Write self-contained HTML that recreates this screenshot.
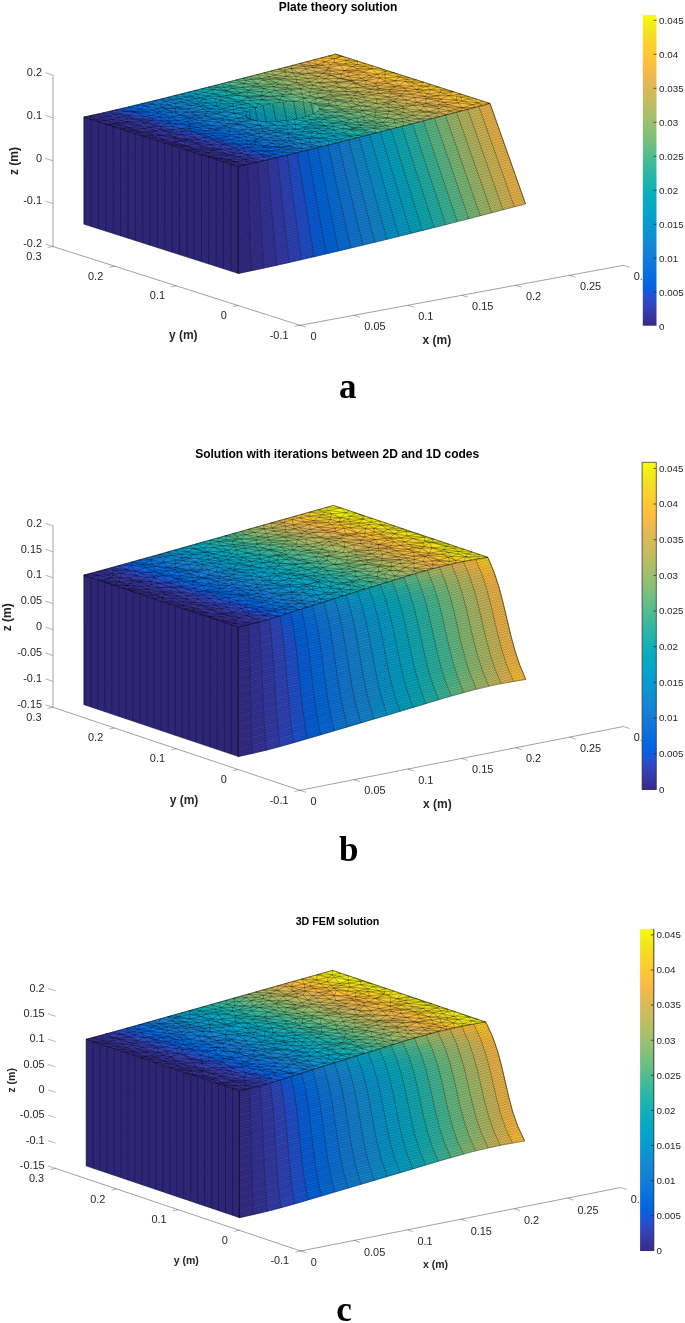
<!DOCTYPE html>
<html><head><meta charset="utf-8"><title>Plate solutions</title>
<style>html,body{margin:0;padding:0;background:#fff}svg{display:block}text{font-family:"Liberation Sans",Arial,Helvetica,sans-serif}</style>
</head><body>
<svg width="685" height="1323" viewBox="0 0 685 1323">
<defs><linearGradient id="parula" x1="0" y1="0" x2="0" y2="1"><stop offset="0.0000" stop-color="#f9fb0e"/><stop offset="0.0159" stop-color="#f6f313"/><stop offset="0.0317" stop-color="#f5eb18"/><stop offset="0.0476" stop-color="#f5e41d"/><stop offset="0.0635" stop-color="#f5de21"/><stop offset="0.0794" stop-color="#f7d826"/><stop offset="0.0952" stop-color="#fad32a"/><stop offset="0.1111" stop-color="#fcce2e"/><stop offset="0.1270" stop-color="#fec832"/><stop offset="0.1429" stop-color="#ffc337"/><stop offset="0.1587" stop-color="#fdbe3d"/><stop offset="0.1746" stop-color="#f8bb44"/><stop offset="0.1905" stop-color="#f1b94a"/><stop offset="0.2063" stop-color="#e9b94e"/><stop offset="0.2222" stop-color="#e1b952"/><stop offset="0.2381" stop-color="#d9ba56"/><stop offset="0.2540" stop-color="#d1bb59"/><stop offset="0.2698" stop-color="#c8bc5d"/><stop offset="0.2857" stop-color="#c0bc60"/><stop offset="0.3016" stop-color="#b7bd64"/><stop offset="0.3175" stop-color="#aebe67"/><stop offset="0.3333" stop-color="#a5be6b"/><stop offset="0.3492" stop-color="#9cbf6f"/><stop offset="0.3651" stop-color="#92bf73"/><stop offset="0.3810" stop-color="#87bf77"/><stop offset="0.3968" stop-color="#7cbf7b"/><stop offset="0.4127" stop-color="#71bf80"/><stop offset="0.4286" stop-color="#65be86"/><stop offset="0.4444" stop-color="#59bd8c"/><stop offset="0.4603" stop-color="#4dbc92"/><stop offset="0.4762" stop-color="#42bb98"/><stop offset="0.4921" stop-color="#38b99e"/><stop offset="0.5079" stop-color="#2eb7a4"/><stop offset="0.5238" stop-color="#25b5a9"/><stop offset="0.5397" stop-color="#1db3af"/><stop offset="0.5556" stop-color="#15b1b4"/><stop offset="0.5714" stop-color="#0faeb9"/><stop offset="0.5873" stop-color="#0aacbe"/><stop offset="0.6032" stop-color="#07a9c2"/><stop offset="0.6190" stop-color="#06a7c6"/><stop offset="0.6349" stop-color="#06a4ca"/><stop offset="0.6508" stop-color="#06a0cd"/><stop offset="0.6667" stop-color="#079ccf"/><stop offset="0.6825" stop-color="#0998d1"/><stop offset="0.6984" stop-color="#0c93d2"/><stop offset="0.7143" stop-color="#108ed2"/><stop offset="0.7302" stop-color="#1389d3"/><stop offset="0.7460" stop-color="#1485d4"/><stop offset="0.7619" stop-color="#1481d6"/><stop offset="0.7778" stop-color="#127dd8"/><stop offset="0.7937" stop-color="#1079da"/><stop offset="0.8095" stop-color="#0d75dc"/><stop offset="0.8254" stop-color="#0871de"/><stop offset="0.8413" stop-color="#046de0"/><stop offset="0.8571" stop-color="#0268e1"/><stop offset="0.8730" stop-color="#0363e1"/><stop offset="0.8889" stop-color="#0f5cdd"/><stop offset="0.9048" stop-color="#2053d4"/><stop offset="0.9206" stop-color="#2c4ac7"/><stop offset="0.9365" stop-color="#3243ba"/><stop offset="0.9524" stop-color="#353dad"/><stop offset="0.9683" stop-color="#3637a0"/><stop offset="0.9841" stop-color="#363093"/><stop offset="1.0000" stop-color="#352a87"/></linearGradient></defs>
<rect width="685" height="1323" fill="#fff"/>
<g id="plot-a">
<path d="M623.4,265.3 L300,325.3 L53,246.5" fill="none" stroke="#262626" stroke-width="0.55" stroke-opacity="0.8"/>
<path d="M53,246.5 L53,75.1" fill="none" stroke="#262626" stroke-width="1" stroke-opacity="0.42"/>
<path d="M300,325.3 L306.1,327.2 M353.9,315.3 L360,317.2 M407.8,305.3 L413.9,307.2 M461.7,295.3 L467.8,297.2 M515.6,285.3 L521.7,287.2 M569.5,275.3 L575.6,277.2 M623.4,265.3 L629.5,267.2 M300,325.3 L294.6,326.3 M238.2,305.6 L232.8,306.6 M176.5,285.9 L171.1,286.9 M114.7,266.2 L109.3,267.2 M53,246.5 L47.6,247.5 M53,246.5 L45.4,244.1 M53,203.7 L45.4,201.2 M53,160.8 L45.4,158.4 M53,117.9 L45.4,115.5 M53,75.1 L45.4,72.7" fill="none" stroke="#262626" stroke-width="0.5" stroke-opacity="0.7"/>
<g font-size="10.9" fill="#262626"><text x="310.4" y="339.9">0</text><text x="364.3" y="329.9">0.05</text><text x="418.2" y="319.9">0.1</text><text x="472.1" y="309.9">0.15</text><text x="526" y="299.9">0.2</text><text x="579.9" y="289.9">0.25</text><text x="633.8" y="279.9" clip-path="url(#clipa)">0.3</text></g>
<g font-size="10.9" fill="#262626" text-anchor="end"><text x="288.5" y="338.7">-0.1</text><text x="226.8" y="319">0</text><text x="165" y="299.3">0.1</text><text x="103.2" y="279.6">0.2</text><text x="41.5" y="259.9">0.3</text><text x="42" y="247.2">-0.2</text><text x="42" y="204.3">-0.1</text><text x="42" y="161.5">0</text><text x="42" y="118.6">0.1</text><text x="42" y="75.8">0.2</text></g>
<g font-size="12" font-weight="bold" fill="#262626">
<text x="422.6" y="344">x (m)</text>
<text x="168.9" y="339.3">y (m)</text>
<text transform="translate(17.5,161) rotate(-90)" text-anchor="middle">z (m)</text>
</g>
<text x="338" y="10.7" font-size="12" font-weight="bold" text-anchor="middle" fill="#000">Plate theory solution</text>
<polygon points="83.9,117.1 238.2,166.3 238.2,273.5 83.9,224.2" fill="#352a87"/>
<g stroke-width="0.6" stroke-linejoin="round"><polygon points="238.2,166.3 247.9,164.3 251.1,270.8 238.2,273.5" fill="#352b89" stroke="#352b89"/><polygon points="247.9,164.3 257.6,162.1 263.8,268.1 251.1,270.8" fill="#362f91" stroke="#362f91"/><polygon points="257.6,162.1 267.4,159.8 276.5,265.3 263.8,268.1" fill="#36359d" stroke="#36359d"/><polygon points="267.4,159.8 277.3,157.5 289,262.5 276.5,265.3" fill="#353cac" stroke="#353cac"/><polygon points="277.3,157.5 287.2,155.1 301.5,259.6 289,262.5" fill="#3045bd" stroke="#3045bd"/><polygon points="287.2,155.1 297.3,152.7 314,256.7 301.5,259.6" fill="#2350d0" stroke="#2350d0"/><polygon points="297.3,152.7 307.4,150.2 326.3,253.8 314,256.7" fill="#0b5edf" stroke="#0b5edf"/><polygon points="307.4,150.2 317.6,147.7 338.6,250.9 326.3,253.8" fill="#0269e1" stroke="#0269e1"/><polygon points="317.6,147.7 327.9,145.2 350.8,248 338.6,250.9" fill="#0871de" stroke="#0871de"/><polygon points="327.9,145.2 338.2,142.6 362.9,245.1 350.8,248" fill="#1079da" stroke="#1079da"/><polygon points="338.2,142.6 348.6,140 374.9,242.2 362.9,245.1" fill="#1481d6" stroke="#1481d6"/><polygon points="348.6,140 359.1,137.3 386.9,239.3 374.9,242.2" fill="#128bd3" stroke="#128bd3"/><polygon points="359.1,137.3 369.6,134.6 398.8,236.3 386.9,239.3" fill="#0a96d1" stroke="#0a96d1"/><polygon points="369.6,134.6 380.3,131.9 410.7,233.4 398.8,236.3" fill="#06a0cd" stroke="#06a0cd"/><polygon points="380.3,131.9 391,129.2 422.4,230.5 410.7,233.4" fill="#06a8c4" stroke="#06a8c4"/><polygon points="391,129.2 401.7,126.4 434.1,227.5 422.4,230.5" fill="#10afb8" stroke="#10afb8"/><polygon points="401.7,126.4 412.5,123.6 445.8,224.6 434.1,227.5" fill="#23b5ab" stroke="#23b5ab"/><polygon points="412.5,123.6 423.4,120.8 457.3,221.6 445.8,224.6" fill="#3dba9b" stroke="#3dba9b"/><polygon points="423.4,120.8 434.4,117.9 468.8,218.7 457.3,221.6" fill="#5dbe89" stroke="#5dbe89"/><polygon points="434.4,117.9 445.4,115.1 480.3,215.7 468.8,218.7" fill="#7fbf7a" stroke="#7fbf7a"/><polygon points="445.4,115.1 456.5,112.2 491.7,212.8 480.3,215.7" fill="#9ebe6e" stroke="#9ebe6e"/><polygon points="456.5,112.2 467.6,109.2 503,209.8 491.7,212.8" fill="#babd62" stroke="#babd62"/><polygon points="467.6,109.2 478.8,106.3 514.3,206.8 503,209.8" fill="#d4bb58" stroke="#d4bb58"/><polygon points="478.8,106.3 490,103.4 525.5,203.9 514.3,206.8" fill="#eeb94b" stroke="#eeb94b"/><polygon points="238.2,166.3 247.9,164.3 93.5,115 83.9,117.1" fill="#352c8b" stroke="#352c8b"/><polygon points="247.9,164.3 257.6,162.1 103.2,112.9 93.5,115" fill="#363399" stroke="#363399"/><polygon points="257.6,162.1 267.4,159.8 113,110.6 103.2,112.9" fill="#353cac" stroke="#353cac"/><polygon points="267.4,159.8 277.3,157.5 122.9,108.3 113,110.6" fill="#284dca" stroke="#284dca"/><polygon points="277.3,157.5 287.2,155.1 132.9,105.9 122.9,108.3" fill="#0364e1" stroke="#0364e1"/><polygon points="287.2,155.1 297.3,152.7 142.9,103.4 132.9,105.9" fill="#0770df" stroke="#0770df"/><polygon points="297.3,152.7 307.4,150.2 153,101 142.9,103.4" fill="#117ad9" stroke="#117ad9"/><polygon points="307.4,150.2 317.6,147.7 163.2,98.5 153,101" fill="#1484d4" stroke="#1484d4"/><polygon points="317.6,147.7 327.9,145.2 173.5,95.9 163.2,98.5" fill="#0e91d2" stroke="#0e91d2"/><polygon points="327.9,145.2 338.2,142.6 183.8,93.3 173.5,95.9" fill="#079ecf" stroke="#079ecf"/><polygon points="338.2,142.6 348.6,140 194.2,90.7 183.8,93.3" fill="#06a7c6" stroke="#06a7c6"/><polygon points="348.6,140 359.1,137.3 204.7,88.1 194.2,90.7" fill="#0daebb" stroke="#0daebb"/><polygon points="359.1,137.3 369.6,134.6 215.3,85.4 204.7,88.1" fill="#20b4ad" stroke="#20b4ad"/><polygon points="369.6,134.6 380.3,131.9 225.9,82.7 215.3,85.4" fill="#38b99d" stroke="#38b99d"/><polygon points="380.3,131.9 391,129.2 236.6,79.9 225.9,82.7" fill="#55bd8e" stroke="#55bd8e"/><polygon points="391,129.2 401.7,126.4 247.3,77.1 236.6,79.9" fill="#71bf80" stroke="#71bf80"/><polygon points="401.7,126.4 412.5,123.6 258.2,74.4 247.3,77.1" fill="#8abf76" stroke="#8abf76"/><polygon points="412.5,123.6 423.4,120.8 269.1,71.5 258.2,74.4" fill="#a0be6d" stroke="#a0be6d"/><polygon points="423.4,120.8 434.4,117.9 280,68.7 269.1,71.5" fill="#b5bd64" stroke="#b5bd64"/><polygon points="434.4,117.9 445.4,115.1 291,65.8 280,68.7" fill="#c9bc5c" stroke="#c9bc5c"/><polygon points="445.4,115.1 456.5,112.2 302.1,62.9 291,65.8" fill="#dcba54" stroke="#dcba54"/><polygon points="456.5,112.2 467.6,109.2 313.2,60 302.1,62.9" fill="#eeb94b" stroke="#eeb94b"/><polygon points="467.6,109.2 478.8,106.3 324.4,57.1 313.2,60" fill="#fdbe3e" stroke="#fdbe3e"/><polygon points="478.8,106.3 490,103.4 335.6,54.1 324.4,57.1" fill="#fdca31" stroke="#fdca31"/></g>
<pattern id="pra" width="2.4" height="2.6" patternUnits="userSpaceOnUse" patternTransform="skewY(-14)"><g fill="#000" fill-opacity="0.48"><rect x="0" y="0" width="1.25" height="0.6"/><rect x="1.2" y="1.3" width="1.2" height="0.6"/><rect x="0" y="1.3" width="0.1" height="0.6"/></g></pattern>
<pattern id="pla" width="2.4" height="2.6" patternUnits="userSpaceOnUse" patternTransform="skewY(17.7)"><g fill="#000" fill-opacity="0.48"><rect x="0" y="0" width="1.25" height="0.6"/><rect x="1.2" y="1.3" width="1.2" height="0.6"/><rect x="0" y="1.3" width="0.1" height="0.6"/></g></pattern>
<pattern id="pta" width="2.4" height="2.6" patternUnits="userSpaceOnUse" patternTransform="skewY(-14)"><g fill="#000" fill-opacity="0.1"><rect x="0" y="0" width="1.25" height="0.6"/><rect x="1.2" y="1.3" width="1.2" height="0.6"/><rect x="0" y="1.3" width="0.1" height="0.6"/></g></pattern>
<polygon points="238.2,166.3 261.5,161.2 285.2,155.6 309.4,149.7 334,143.6 359.1,137.3 384.5,130.8 410.4,124.2 436.6,117.4 463.1,110.4 490,103.4 335.6,54.1 308.8,61.2 282.2,68.1 256,74.9 230.2,81.6 204.7,88.1 179.7,94.4 155.1,100.5 130.9,106.4 107.1,112 83.9,117.1" fill="url(#pta)"/>
<polygon points="238.2,166.3 261.5,161.2 285.2,155.6 309.4,149.7 334,143.6 359.1,137.3 384.5,130.8 410.4,124.2 436.6,117.4 463.1,110.4 490,103.4 490,103.4 525.5,203.9 525.5,203.9 498.5,211 471.1,218.1 443.4,225.2 415.4,232.2 386.9,239.3 358.1,246.3 328.8,253.3 299.1,260.2 268.9,267 238.2,273.5" fill="url(#pra)"/>
<polygon points="83.9,117.1 238.2,166.3 238.2,273.5 83.9,224.2" fill="url(#pla)"/>
<path d="M238.2,166.3 L238.2,273.5 M230.9,164 L230.9,271.1 M223.5,161.6 L223.5,268.8 M216.2,159.3 L216.2,266.4 M208.8,157 L208.8,264.1 M201.5,154.6 L201.5,261.7 M194.1,152.3 L194.1,259.4 M186.8,149.9 L186.8,257 M179.4,147.6 L179.4,254.7 M172.1,145.2 L172.1,252.4 M164.7,142.9 L164.7,250 M157.4,140.5 L157.4,247.7 M150,138.2 L150,245.3 M142.7,135.8 L142.7,243 M135.3,133.5 L135.3,240.6 M128,131.2 L128,238.3 M120.6,128.8 L120.6,235.9 M113.3,126.5 L113.3,233.6 M105.9,124.1 L105.9,231.2 M98.6,121.8 L98.6,228.9 M91.2,119.4 L91.2,226.6 M83.9,117.1 L83.9,224.2 M238.2,166.3 238.2,273.5 M247.9,164.3 251.1,270.8 M257.6,162.1 263.8,268.1 M267.4,159.8 276.5,265.3 M277.3,157.5 289,262.5 M287.2,155.1 301.5,259.6 M297.3,152.7 314,256.7 M307.4,150.2 326.3,253.8 M317.6,147.7 338.6,250.9 M327.9,145.2 350.8,248 M338.2,142.6 362.9,245.1 M348.6,140 374.9,242.2 M359.1,137.3 386.9,239.3 M369.6,134.6 398.8,236.3 M380.3,131.9 410.7,233.4 M391,129.2 422.4,230.5 M401.7,126.4 434.1,227.5 M412.5,123.6 445.8,224.6 M423.4,120.8 457.3,221.6 M434.4,117.9 468.8,218.7 M445.4,115.1 480.3,215.7 M456.5,112.2 491.7,212.8 M467.6,109.2 503,209.8 M478.8,106.3 514.3,206.8 M490,103.4 525.5,203.9" fill="none" stroke="#000" stroke-width="0.42" stroke-opacity="0.75"/>
<path d="M286.3,91.8 291.1,94.2 304.6,98.1 281.8,96.3 280,99.8 261.9,99.7 257.7,103.9 247.9,103.7 241.4,104.4 241,107.9 233.3,109.5 226.1,111 220,112.3 218.4,114 204.8,115.9 196.4,115.3 191.8,117.3 179.9,115 196.4,115.3 206.7,113.3 204.8,115.9 213.9,119.1 202.5,121 200.2,123.2 189.2,123.8 190.3,126.4 189,128.5 187.7,130 181.6,131.6 169.1,132.5 169.8,134.7 158.5,135.1 162.2,139.6 157.4,140.5 164.7,142.9 168.9,142.7 162.2,139.6 174.8,138.2 158.5,135.1 174.6,136.8 169.8,134.7 181.2,134.5 169.1,132.5 162.8,131 158.5,135.1 155.7,130.7 144.2,128.5 133.9,130 128,131.2 135.3,133.5 142.7,135.8 150,138.2 157.4,140.5 155.3,137.4 158.5,135.1 153.1,135.3 142.7,135.8 137.7,132.3 135.3,133.5 M338.6,78.6 352,81 353.5,83.3 344.3,87.7 339.3,87.3 329.9,90.5 322.3,90.3 316.7,93.2 310,96 304.6,98.1 301.4,94 310,96 309.3,91.9 316.7,93.2 319.7,97.7 310,96 316.9,98.4 304.6,98.1 309.2,102.4 317.8,105.1 319.5,107 319.3,109.2 327.2,112.4 321,114.5 318.4,117.9 310.4,119.6 305.8,121.1 294.2,119.5 286.1,120.7 277.9,121.4 274.8,125 265.6,127.9 271.6,130.5 274.8,132.4 275.9,136 283.5,140.3 286.3,142.4 290.3,146 279.4,147.5 278.8,149.8 263,147.2 279.4,147.5 277.9,146.4 290.3,146 294.8,144.1 302.1,143.7 312,144.9 318.6,141.8 328.7,140.7 336.3,139.7 342.1,141.6 348.9,139.9 340.7,138.8 342.1,141.6 335.4,143.3 328.7,140.7 319,138.5 318.6,141.8 310.3,142.5 312,144.9 322,146.6 318.6,141.8 309.3,138.4 310.3,142.5 302.1,143.7 289.4,140.6 294.8,144.1 286.3,142.4 280.8,144.4 290.3,146 292.5,148 279.4,147.5 264.1,145.9 263,147.2 261.8,150.5 253.9,151.1 245.5,151.1 241,153.1 233.9,152.8 224.1,153.2 222.1,155.1 208.4,156.2 208.4,152.7 222.1,155.1 220.6,158.6 208.4,156.2 208.8,157 216.2,159.3 220.6,158.6 223.5,161.6 230.9,164 238.2,166.3 244.5,165 250.8,163.6 246.6,161.5 244.5,165 230.9,164 235.3,161.8 244.5,165 M160.6,126.3 155.9,125.3 149.2,127.2 144.2,128.5 146.9,132 155.7,130.7 160.3,129 149.2,127.2 155.7,130.7 151,132.6 158.5,135.1 M229.1,134.6 226.4,136.4 224.5,133.5 215,132.8 205.5,130.9 189,128.5 197.8,127.4 190.3,126.4 175.1,123.9 177.5,120.5 170,117.7 172.8,116.8 179.9,115 187,112.1 196.4,115.3 191.4,112 206.7,113.3 218.4,114 207.6,111.4 206.7,113.3 M229.8,131 214.5,130.2 205.5,130.9 197.8,127.4 189.2,123.8 204,126 200.2,123.2 211.4,125.5 202.5,121 218.3,122.1 213.9,119.1 222.9,118.4 204.8,115.9 200.5,117.8 191.8,117.3 190.9,118.3 172.8,116.8 162.8,114.6 170,117.7 159.2,116.9 161.9,120.8 151.8,120.5 141.7,120.8 126.9,122 121.9,123.7 120,125 109.2,124.8 113.3,126.5 120,125 118.1,123 121.9,123.7 128.2,127.6 120,125 122.4,128.2 128,131.2 120.6,128.8 122.4,128.2 113.3,126.5 120.6,128.8 M260.7,96.6 261.9,99.7 251,100.6 257.7,103.9 270.6,103.9 263.1,105.5 256.5,107.5 241,107.9 233,106.4 233.3,109.5 222.8,108.5 226.1,111 219.7,109.2 220,112.3 207.6,111.4 191.4,112 187,112.1 175.5,112.1 179.9,115 171.1,112.1 172.8,116.8 177.5,120.5 167.4,120.6 161.9,120.8 153.5,118.7 151.8,120.5 140.5,119.1 141.7,120.8 133.5,118.9 126.9,122 118.1,123 109.2,124.8 105.9,124.1 118.1,123 120.2,120.3 126.9,122 128,118.9 120.2,120.3 112.5,119.7 118.1,123 104.5,120.2 112.5,119.7 118.8,117.5 120.2,120.3 M406.1,90.8 389.5,91.7 377.4,89.9 379.5,88.5 396.1,86.7 398.8,85.7 405.1,81.4 411.1,81.9 414.1,83.5 405.1,81.4 412,86.1 398.8,85.7 405.1,88.2 396.1,86.7 389.1,89.7 377.4,89.9 378.3,93.4 372.6,94.8 363.3,97.2 356.5,98.6 350.1,101.1 345.8,102.3 336.8,105.8 342,109.1 340.4,110 335.1,112.1 339.4,115.9 349.8,113.8 359.5,112.1 361.8,110.6 375.7,110.1 373.5,108.8 367.4,106.4 361.8,110.6 373.5,108.8 380.4,107.5 375.7,110.1 389.5,111.2 388.2,107.2 394.7,107.3 403.4,106.1 407,103.7 416.7,102.4 422.6,104.4 425.2,103.2 438.6,100.9 440.8,99.1 448.7,95.7 456.6,96.2 461,97.1 467.9,96.3 460.6,94 461,97.1 461.6,100.9 472.7,104.7 475.4,107.2 482.7,105.3 490,103.4 482.6,101 477.6,103 482.7,105.3 472.7,104.7 462.7,107.7 461,111 453.8,112.9 449.6,110.9 461,111 468.2,109.1 462.7,107.7 475.4,107.2 468.2,109.1 M301.8,84.5 304,86.5 311.5,88.9 309.3,91.9 301.4,94 291.1,94.2 281.8,96.3 273,96.3 280,99.8 267.5,96.6 261.9,99.7 248,97.7 251,100.6 247.9,103.7 237.8,101.8 241.4,104.4 233,106.4 222.8,108.5 219.7,109.2 211.7,108.7 220,112.3 224.6,116.3 218.4,114 222.9,118.4 224.6,116.3 233.7,113.2 220,112.3 M296.7,82.7 298.6,84.8 300.8,88.9 301.4,94 291.6,89.9 291.1,94.2 283.5,94.4 281.8,96.3 295.2,101.5 280,99.8 287.1,101.8 278.8,102.6 270.6,103.9 261.9,99.7 278.8,102.6 280,99.8 M245.6,136.7 246.9,140.8 247.4,144.3 247.7,147.4 253.9,151.1 243.5,148.1 245.5,151.1 237.3,150.2 241,153.1 239.1,156.9 246.4,159.4 257.1,162.2 250.8,163.6 M149.2,127.2 160.6,126.3 160.3,129 162.8,131 169.8,134.7 M155.9,125.3 157.2,123.3 151.8,120.5 146.2,122.2 141.7,120.8 143.7,123.2 126.9,122 141.1,125.6 121.9,123.7 M393.2,101.5 403.4,106.1 387.8,103.7 388.2,107.2 380.4,107.5 383.3,104.7 388.2,107.2 397.3,109.8 394.7,107.3 387.8,103.7 383.3,104.7 376.1,103.3 380.4,107.5 367.4,106.4 357.6,105 345.8,102.3 351.6,107.1 336.8,105.8 329.2,103.8 317.8,105.1 314.3,103.5 316.9,98.4 319.7,97.7 330.6,94.6 316.7,93.2 331,92 322.3,90.3 309.3,91.9 300.8,88.9 311.5,88.9 322.3,90.3 319.3,88.2 312.6,85 311.5,88.9 319.3,88.2 323.9,87 322.3,90.3 M391.3,100 393.2,101.5 407,103.7 406.4,100 416.7,102.4 425.2,103.2 426.5,98.7 438.6,100.9 439.1,104.6 425.2,103.2 436.6,106.2 422.6,104.4 423.5,106.3 428.8,111.7 434.4,113.3 427.6,115.9 419,118.9 408.9,120.7 402.3,121.7 394.5,122.7 387.1,125.8 382.1,126.4 373.7,128.1 365.2,130.2 366,132.5 357.5,135.3 355.7,138.2 348.9,139.9 351.3,136.1 340.7,138.8 336.3,139.7 323.5,137.8 328.7,140.7 328.7,145 318.6,141.8 M240.1,134.2 237.7,131.4 229,127.6 225.5,125.9 211.4,125.5 204,126 197.8,127.4 211.1,128.8 204,126 M237.7,131.4 229.8,131 223.4,128.3 219.3,127.9 211.4,125.5 218.3,122.1 222.9,120.1 213.9,119.1 200.5,117.8 196.4,115.3 M223.5,161.6 216.2,159.3 M232.7,103.6 233,106.4 216,105.9 219.7,109.2 M220.2,100.2 221.6,103.8 233,106.4 M174.6,136.8 174.8,138.2 175.7,142 162.2,139.6 164.7,142.9 172.1,145.2 168.9,142.7 175.7,142 180.3,140.3 174.8,138.2 187.7,139.3 174.6,136.8 181.2,134.5 181.6,131.6 190.8,134.3 181.2,134.5 187.7,139.3 180.3,140.3 183.8,141.1 175.7,142 173.8,143.8 168.9,142.7 M222.9,120.1 222.9,118.4 230.6,120.2 224.6,116.3 237.1,118.3 251.1,119.6 256.2,120.7 262.5,121.5 274.8,125 269.9,121.7 262.5,121.5 259.6,125.4 265.6,127.9 279.8,128.3 274.8,125 284.1,125.8 277.9,121.4 269.9,121.7 M309.9,81.9 312.6,85 323.9,87 329.9,90.5 331,92 330.6,94.6 332.2,96 319.7,97.7 327.9,100 316.9,98.4 309.2,102.4 314.3,103.5 327.9,100 331.6,97.9 338.4,99.9 345.8,102.3 334.6,101.3 336.8,105.8 329,105.7 340.4,110 345.1,111.5 349.8,113.8 335.1,112.1 327.2,112.4 331.8,115.5 339.4,115.9 350.5,119.4 346.2,122.8 361.2,125 373.7,128.1 376.2,132.9 366,132.5 369.4,134.7 362.5,136.4 355.7,138.2 351.3,136.1 357.5,135.3 362.5,136.4 M338.4,99.9 350.1,101.1 357.6,105 351.6,107.1 361.8,110.6 351.3,109.4 359.5,112.1 345.1,111.5 335.1,112.1 331.8,115.5 321,114.5 326.3,117.3 318.4,117.9 308.2,115.9 313.5,113.7 321,114.5 317.3,111.4 313.5,113.7 318.4,117.9 323.4,119.4 310.4,119.6 301.7,117.8 308.2,115.9 310.4,119.6 311.3,122.6 305.8,121.1 301.7,117.8 294.2,119.5 295.5,124.4 305.8,121.1 310,124.2 313.6,126.1 325.5,125.9 329,128.3 334.1,129.9 337,133.8 351.3,136.1 333.9,135.8 336.3,139.7 335.4,143.3 328.7,145 322,146.6 315.4,148.3 308.8,149.9 302.2,151.5 295.7,153.1 289.1,154.7 281.5,152.2 278.8,149.8 289.2,149.5 279.4,147.5 M327.9,100 329.2,103.8 314.3,103.5 M273.5,86.6 274.4,90.4 283.5,94.4 273,96.3 267.5,96.6 260.7,96.6 248,97.7 241.2,100.5 247.9,103.7 256.5,107.5 257.7,103.9 263.1,105.5 M279.1,84.7 287.7,88.1 291.6,89.9 286.3,91.8 283.5,94.4 270.5,92.2 273,96.3 261.1,95.3 267.5,96.6 M241.1,92.7 237.1,95.1 241.2,100.5 251,100.6 M226.7,90.5 216.9,87.4 224.1,87.3 231,86 244.8,83.5 257.7,83.8 262.6,80 268.8,79.1 275.8,78 286.4,76.3 295.6,76.3 302.1,74.4 308.4,73.3 316.4,72 328,70 331.2,70.9 344.3,70.7 352.2,66.5 357.3,64.7 344.7,64 352.2,66.5 340.3,65.1 344.3,70.7 327.8,67.9 331.2,70.9 341.2,74.1 344.3,70.7 348.9,72 347.7,76.4 353,80.3 355.4,83.1 353.5,83.3 336,82.8 339.3,87.3 323.9,87 334,85.8 336,82.8 344.3,87.7 347.2,89.2 339.3,87.3 334,85.8 318.8,82.6 323.9,87 M224.5,133.5 214.5,130.2 211.1,128.8 211.4,125.5 M248.3,90.3 247.8,92.3 261.1,95.3 260.7,96.6 246.1,96.2 248,97.7 237.1,95.1 227.1,97.8 237.8,101.8 232.7,103.6 241.4,104.4 256.5,107.5 251.3,109.6 247.7,111.8 233.3,109.5 233.7,113.2 226.1,111 M253.9,151.1 247.6,154.9 241,153.1 231.8,154.9 224.1,153.2 208.4,152.7 212.1,150.7 224.1,153.2 220.5,149.3 233.9,152.8 237.3,150.2 243.5,148.1 247.7,147.4 261.8,150.5 265.9,151.5 253.9,151.1 260.6,154.4 264.2,156.6 263.4,160.8 269.8,159.3 269.2,156.1 276.2,157.8 274.3,154.3 282.7,156.2 289.1,154.7 M208.3,96 204.1,99.1 206.8,102.8 216,105.9 222.8,108.5 M350.2,129.7 357.5,135.3 369.4,134.7 376.2,132.9 365.2,130.2 350.2,129.7 366,132.5 M334.6,101.3 327.9,100 338.4,99.9 332.2,96 331.6,97.9 319.7,97.7 M240.5,121.7 251.1,119.6 247.6,118 256.2,120.7 240.5,121.7 230.6,120.2 222.9,120.1 226.7,123.8 218.3,122.1 225.5,125.9 219.3,127.9 211.1,128.8 205.5,130.9 191.6,131.2 181.6,131.6 173.4,129.9 169.1,132.5 166.8,131.1 160.3,129 173.4,129.9 160.6,126.3 173,126.5 175.1,123.9 182.1,123.7 190.3,126.4 180.4,128.6 181.6,131.6 M382.2,122.5 387.1,125.8 390.1,129.4 373.7,128.1 383.1,131.2 376.2,132.9 M426.3,86.5 416.4,89.5 405.1,88.2 389.1,89.7 379.5,88.5 371.2,89.2 377.4,89.9 368.5,92.3 372.6,94.8 377,99.1 363.3,97.2 367.3,100.9 356.5,98.6 359.7,102.3 350.1,101.1 352.3,98 356.5,98.6 354.1,95.4 363.3,97.2 363.2,94.7 372.6,94.8 388.2,97.1 378.3,93.4 389.5,91.7 389.1,89.7 406.1,90.8 405.1,88.2 412,86.1 414.1,83.5 420.6,86 412,86.1 416.4,89.5 406.1,90.8 402.3,93.8 389.5,91.7 391.5,93.6 378.3,93.4 368.5,92.3 357.2,91.8 346,91.5 329.9,90.5 M224.1,153.2 226,155.7 222.1,155.1 M377.1,85.7 379.5,88.5 374.7,86.2 364,86.9 353.5,83.3 357,87.5 344.3,87.7 M353.4,128.8 365.2,130.2 360.6,127.6 373.7,128.1 376,125.8 382.1,126.4 390.1,129.4 383.1,131.2 M354.4,127.5 353.4,128.8 350.2,129.7 343.4,132.8 351.3,136.1 M394.9,80.7 398.8,85.7 386.7,83.2 396.1,86.7 377.1,85.7 375.6,83.2 365.8,80.6 355.4,83.1 352,81 336,82.8 318.8,82.6 312.6,85 304,86.5 300.8,88.9 291.6,89.9 285.1,89.4 286.3,91.8 274.4,90.4 270.5,92.2 261.1,95.3 246.1,96.2 237.1,95.1 227.1,95.5 227.1,97.8 241.2,100.5 237.8,101.8 220.2,100.2 232.7,103.6 221.6,103.8 216,105.9 211.7,108.7 207.6,111.4 204,109.3 191.4,112 188,108.9 187,112.1 180.7,109.1 175.5,112.1 171.1,112.1 162.8,114.6 159.2,116.9 153.5,118.7 140.5,119.1 133.5,118.9 128,118.9 118.8,117.5 125.9,116.2 128,118.9 M154.4,100.6 147.8,102.3 141.3,103.8 134.8,105.4 140.3,109.1 128.3,107 134.8,105.4 145.1,106 152.4,110.2 158,113.3 159.2,116.9 150.1,115.6 153.5,118.7 145.2,116.5 140.5,119.1 127.7,115.2 133.5,118.9 125.9,116.2 127.7,115.2 145.2,116.5 150.1,115.6 158,113.3 162.8,114.6 159.3,111.7 171.1,112.1 165.1,108.9 175.5,112.1 175.4,108.5 180.7,109.1 188,108.9 204,109.3 211.7,108.7 200,106.4 204,109.3 M334.1,129.9 343.4,132.8 357.5,135.3 M173.4,129.9 173,126.5 169.4,123.2 161.9,120.8 157.2,123.3 160.6,126.3 169.4,123.2 175.1,123.9 167.4,120.6 170,117.7 M301.9,148.6 290.3,146 M274.3,154.3 269.2,156.1 264.2,156.6 269.8,159.3 276.2,157.8 282.7,156.2 281.5,152.2 295.7,153.1 289.2,149.5 302.2,151.5 292.5,148 289.2,149.5 281.5,152.2 274.3,154.3 260.6,154.4 269.2,156.1 M352.5,127.9 350.2,129.7 342.5,128.8 343.4,132.8 337,133.8 333.9,135.8 340.7,138.8 M299.6,134.9 309.3,138.4 319,138.5 323.5,137.8 333.9,135.8 319.6,133.6 323.5,137.8 311.4,137 319,138.5 M312,132.8 311.4,137 309.3,138.4 299,139.4 302.1,143.7 301.9,148.6 294.8,144.1 M226.4,136.4 215,132.8 204.2,133.7 191.6,131.2 187.7,130 180.4,128.6 189,128.5 191.6,131.2 190.8,134.3 194.7,137.2 181.2,134.5 M426.5,98.7 440.8,99.1 428.5,97.5 437.1,95.8 440.8,99.1 443,102.4 438.6,100.9 M367.3,100.9 359.7,102.3 357.6,105 359.9,106.1 367.4,106.4 359.7,102.3 376.1,103.3 367.3,100.9 377,99.1 376.1,103.3 384.6,102.6 383.3,104.7 M298.6,84.8 304,86.5 M394.7,107.3 402.6,108.3 403.4,106.1 413.3,105.2 422.6,104.4 M90.1,115.8 83.9,117.1 91.2,119.4 98.6,121.8 104.5,120.2 96.7,119.9 90.1,115.8 96.4,114.4 110.1,116.2 102.7,113 113,114.1 109.1,111.5 121.3,113.8 115.4,110 123.9,111.3 121.8,108.5 115.4,110 109.1,111.5 102.7,113 96.4,114.4 102,117.3 90.1,115.8 91.2,119.4 96.7,119.9 102,117.3 104.5,120.2 105.9,124.1 113.3,126.5 M191.8,117.3 195.3,119.6 200.2,123.2 186.6,121.6 189.2,123.8 182.1,123.7 186.6,121.6 195.3,119.6 202.5,121 200.5,117.8 195.3,119.6 190.9,118.3 179.9,115 M441.1,90.1 440.4,92.4 437.1,95.8 448.7,95.7 444.5,93.9 437.1,95.8 424.4,96.4 426.5,98.7 416.7,102.4 414.4,97.5 426.5,98.7 428.5,97.5 424.4,96.4 414.4,97.5 406.4,100 393.2,101.5 387.8,103.7 384.6,102.6 393.2,101.5 397,98.9 406.4,100 399.8,95.9 414.4,97.5 411.7,94.1 424.4,96.4 427.7,93.9 437.1,95.8 M430.5,89.7 427.7,93.9 440.4,92.4 444.5,93.9 453.2,91.6 448.7,95.7 460.6,94 456.6,96.2 456.3,100 461,97.1 468.5,98.9 475.3,98.7 467.9,96.3 468.5,98.9 477.6,103 490,103.4 M287.7,85.1 300.8,88.9 287.7,88.1 285.1,89.4 274.4,90.4 263.7,88.4 270.5,92.2 262.4,91.8 261.1,95.3 M361.8,110.6 359.9,106.1 351.6,107.1 342,109.1 345.1,111.5 351.3,109.4 342,109.1 329,105.7 319.3,109.2 340.4,110 M377,99.1 384.6,102.6 391.3,100 377,99.1 388.2,97.1 391.5,93.6 402.3,93.8 399.8,95.9 388.2,97.1 391.3,100 397,98.9 388.2,97.1 M246.9,140.8 252.2,143.3 256.1,144.8 263,147.2 247.7,147.4 256.1,144.8 264.1,145.9 277.9,146.4 280.8,144.4 272.1,143.3 277.9,146.4 M225.5,125.9 226.7,123.8 230.6,120.2 237.1,118.3 233.7,113.2 247.7,111.8 241,107.9 251.3,109.6 M414.1,83.5 423.8,82.2 411.1,81.9 407,79.4 409.1,77.6 399.5,76.9 401.7,75.2 394.4,72.9 387,70.5 379.7,68.2 371.7,68.7 372.3,65.8 379.7,68.2 385.7,71.6 394.4,72.9 384.5,74.3 379.7,78 365.8,80.6 372.6,77 361.4,78.4 365.8,80.6 353,80.3 352,81 334.8,81.7 336,82.8 M411.1,81.9 416.5,79.9 409.1,77.6 401.7,75.2 M128,131.2 137.7,132.3 146.9,132 133.9,130 137.7,132.3 153.1,135.3 146.9,132 151,132.6 153.1,135.3 155.3,137.4 150,138.2 M439,112 434.4,113.3 423.4,112 427.6,115.9 413.1,115.5 419,118.9 406,117.3 408.9,120.7 402.9,118.6 402.3,121.7 394.5,119.7 394.5,122.7 382.2,122.5 376.4,123.3 382.1,126.4 M449.6,110.9 439,112 428.8,111.7 423.4,112 413.1,115.5 406,117.3 402.9,118.6 394.5,119.7 382.2,122.5 371.7,121.1 376.4,123.3 387.1,125.8 397.1,127.6 404.1,125.8 394.5,122.7 397.1,127.6 390.1,129.4 M214.9,98.5 216.6,102.9 216,105.9 202,105.3 211.7,108.7 M216.9,87.4 208.1,87.2 215,85.4 216.9,87.4 213,89.5 201.3,88.9 194.5,90.6 187.7,92.3 191.9,96.1 195.1,98.7 199.3,101.9 206.8,102.8 202,105.3 200,106.4 188,108.9 176.1,107 180.7,109.1 M387,70.5 385.7,71.6 384.5,74.3 377.5,74.1 372.6,77 379.7,78 377.5,74.1 369.9,75.3 372.6,77 M406,117.3 398.4,114.4 402.9,118.6 387.4,118 382.2,122.5 378.9,118.9 375,117.2 371.7,121.1 365.8,122.7 376,125.8 376.4,123.3 365.8,122.7 361.2,125 360.6,127.6 353.4,128.8 352.5,127.9 342.5,128.8 334.1,129.9 330.5,133.3 333.9,135.8 M413.1,115.5 398.4,114.4 387.4,118 394.5,119.7 M302.1,143.7 311.5,146.7 312,144.9 M257.7,83.8 245.8,80.5 244.8,83.5 228.8,81.9 231,86 221.9,83.7 215,85.4 224.1,87.3 221.9,83.7 228.8,81.9 235.7,80.1 242.7,78.3 249.7,76.5 251.7,79.2 257.7,83.8 259.6,86.3 263.7,88.4 262.4,91.8 247.8,92.3 246.1,96.2 241.1,92.7 247.8,92.3 M244.8,83.5 235.7,80.1 245.8,80.5 251.7,79.2 262.6,80 261.1,78.4 268.8,79.1 269.5,76.8 275.8,78 274.7,75 286.4,76.3 293,72.9 295.6,76.3 296.5,79.7 286.4,76.3 285.7,72.1 293,72.9 302.1,74.4 298.8,73 308.4,73.3 305.8,68.7 316.4,72 312.5,67.4 328,70 327.8,67.9 340.3,65.1 344.7,64 350.5,62.5 357.3,64.7 365,63.5 372.3,65.8 365.3,66.4 352.2,66.5 357.1,68.7 344.3,70.7 358.3,70.3 363.3,72.1 369.9,75.3 361.4,78.4 353,80.3 340.9,78.4 352,81 M328,70 322.1,73.3 331.2,70.9 329,73.6 330.9,75.3 338.6,78.6 334.8,81.7 318.8,82.6 309.9,81.9 301.8,84.5 312.6,85 M327.8,67.9 312.5,67.4 305.8,68.7 298.8,73 293,72.9 284.5,70.2 285.7,72.1 274.7,75 269.5,76.8 261.1,78.4 251.7,79.2 242.7,78.3 245.8,80.5 M293,72.9 290.9,68.4 298.8,73 M247.7,147.4 239.3,145.2 243.5,148.1 235.8,148 237.3,150.2 228.8,148.9 233.9,152.8 231.8,154.9 239.1,156.9 228.9,159.4 235.3,161.8 223.5,161.6 227.6,160.3 228.9,159.4 246.4,159.4 235.3,161.8 246.6,161.5 257.1,162.2 263.4,160.8 251.5,158.4 257.1,162.2 M201.5,147.7 212.1,150.7 220.5,149.3 228.8,148.9 235.8,148 239.3,145.2 247.4,144.3 256.1,144.8 254.2,141.3 264.1,145.9 272.1,143.3 273.7,140.4 280.8,144.4 M288.3,133.2 299.6,134.9 311.4,137 319.6,133.6 330.5,133.3 337,133.8 M274.8,132.4 288.3,134.5 288.1,137.8 289.4,140.6 286.3,142.4 273.7,140.4 283.5,140.3 289.4,140.6 299,139.4 310.3,142.5 M351.3,109.4 351.6,107.1 M220.5,149.3 213.8,149.1 212.1,150.7 201.2,149.8 208.4,152.7 197.7,151.4 201.2,149.8 195.9,149.4 197.7,151.4 201.5,154.6 208.4,156.2 M155.7,130.7 162.8,131 166.8,131.1 173.4,129.9 180.4,128.6 173,126.5 M341.2,74.1 340.9,78.4 338.6,78.6 325,78.6 318.8,82.6 316,79 309.9,81.9 296.7,82.7 301.8,84.5 298.6,84.8 287.7,85.1 287.7,88.1 273.5,86.6 285.1,89.4 M287.5,129.3 288.3,133.2 288.3,134.5 294.4,137.2 299,139.4 288.1,137.8 283.5,140.3 270.9,137.7 273.7,140.4 266.4,139.9 272.1,143.3 254.2,141.3 252.2,143.3 247.4,144.3 233.7,143.3 239.3,145.2 224.5,143.9 235.8,148 222.4,144.5 220.5,149.3 216.6,148.6 210.6,144.8 213.8,149.1 216.6,148.6 222.4,144.5 228.8,148.9 M191.6,131.2 198.2,133.9 190.8,134.3 M356.8,74.7 361.4,78.4 347.7,76.4 340.9,78.4 330.9,75.3 325,78.6 334.8,81.7 M316,79 325,78.6 318.5,76.5 302.1,74.4 307.6,78.5 295.6,76.3 M205.5,130.9 204.2,133.7 198.2,133.9 194.7,137.2 187.7,139.3 183.8,141.1 185,145.6 175.7,142 M237.1,118.3 240.5,121.7 236.6,123.1 230.6,120.2 M318.5,76.5 308.4,73.3 322.1,73.3 316.4,72 M254.1,86.9 263.7,88.4 273.5,86.6 279.1,84.7 287.7,85.1 296.7,82.7 296.5,79.7 309.9,81.9 307.6,78.5 316,79 318.5,76.5 330.9,75.3 341.2,74.1 347.7,76.4 356.8,74.7 369.9,75.3 M252.7,85.6 257.7,83.8 271.5,84.2 262.6,80 275.9,82.7 268.8,79.1 280.3,79.7 275.8,78 284.3,78.7 286.4,76.3 M360.6,127.6 354.4,127.5 352.5,127.9 345.1,124.7 342.5,128.8 332.5,126.3 334.1,129.9 322.8,130.6 319.6,133.6 312,132.8 299.6,134.9 294.4,137.2 309.3,138.4 M357.6,61.1 357.3,64.7 365.3,66.4 365,63.5 357.6,61.1 350.5,62.5 346.8,60.4 344.7,64 334.2,62.6 340.3,65.1 331.1,64.8 327.8,67.9 322.7,65.2 312.5,67.4 304.4,66.1 299.4,63.6 306.6,61.7 313.8,59.8 324.4,61.7 321,57.9 334.4,58.6 328.3,56 340.9,56.2 334.4,58.6 334.2,62.6 331.1,64.8 322.7,65.2 311.8,65.7 299.4,63.6 292.2,65.5 290.9,68.4 305.8,68.7 304.4,66.1 290.9,68.4 284.5,70.2 277.9,69.2 285.7,72.1 270.8,71.1 274.7,75 263.8,72.9 270.8,71.1 277.9,69.2 285.1,67.4 290.9,68.4 M461,111 454.9,109.2 445.5,106.4 449.6,110.9 454.9,109.2 462.7,107.7 445.5,106.4 438.5,108.5 439,112 446.6,114.7 453.8,112.9 M105.9,124.1 98.6,121.8 96.7,119.9 M376,125.8 361.2,125 354.4,127.5 345.1,124.7 361.2,125 357.3,122.2 365.8,122.7 364.6,120.5 371.7,121.1 378.9,118.9 387.4,118 375,117.2 375,115.1 387.4,118 387.8,114.1 398.4,114.4 404,112.5 413.1,115.5 412.8,111.9 423.4,112 420.7,110.4 428.8,111.7 438.5,108.5 449.6,110.9 446.6,114.7 434.4,113.3 439.4,116.6 427.6,115.9 432.3,118.5 425.2,120.3 418.1,122.2 411.1,124 404.1,125.8 402.3,121.7 411.1,124 408.9,120.7 418.1,122.2 419,118.9 425.2,120.3 M322.1,73.3 330.9,75.3 M274.8,125 259.6,125.4 256.2,120.7 M277.9,121.4 289,124.8 286.1,120.7 295.5,124.4 295.6,129.3 288.3,133.2 303.6,131.6 299.6,134.9 288.3,134.5 275.9,136 288.1,137.8 294.4,137.2 M319.6,133.6 315.1,131.5 312,132.8 303.6,131.6 315.1,131.5 322.8,130.6 330.5,133.3 M245.5,151.1 247.6,154.9 251.5,158.4 246.4,159.4 246.6,161.5 M142.7,135.8 155.3,137.4 162.2,139.6 M317.6,64.5 306.6,61.7 311.8,65.7 312.5,67.4 M180.4,128.6 175.1,123.9 M254.2,141.3 266.4,139.9 270.9,137.7 275.9,136 268.5,134 270.9,137.7 260.1,137.1 266.4,139.9 258,139 254.2,141.3 246.9,140.8 239.2,140.6 247.4,144.3 M448.7,95.7 456.3,100 440.8,99.1 M326.3,117.3 331.8,115.5 334.1,117.3 339.4,115.9 357.6,118.1 349.8,113.8 363,116.8 359.5,112.1 367.4,114.7 361.8,110.6 375.9,112 375.7,110.1 M185,145.6 195.9,149.4 201.5,147.7 201.2,149.8 M391.5,93.6 399.8,95.9 397,98.9 M201.7,145.4 213.8,149.1 201.5,147.7 201.7,145.4 210.6,144.8 222.4,144.5 224.5,143.9 233.7,143.3 239.2,140.6 230.3,139.6 233.7,143.3 223.2,140.7 224.5,143.9 218.4,142.1 222.4,144.5 M242.3,124.6 236.6,123.1 226.7,123.8 238.3,124.4 225.5,125.9 223.4,128.3 214.5,130.2 219.3,127.9 M236.6,123.1 238.3,124.4 229,127.6 223.4,128.3 M263.7,88.4 248.3,90.3 262.4,91.8 M235.3,161.8 227.6,160.3 220.6,158.6 208.8,157 201.5,154.6 208.4,152.7 M446.6,114.7 439.4,116.6 432.3,118.5 419,118.9 M330.6,94.6 347.8,94.9 331,92 346,91.5 339.3,87.3 M226,91.6 227.1,95.5 221.4,96.6 220.2,100.2 216.6,102.9 221.6,103.8 M234.9,93.8 237.1,95.1 M199.7,97.7 204.1,99.1 216.6,102.9 206.8,102.8 196.6,103.8 200,106.4 192,105.5 188,108.9 M345.1,124.7 332.5,126.3 329,128.3 322.8,130.6 316.8,128.3 315.1,131.5 304.6,128.9 303.6,131.6 295.6,129.3 304.6,128.9 316.8,128.3 329,128.3 M316.8,128.3 313.6,126.1 304.9,127 304.6,128.9 M398.4,114.4 389.5,111.2 380.4,107.5 M302.2,151.5 301.9,148.6 308.8,149.9 311.5,146.7 315.4,148.3 M333.4,123 332.5,126.3 325.5,125.9 316.8,128.3 304.9,127 295.6,129.3 287.5,129.3 280.2,130.7 288.3,133.2 274.8,132.4 268.5,134 260.1,137.1 258,139 246.9,140.8 238.3,137.5 239.2,140.6 M342.8,121.5 346.2,122.8 345.1,124.7 333.4,123 346.2,122.8 357.3,122.2 364.6,120.5 357.6,118.1 357.3,122.2 350.5,119.4 342.8,121.5 333.4,123 325.5,125.9 310,124.2 304.9,127 295.5,124.4 310,124.2 311.3,122.6 325.5,125.9 319.7,122 310.4,119.6 M424.4,96.4 418.6,92.3 427.7,93.9 422.9,90.9 418.6,92.3 406.1,90.8 411.7,94.1 402.3,93.8 M376.1,103.3 367.4,106.4 M173.8,143.8 182,146.2 195.9,149.4 186.8,149.9 197.7,151.4 194.1,152.3 186.8,149.9 182,146.2 185,145.6 201.5,147.7 197.1,143.9 201.7,145.4 198,142.9 210.6,144.8 218.4,142.1 223.2,140.7 230.3,139.6 238.3,137.5 245.6,136.7 258,139 251.7,135.2 260.1,137.1 259.4,133.4 268.5,134 262.2,131.4 274.8,132.4 280.2,130.7 271.6,130.5 262.2,131.4 259.4,133.4 251.7,135.2 245.6,136.7 240.1,134.2 238.3,137.5 226.4,136.4 230.3,139.6 219.5,138.6 212.5,135.3 204.2,133.7 209.1,136.8 212.5,135.3 215,132.8 214.5,130.2 M357.2,91.8 347.2,89.2 346,91.5 347.8,94.9 332.2,96 352.3,98 347.8,94.9 356.3,92.8 346,91.5 M399.8,95.9 411.7,94.1 418.6,92.3 416.4,89.5 420.6,86 426.3,86.5 430.5,89.7 440.4,92.4 453.2,91.6 441.1,90.1 430.5,89.7 416.4,89.5 422.9,90.9 430.5,89.7 438.5,86.9 441.1,90.1 445.9,89.3 438.5,86.9 426.3,86.5 431.2,84.6 420.6,86 423.8,82.2 431.2,84.6 438.5,86.9 M350.3,58.8 342.9,56.4 335.6,54.1 328.3,56 321,57.9 313.8,59.8 317.6,64.5 322.7,65.2 324.4,61.7 331.1,64.8 M284.3,78.7 296.7,82.7 280.3,79.7 287.7,85.1 275.9,82.7 279.1,84.7 271.5,84.2 273.5,86.6 259.6,86.3 254.1,86.9 248.3,90.3 241.1,92.7 234.9,93.8 227.1,95.5 212.6,93.9 221.4,96.6 227.1,97.8 220.2,100.2 214.9,98.5 204.1,99.1 199.3,101.9 196.6,103.8 202,105.3 M213,89.5 208.1,87.2 201.3,88.9 205,92.5 194.5,90.6 196.6,94.3 187.7,92.3 181,94 185.9,96.9 187.5,100.4 196.6,103.8 192,105.5 176.1,107 175.4,108.5 165.1,108.9 159.3,111.7 158,113.3 147.8,112 150.1,115.6 134.6,112.2 145.2,116.5 M161.2,104.2 161.6,107.2 165.1,108.9 157.8,108.5 159.3,111.7 152.4,110.2 147.8,112 134.6,112.2 127.7,115.2 121.3,113.8 125.9,116.2 113,114.1 118.8,117.5 110.1,116.2 112.5,119.7 102,117.3 110.1,116.2 113,114.1 121.3,113.8 123.9,111.3 127.7,115.2 M347.2,89.2 357,87.5 364,86.9 355.4,83.1 366,84.4 365.8,80.6 M324.4,61.7 334.2,62.6 346.8,60.4 357.6,61.1 350.3,58.8 346.8,60.4 334.4,58.6 324.4,61.7 317.6,64.5 311.8,65.7 304.4,66.1 292.2,65.5 285.1,67.4 284.5,70.2 M334.4,58.6 342.9,56.4 346.8,60.4 M413.3,105.2 407,103.7 M238.3,137.5 229.1,134.6 224.5,133.5 229.8,131 229,127.6 242.5,129.9 238.3,124.4 242.3,124.6 240.5,121.7 259.6,125.4 242.3,124.6 248.4,127.5 251.2,129.9 259.4,133.4 248,133.1 251.2,129.9 262.2,131.4 262.9,129 265.6,127.9 M210.6,144.8 205.6,141.3 218.4,142.1 212.7,139.6 223.2,140.7 219.5,138.6 209.1,136.8 198.2,133.9 205.4,137.4 209.1,136.8 212.7,139.6 205.4,137.4 194.7,137.2 197.8,139.3 187.7,139.3 190.5,140.7 183.8,141.1 197.1,143.9 185,145.6 173.8,143.8 172.1,145.2 182,146.2 179.4,147.6 186.8,149.9 M335.1,112.1 319.3,109.2 317.3,111.4 327.2,112.4 M238.3,124.4 248.4,127.5 242.5,129.9 237.7,131.4 248,133.1 251.7,135.2 240.1,134.2 229.8,131 229.1,134.6 240.1,134.2 248,133.1 242.5,129.9 251.2,129.9 262.9,129 259.6,125.4 248.4,127.5 262.9,129 271.6,130.5 279.8,128.3 280.2,130.7 M482.6,101 475.3,98.7 477.6,103 472.7,104.7 458.1,102.9 462.7,107.7 447.5,104.5 445.5,106.4 436.6,106.2 438.5,108.5 423.5,106.3 420.7,110.4 412.8,111.9 404,112.5 389.5,111.2 387.8,114.1 375,115.1 367.4,114.7 375,117.2 363,116.8 371.7,121.1 M246.4,159.4 248.1,157.4 239.1,156.9 247.6,154.9 264.2,156.6 251.5,158.4 248.1,157.4 247.6,154.9 260.6,154.4 265.9,151.5 274.3,154.3 272.3,150.9 278.8,149.8 M371.2,89.2 357,87.5 357.2,91.8 356.3,92.8 354.1,95.4 347.8,94.9 M460.6,94 453.2,91.6 445.9,89.3 M146.2,122.2 155.9,125.3 143.7,123.2 149.2,127.2 141.1,125.6 144.2,128.5 128.2,127.6 133.9,130 122.4,128.2 128.2,127.6 141.1,125.6 143.7,123.2 146.2,122.2 157.2,123.3 169.4,123.2 167.4,120.6 159.2,116.9 M201.5,154.6 194.1,152.3 M423.8,82.2 416.5,79.9 407,79.4 405.1,81.4 394.9,80.7 385.2,81.1 379.7,78 375.6,83.2 366,84.4 364,86.9 371.2,89.2 357.2,91.8 363.2,94.7 356.3,92.8 M190.5,140.7 197.1,143.9 198,142.9 190.5,140.7 197.8,139.3 205.4,137.4 205.6,141.3 197.8,139.3 198,142.9 205.6,141.3 212.7,139.6 219.5,138.6 226.4,136.4 212.5,135.3 M357.1,68.7 371.7,68.7 377.5,74.1 385.7,71.6 371.7,68.7 363.3,72.1 377.5,74.1 M385.3,78 379.7,78 M309.2,102.4 302.7,101.7 304.6,98.1 295.2,101.5 302.7,101.7 M231.8,154.9 226,155.7 228.9,159.4 220.6,158.6 226,155.7 239.1,156.9 M182.1,123.7 177.5,120.5 186.6,121.6 190.9,118.3 177.5,120.5 M147.8,102.3 152.2,104.1 157.8,108.5 152.4,110.2 140.3,109.1 147.8,112 133.3,111.3 121.8,108.5 128.3,107 133.3,111.3 134.6,112.2 123.9,111.3 133.3,111.3 140.3,109.1 145.1,106 157.8,108.5 161.6,107.2 175.4,108.5 168.1,104.9 176.1,107 175.4,103.2 192,105.5 180.6,101.9 196.6,103.8 M335.6,54.1 340.9,56.2 342.9,56.4 M387.8,114.1 375.9,112 375,115.1 M364.6,120.5 363,116.8 357.6,118.1 350.5,119.4 334.1,117.3 326.3,117.3 323.4,119.4 333.4,123 319.7,122 311.3,122.6 M319.7,122 323.4,119.4 342.8,121.5 334.1,117.3 323.4,119.4 M329,105.7 319.5,107 M199.3,101.9 187.5,100.4 180.6,101.9 175.4,103.2 168.1,104.9 161.6,107.2 152.2,104.1 141.3,103.8 145.1,106 152.2,104.1 154.4,100.6 161.2,104.2 168.1,104.9 165.4,101.3 175.4,103.2 171.8,99.8 180.6,101.9 181.4,98.8 187.5,100.4 195.1,98.7 204.1,99.1 M477.6,103 461.6,100.9 458.1,102.9 447.5,104.5 439.1,104.6 445.5,106.4 M447.5,104.5 443,102.4 458.1,102.9 456.3,100 461.6,100.9 468.5,98.9 M412.8,111.9 402.6,108.3 404,112.5 397.3,109.8 389.5,111.2 375.9,112 367.4,114.7 363,116.8 M402.6,108.3 420.7,110.4 413.3,105.2 416.7,102.4 M317.8,105.1 329,105.7 329.2,103.8 334.6,101.3 338.4,99.9 352.3,98 354.1,95.4 363.2,94.7 368.5,92.3 371.2,89.2 374.7,86.2 366,84.4 M358.3,70.3 371.7,68.7 365.3,66.4 357.1,68.7 358.3,70.3 348.9,72 356.8,74.7 363.3,72.1 348.9,72 341.2,74.1 329,73.6 322.1,73.3 318.5,76.5 307.6,78.5 296.5,79.7 284.3,78.7 280.3,79.7 275.9,82.7 271.5,84.2 259.6,86.3 252.7,85.6 244.8,83.5 242.1,87.4 231,86 232,88.2 224.1,87.3 226.7,90.5 234.9,93.8 226,91.6 212.6,93.9 208.3,96 214.9,98.5 221.4,96.6 208.3,96 199.7,97.7 195.1,98.7 185.9,96.9 181.4,98.8 171.8,99.8 165.4,101.3 154.4,100.6 161,99 165.4,101.3 161.2,104.2 152.2,104.1 M289,124.8 295.6,129.3 284.1,125.8 287.5,129.3 279.8,128.3 284.1,125.8 289,124.8 295.5,124.4 M397.3,109.8 402.6,108.3 413.3,105.2 423.5,106.3 436.6,106.2 439.1,104.6 443,102.4 456.3,100 M295.2,101.5 287.1,101.8 M281.5,152.2 272.3,150.9 261.8,150.5 M375.6,83.2 385.2,81.1 385.3,78 384.5,74.3 399.5,76.9 394.4,72.9 M172.1,145.2 179.4,147.6 M385.2,81.1 386.7,83.2 375.6,83.2 374.7,86.2 377.1,85.7 386.7,83.2 394.9,80.7 385.3,78 399.5,76.9 394.9,80.7 407,79.4 399.5,76.9 M292.5,148 301.9,148.6 311.5,146.7 322,146.6 M265.9,151.5 272.3,150.9 263,147.2 M247.7,111.8 245.8,114 245.8,116.1 237.1,118.3 247.6,118 245.8,116.1 233.7,113.2 245.8,114 M256.7,74.7 249.7,76.5 261.1,78.4 256.7,74.7 263.8,72.9 269.5,76.8 256.7,74.7 M241.1,92.7 226.7,90.5 226,91.6 213,89.5 212.6,93.9 205,92.5 208.3,96 196.6,94.3 199.7,97.7 191.9,96.1 185.9,96.9 174.3,95.7 167.6,97.4 171.8,99.8 161,99 167.6,97.4 181.4,98.8 174.3,95.7 181,94 191.9,96.1 196.6,94.3 205,92.5 213,89.5 226.7,90.5 232,88.2 241.1,92.7 M248.3,90.3 232,88.2 242.1,87.4 248.3,90.3 M254.1,86.9 242.1,87.4 252.7,85.6 254.1,86.9" fill="none" stroke="#000" stroke-width="0.38" stroke-opacity="0.8" stroke-linejoin="round"/>
<clipPath id="holea"><polygon points="314.3,103.5 310.8,102.6 306.5,102 301.6,101.6 296.2,101.5 290.5,101.6 284.5,102 278.5,102.7 272.7,103.5 267,104.6 261.8,105.8 257.2,107.2 253.2,108.7 249.9,110.3 247.6,111.9 246.1,113.5 245.6,115.1 246,116.5 247.4,117.9 249.6,119 252.8,120 256.6,120.8 261.1,121.3 266.2,121.6 271.7,121.7 277.5,121.5 283.4,121 289.3,120.3 295,119.3 300.4,118.2 305.3,116.8 309.7,115.3 313.4,113.8 316.3,112.1 318.3,110.5 319.4,108.9 319.6,107.3 318.7,105.9 317,104.6 314.3,103.5"/></clipPath>
<g clip-path="url(#holea)"><path d="M310.9,102.7 l5,26 M303,101.7 l5,26 M293.5,101.5 l5,26 M283.1,102.1 l5,26 M272.7,103.5 l5,26 M263.1,105.5 l5,26 M255.1,108 l5,26 M249.2,110.7 l5,26 M246.1,113.5 l5,26 M245.8,116.2 l5,26 M248.5,118.5 l5,26" fill="none" stroke="#000" stroke-width="0.45" stroke-opacity="0.8"/><path d="M314.3,106.1 300.3,104.1 281.5,104.9 263.1,108.1 249.9,112.9 245.6,118 251.1,122.2 M314.3,108.7 300.3,106.7 281.5,107.5 263.1,110.7 249.9,115.5 245.6,120.6 251.1,124.8 M314.3,111.3 300.3,109.3 281.5,110.1 263.1,113.3 249.9,118.1 245.6,123.2 251.1,127.4 M314.3,113.9 300.3,111.9 281.5,112.7 263.1,115.9 249.9,120.7 245.6,125.8 251.1,130 M314.3,116.5 300.3,114.5 281.5,115.3 263.1,118.5 249.9,123.3 245.6,128.4 251.1,132.6 M314.3,119.1 300.3,117.1 281.5,117.9 263.1,121.1 249.9,125.9 245.6,131 251.1,135.2 M314.3,121.7 300.3,119.7 281.5,120.5 263.1,123.7 249.9,128.5 245.6,133.6 251.1,137.8 M314.3,124.3 300.3,122.3 281.5,123.1 263.1,126.3 249.9,131.1 245.6,136.2 251.1,140.4 M314.3,126.9 300.3,124.9 281.5,125.7 263.1,128.9 249.9,133.7 245.6,138.8 251.1,143 M314.3,129.5 300.3,127.5 281.5,128.3 263.1,131.5 249.9,136.3 245.6,141.4 251.1,145.6" fill="none" stroke="#000" stroke-width="0.6" stroke-opacity="0.48" stroke-dasharray="2.2 1" stroke-dashoffset="0.0"/><path d="M314.3,104.8 300.3,102.8 281.5,103.6 263.1,106.8 249.9,111.6 245.6,116.7 251.1,120.9 M314.3,107.4 300.3,105.4 281.5,106.2 263.1,109.4 249.9,114.2 245.6,119.3 251.1,123.5 M314.3,110 300.3,108 281.5,108.8 263.1,112 249.9,116.8 245.6,121.9 251.1,126.1 M314.3,112.6 300.3,110.6 281.5,111.4 263.1,114.6 249.9,119.4 245.6,124.5 251.1,128.7 M314.3,115.2 300.3,113.2 281.5,114 263.1,117.2 249.9,122 245.6,127.1 251.1,131.3 M314.3,117.8 300.3,115.8 281.5,116.6 263.1,119.8 249.9,124.6 245.6,129.7 251.1,133.9 M314.3,120.4 300.3,118.4 281.5,119.2 263.1,122.4 249.9,127.2 245.6,132.3 251.1,136.5 M314.3,123 300.3,121 281.5,121.8 263.1,125 249.9,129.8 245.6,134.9 251.1,139.1 M314.3,125.6 300.3,123.6 281.5,124.4 263.1,127.6 249.9,132.4 245.6,137.5 251.1,141.7 M314.3,128.2 300.3,126.2 281.5,127 263.1,130.2 249.9,135 245.6,140.1 251.1,144.3 M314.3,130.8 300.3,128.8 281.5,129.6 263.1,132.8 249.9,137.6 245.6,142.7 251.1,146.9" fill="none" stroke="#000" stroke-width="0.6" stroke-opacity="0.48" stroke-dasharray="2.2 1" stroke-dashoffset="1.6"/></g>
<path d="M83.9,117.1 238.2,166.3 238.2,273.5 83.9,224.2Z M238.2,166.3 261.5,161.2 285.2,155.6 309.4,149.7 334,143.6 359.1,137.3 384.5,130.8 410.4,124.2 436.6,117.4 463.1,110.4 490,103.4 490,103.4 525.5,203.9 525.5,203.9 498.5,211 471.1,218.1 443.4,225.2 415.4,232.2 386.9,239.3 358.1,246.3 328.8,253.3 299.1,260.2 268.9,267 238.2,273.5 M83.9,117.1 83.9,117.1 107.1,112 130.9,106.4 155.1,100.5 179.7,94.4 204.7,88.1 230.2,81.6 256,74.9 282.2,68.1 308.8,61.2 335.6,54.1 490,103.4" fill="none" stroke="#000" stroke-width="0.5" stroke-opacity="0.7" stroke-linejoin="round"/>
<rect x="642.8" y="14.9" width="13.7" height="310.8" fill="url(#parula)"/>
<path d="M656.5,292.3 h-3 M656.5,258.3 h-3 M656.5,224.3 h-3 M656.5,190.3 h-3 M656.5,156.3 h-3 M656.5,122.3 h-3 M656.5,88.3 h-3 M656.5,54.3 h-3 M656.5,20.3 h-3" stroke="#262626" stroke-width="0.7" fill="none"/>
<g font-size="9.8" fill="#262626"><text x="659.1" y="329.6">0</text><text x="659.1" y="295.6">0.005</text><text x="659.1" y="261.6">0.01</text><text x="659.1" y="227.6">0.015</text><text x="659.1" y="193.6">0.02</text><text x="659.1" y="159.6">0.025</text><text x="659.1" y="125.6">0.03</text><text x="659.1" y="91.6">0.035</text><text x="659.1" y="57.6">0.04</text><text x="659.1" y="23.6">0.045</text></g>
<clipPath id="clipa"><rect x="0" y="-5.1" width="641.8" height="370.8"/></clipPath>
<text x="338.9" y="397.7" style="font-family:'Liberation Serif','Times New Roman',serif" font-weight="bold" font-size="35" fill="#000">a</text>
</g>
<g id="plot-b">
<path d="M623.4,726.5 L300,790.3 L53,707.3" fill="none" stroke="#262626" stroke-width="0.55" stroke-opacity="0.8"/>
<path d="M53,707.3 L53,525.9" fill="none" stroke="#262626" stroke-width="1" stroke-opacity="0.42"/>
<path d="M300,790.3 L306.1,792.3 M353.9,779.7 L360,781.7 M407.8,769 L413.9,771.1 M461.7,758.4 L467.8,760.4 M515.6,747.8 L521.7,749.8 M569.5,737.1 L575.6,739.2 M623.4,726.5 L629.5,728.5 M300,790.3 L294.6,791.4 M238.2,769.5 L232.9,770.6 M176.5,748.8 L171.1,749.9 M114.7,728 L109.4,729.1 M53,707.3 L47.6,708.4 M53,707.3 L45.4,704.8 M53,681.4 L45.4,678.8 M53,655.5 L45.4,652.9 M53,629.6 L45.4,627 M53,603.6 L45.4,601.1 M53,577.7 L45.4,575.2 M53,551.8 L45.4,549.3 M53,525.9 L45.4,523.3" fill="none" stroke="#262626" stroke-width="0.5" stroke-opacity="0.7"/>
<g font-size="10.9" fill="#262626"><text x="310.4" y="804.9">0</text><text x="364.3" y="794.3">0.05</text><text x="418.2" y="783.6">0.1</text><text x="472.1" y="773">0.15</text><text x="526" y="762.4">0.2</text><text x="579.9" y="751.7">0.25</text><text x="633.8" y="741.1" clip-path="url(#clipb)">0.3</text></g>
<g font-size="10.9" fill="#262626" text-anchor="end"><text x="288.5" y="803.7">-0.1</text><text x="226.8" y="782.9">0</text><text x="165" y="762.2">0.1</text><text x="103.2" y="741.4">0.2</text><text x="41.5" y="720.7">0.3</text><text x="42" y="708">-0.15</text><text x="42" y="682.1">-0.1</text><text x="42" y="656.2">-0.05</text><text x="42" y="630.3">0</text><text x="42" y="604.3">0.05</text><text x="42" y="578.4">0.1</text><text x="42" y="552.5">0.15</text><text x="42" y="526.6">0.2</text></g>
<g font-size="12" font-weight="bold" fill="#262626">
<text x="423" y="808">x (m)</text>
<text x="169.7" y="804.3">y (m)</text>
<text transform="translate(11,617.3) rotate(-90)" text-anchor="middle">z (m)</text>
</g>
<text x="337.2" y="458.2" font-size="12" font-weight="bold" text-anchor="middle" fill="#000">Solution with iterations between 2D and 1D codes</text>
<polygon points="83.9,575.1 238.2,627 238.2,756.6 83.9,704.7" fill="#352a87"/>
<g stroke-width="0.6" stroke-linejoin="round"><polygon points="238.2,627 248.6,624.6 248.9,632.7 238.2,635.1" fill="#352d8c" stroke="#352d8c"/><polygon points="238.2,635.1 248.9,632.7 249.2,640.7 238.2,643.2" fill="#352d8d" stroke="#352d8d"/><polygon points="238.2,643.2 249.2,640.7 249.4,648.8 238.2,651.3" fill="#352d8d" stroke="#352d8d"/><polygon points="238.2,651.3 249.4,648.8 249.7,656.8 238.2,659.4" fill="#352d8d" stroke="#352d8d"/><polygon points="238.2,659.4 249.7,656.8 249.9,664.9 238.2,667.5" fill="#352d8d" stroke="#352d8d"/><polygon points="238.2,667.5 249.9,664.9 250.1,672.9 238.2,675.6" fill="#352d8d" stroke="#352d8d"/><polygon points="238.2,675.6 250.1,672.9 250.2,681 238.2,683.7" fill="#352d8d" stroke="#352d8d"/><polygon points="238.2,683.7 250.2,681 250.4,689.1 238.2,691.8" fill="#352d8d" stroke="#352d8d"/><polygon points="238.2,691.8 250.4,689.1 250.6,697.1 238.2,699.9" fill="#352d8d" stroke="#352d8d"/><polygon points="238.2,699.9 250.6,697.1 250.8,705.2 238.2,708" fill="#352d8d" stroke="#352d8d"/><polygon points="238.2,708 250.8,705.2 250.9,713.3 238.2,716.1" fill="#352d8d" stroke="#352d8d"/><polygon points="238.2,716.1 250.9,713.3 251.2,721.3 238.2,724.2" fill="#352d8d" stroke="#352d8d"/><polygon points="238.2,724.2 251.2,721.3 251.4,729.4 238.2,732.3" fill="#352d8d" stroke="#352d8d"/><polygon points="238.2,732.3 251.4,729.4 251.6,737.4 238.2,740.4" fill="#362d8d" stroke="#362d8d"/><polygon points="238.2,740.4 251.6,737.4 251.9,745.5 238.2,748.5" fill="#362d8d" stroke="#362d8d"/><polygon points="238.2,748.5 251.9,745.5 252.3,753.5 238.2,756.6" fill="#362e8e" stroke="#362e8e"/><polygon points="248.6,624.6 259,622 259.6,630 248.9,632.7" fill="#36349b" stroke="#36349b"/><polygon points="248.9,632.7 259.6,630 260.2,638 249.2,640.7" fill="#36349a" stroke="#36349a"/><polygon points="249.2,640.7 260.2,638 260.7,646 249.4,648.8" fill="#36349a" stroke="#36349a"/><polygon points="249.4,648.8 260.7,646 261.1,654 249.7,656.8" fill="#36349a" stroke="#36349a"/><polygon points="249.7,656.8 261.1,654 261.5,662 249.9,664.9" fill="#36349a" stroke="#36349a"/><polygon points="249.9,664.9 261.5,662 261.9,670.1 250.1,672.9" fill="#36349a" stroke="#36349a"/><polygon points="250.1,672.9 261.9,670.1 262.2,678.1 250.2,681" fill="#36349a" stroke="#36349a"/><polygon points="250.2,681 262.2,678.1 262.6,686.1 250.4,689.1" fill="#36349a" stroke="#36349a"/><polygon points="250.4,689.1 262.6,686.1 262.9,694.1 250.6,697.1" fill="#36349a" stroke="#36349a"/><polygon points="250.6,697.1 262.9,694.1 263.3,702.2 250.8,705.2" fill="#36349a" stroke="#36349a"/><polygon points="250.8,705.2 263.3,702.2 263.6,710.2 250.9,713.3" fill="#36349a" stroke="#36349a"/><polygon points="250.9,713.3 263.6,710.2 264,718.2 251.2,721.3" fill="#36349a" stroke="#36349a"/><polygon points="251.2,721.3 264,718.2 264.5,726.2 251.4,729.4" fill="#36349a" stroke="#36349a"/><polygon points="251.4,729.4 264.5,726.2 265,734.2 251.6,737.4" fill="#36349b" stroke="#36349b"/><polygon points="251.6,737.4 265,734.2 265.5,742.2 251.9,745.5" fill="#36349c" stroke="#36349c"/><polygon points="251.9,745.5 265.5,742.2 266.2,750.2 252.3,753.5" fill="#36359d" stroke="#36359d"/><polygon points="259,622 269.5,619.1 270.4,627.1 259.6,630" fill="#353dad" stroke="#353dad"/><polygon points="259.6,630 270.4,627.1 271.2,635 260.2,638" fill="#353cab" stroke="#353cab"/><polygon points="260.2,638 271.2,635 272,642.9 260.7,646" fill="#353cab" stroke="#353cab"/><polygon points="260.7,646 272,642.9 272.6,650.9 261.1,654" fill="#353caa" stroke="#353caa"/><polygon points="261.1,654 272.6,650.9 273.2,658.9 261.5,662" fill="#353baa" stroke="#353baa"/><polygon points="261.5,662 273.2,658.9 273.7,666.9 261.9,670.1" fill="#353baa" stroke="#353baa"/><polygon points="261.9,670.1 273.7,666.9 274.2,674.9 262.2,678.1" fill="#353baa" stroke="#353baa"/><polygon points="262.2,678.1 274.2,674.9 274.7,682.9 262.6,686.1" fill="#353baa" stroke="#353baa"/><polygon points="262.6,686.1 274.7,682.9 275.2,690.9 262.9,694.1" fill="#353baa" stroke="#353baa"/><polygon points="262.9,694.1 275.2,690.9 275.7,698.9 263.3,702.2" fill="#353baa" stroke="#353baa"/><polygon points="263.3,702.2 275.7,698.9 276.3,706.9 263.6,710.2" fill="#353baa" stroke="#353baa"/><polygon points="263.6,710.2 276.3,706.9 276.9,714.9 264,718.2" fill="#353baa" stroke="#353baa"/><polygon points="264,718.2 276.9,714.9 277.5,722.8 264.5,726.2" fill="#353caa" stroke="#353caa"/><polygon points="264.5,726.2 277.5,722.8 278.2,730.8 265,734.2" fill="#353cab" stroke="#353cab"/><polygon points="265,734.2 278.2,730.8 279,738.7 265.5,742.2" fill="#353dac" stroke="#353dac"/><polygon points="265.5,742.2 279,738.7 280,746.6 266.2,750.2" fill="#353eae" stroke="#353eae"/><polygon points="269.5,619.1 280.1,615.8 281.3,623.7 270.4,627.1" fill="#2c4ac6" stroke="#2c4ac6"/><polygon points="270.4,627.1 281.3,623.7 282.4,631.6 271.2,635" fill="#2e47c1" stroke="#2e47c1"/><polygon points="271.2,635 282.4,631.6 283.3,639.5 272,642.9" fill="#3046be" stroke="#3046be"/><polygon points="272,642.9 283.3,639.5 284.2,647.4 272.6,650.9" fill="#3045bd" stroke="#3045bd"/><polygon points="272.6,650.9 284.2,647.4 284.9,655.4 273.2,658.9" fill="#3145bc" stroke="#3145bc"/><polygon points="273.2,658.9 284.9,655.4 285.6,663.3 273.7,666.9" fill="#3144bb" stroke="#3144bb"/><polygon points="273.7,666.9 285.6,663.3 286.3,671.3 274.2,674.9" fill="#3144bb" stroke="#3144bb"/><polygon points="274.2,674.9 286.3,671.3 286.9,679.3 274.7,682.9" fill="#3144bb" stroke="#3144bb"/><polygon points="274.7,682.9 286.9,679.3 287.5,687.3 275.2,690.9" fill="#3144bb" stroke="#3144bb"/><polygon points="275.2,690.9 287.5,687.3 288.2,695.2 275.7,698.9" fill="#3144bb" stroke="#3144bb"/><polygon points="275.7,698.9 288.2,695.2 288.9,703.2 276.3,706.9" fill="#3144bb" stroke="#3144bb"/><polygon points="276.3,706.9 288.9,703.2 289.7,711.1 276.9,714.9" fill="#3145bc" stroke="#3145bc"/><polygon points="276.9,714.9 289.7,711.1 290.5,719.1 277.5,722.8" fill="#3145bc" stroke="#3145bc"/><polygon points="277.5,722.8 290.5,719.1 291.4,727 278.2,730.8" fill="#3045bd" stroke="#3045bd"/><polygon points="278.2,730.8 291.4,727 292.5,734.9 279,738.7" fill="#2f46bf" stroke="#2f46bf"/><polygon points="279,738.7 292.5,734.9 293.7,742.7 280,746.6" fill="#2e48c2" stroke="#2e48c2"/><polygon points="280.1,615.8 290.9,612.4 292.3,620.2 281.3,623.7" fill="#0e5cde" stroke="#0e5cde"/><polygon points="281.3,623.7 292.3,620.2 293.6,628 282.4,631.6" fill="#1857d8" stroke="#1857d8"/><polygon points="282.4,631.6 293.6,628 294.7,635.9 283.3,639.5" fill="#1e54d5" stroke="#1e54d5"/><polygon points="283.3,639.5 294.7,635.9 295.7,643.8 284.2,647.4" fill="#2152d2" stroke="#2152d2"/><polygon points="284.2,647.4 295.7,643.8 296.7,651.7 284.9,655.4" fill="#2251d1" stroke="#2251d1"/><polygon points="284.9,655.4 296.7,651.7 297.5,659.6 285.6,663.3" fill="#2350d0" stroke="#2350d0"/><polygon points="285.6,663.3 297.5,659.6 298.3,667.6 286.3,671.3" fill="#2350d0" stroke="#2350d0"/><polygon points="286.3,671.3 298.3,667.6 299.1,675.5 286.9,679.3" fill="#2350d0" stroke="#2350d0"/><polygon points="286.9,679.3 299.1,675.5 299.9,683.5 287.5,687.3" fill="#2350d0" stroke="#2350d0"/><polygon points="287.5,687.3 299.9,683.5 300.7,691.4 288.2,695.2" fill="#2350d0" stroke="#2350d0"/><polygon points="288.2,695.2 300.7,691.4 301.5,699.4 288.9,703.2" fill="#2350d0" stroke="#2350d0"/><polygon points="288.9,703.2 301.5,699.4 302.4,707.3 289.7,711.1" fill="#2351d0" stroke="#2351d0"/><polygon points="289.7,711.1 302.4,707.3 303.4,715.2 290.5,719.1" fill="#2251d1" stroke="#2251d1"/><polygon points="290.5,719.1 303.4,715.2 304.6,723 291.4,727" fill="#2152d3" stroke="#2152d3"/><polygon points="291.4,727 304.6,723 305.8,730.9 292.5,734.9" fill="#1e53d5" stroke="#1e53d5"/><polygon points="292.5,734.9 305.8,730.9 307.3,738.7 293.7,742.7" fill="#1a56d7" stroke="#1a56d7"/><polygon points="290.9,612.4 301.7,609 303.4,616.7 292.3,620.2" fill="#026ae1" stroke="#026ae1"/><polygon points="292.3,620.2 303.4,616.7 304.9,624.5 293.6,628" fill="#0266e1" stroke="#0266e1"/><polygon points="293.6,628 304.9,624.5 306.2,632.4 294.7,635.9" fill="#0363e1" stroke="#0363e1"/><polygon points="294.7,635.9 306.2,632.4 307.4,640.2 295.7,643.8" fill="#0661e0" stroke="#0661e0"/><polygon points="295.7,643.8 307.4,640.2 308.4,648.1 296.7,651.7" fill="#0760e0" stroke="#0760e0"/><polygon points="296.7,651.7 308.4,648.1 309.4,656 297.5,659.6" fill="#0860df" stroke="#0860df"/><polygon points="297.5,659.6 309.4,656 310.4,663.9 298.3,667.6" fill="#0860df" stroke="#0860df"/><polygon points="298.3,667.6 310.4,663.9 311.3,671.9 299.1,675.5" fill="#0860df" stroke="#0860df"/><polygon points="299.1,675.5 311.3,671.9 312.2,679.8 299.9,683.5" fill="#0860df" stroke="#0860df"/><polygon points="299.9,683.5 312.2,679.8 313.1,687.7 300.7,691.4" fill="#0860df" stroke="#0860df"/><polygon points="300.7,691.4 313.1,687.7 314.1,695.6 301.5,699.4" fill="#0860df" stroke="#0860df"/><polygon points="301.5,699.4 314.1,695.6 315.1,703.5 302.4,707.3" fill="#0860df" stroke="#0860df"/><polygon points="302.4,707.3 315.1,703.5 316.3,711.4 303.4,715.2" fill="#0760e0" stroke="#0760e0"/><polygon points="303.4,715.2 316.3,711.4 317.6,719.2 304.6,723" fill="#0661e0" stroke="#0661e0"/><polygon points="304.6,723 317.6,719.2 319.1,727 305.8,730.9" fill="#0363e1" stroke="#0363e1"/><polygon points="305.8,730.9 319.1,727 320.8,734.8 307.3,738.7" fill="#0265e1" stroke="#0265e1"/><polygon points="301.7,609 312.6,605.5 314.5,613.2 303.4,616.7" fill="#0c74dd" stroke="#0c74dd"/><polygon points="303.4,616.7 314.5,613.2 316.2,621 304.9,624.5" fill="#0870df" stroke="#0870df"/><polygon points="304.9,624.5 316.2,621 317.7,628.8 306.2,632.4" fill="#056ee0" stroke="#056ee0"/><polygon points="306.2,632.4 317.7,628.8 319.1,636.6 307.4,640.2" fill="#046ce0" stroke="#046ce0"/><polygon points="307.4,640.2 319.1,636.6 320.3,644.5 308.4,648.1" fill="#036be0" stroke="#036be0"/><polygon points="308.4,648.1 320.3,644.5 321.4,652.4 309.4,656" fill="#036be1" stroke="#036be1"/><polygon points="309.4,656 321.4,652.4 322.4,660.3 310.4,663.9" fill="#036be1" stroke="#036be1"/><polygon points="310.4,663.9 322.4,660.3 323.4,668.2 311.3,671.9" fill="#036be1" stroke="#036be1"/><polygon points="311.3,671.9 323.4,668.2 324.5,676.1 312.2,679.8" fill="#036be1" stroke="#036be1"/><polygon points="312.2,679.8 324.5,676.1 325.5,683.9 313.1,687.7" fill="#036be1" stroke="#036be1"/><polygon points="313.1,687.7 325.5,683.9 326.6,691.8 314.1,695.6" fill="#036be1" stroke="#036be1"/><polygon points="314.1,695.6 326.6,691.8 327.8,699.7 315.1,703.5" fill="#036be0" stroke="#036be0"/><polygon points="315.1,703.5 327.8,699.7 329.2,707.5 316.3,711.4" fill="#036be0" stroke="#036be0"/><polygon points="316.3,711.4 329.2,707.5 330.7,715.3 317.6,719.2" fill="#046ce0" stroke="#046ce0"/><polygon points="317.6,719.2 330.7,715.3 332.3,723.1 319.1,727" fill="#056de0" stroke="#056de0"/><polygon points="319.1,727 332.3,723.1 334.3,730.8 320.8,734.8" fill="#066fdf" stroke="#066fdf"/><polygon points="312.6,605.5 323.7,602 325.8,609.7 314.5,613.2" fill="#137ed7" stroke="#137ed7"/><polygon points="314.5,613.2 325.8,609.7 327.7,617.4 316.2,621" fill="#1079da" stroke="#1079da"/><polygon points="316.2,621 327.7,617.4 329.3,625.2 317.7,628.8" fill="#0e76dc" stroke="#0e76dc"/><polygon points="317.7,628.8 329.3,625.2 330.8,633 319.1,636.6" fill="#0c75dc" stroke="#0c75dc"/><polygon points="319.1,636.6 330.8,633 332.1,640.8 320.3,644.5" fill="#0b74dd" stroke="#0b74dd"/><polygon points="320.3,644.5 332.1,640.8 333.4,648.7 321.4,652.4" fill="#0b73dd" stroke="#0b73dd"/><polygon points="321.4,652.4 333.4,648.7 334.5,656.5 322.4,660.3" fill="#0b73dd" stroke="#0b73dd"/><polygon points="322.4,660.3 334.5,656.5 335.6,664.4 323.4,668.2" fill="#0b73dd" stroke="#0b73dd"/><polygon points="323.4,668.2 335.6,664.4 336.8,672.3 324.5,676.1" fill="#0b73dd" stroke="#0b73dd"/><polygon points="324.5,676.1 336.8,672.3 337.9,680.2 325.5,683.9" fill="#0b73dd" stroke="#0b73dd"/><polygon points="325.5,683.9 337.9,680.2 339.2,688 326.6,691.8" fill="#0b73dd" stroke="#0b73dd"/><polygon points="326.6,691.8 339.2,688 340.5,695.9 327.8,699.7" fill="#0b74dd" stroke="#0b74dd"/><polygon points="327.8,699.7 340.5,695.9 342,703.7 329.2,707.5" fill="#0c74dd" stroke="#0c74dd"/><polygon points="329.2,707.5 342,703.7 343.6,711.4 330.7,715.3" fill="#0c75dd" stroke="#0c75dd"/><polygon points="330.7,715.3 343.6,711.4 345.5,719.2 332.3,723.1" fill="#0d76dc" stroke="#0d76dc"/><polygon points="332.3,723.1 345.5,719.2 347.6,726.9 334.3,730.8" fill="#0f78db" stroke="#0f78db"/><polygon points="323.7,602 334.8,598.5 337.1,606.1 325.8,609.7" fill="#1388d3" stroke="#1388d3"/><polygon points="325.8,609.7 337.1,606.1 339.1,613.8 327.7,617.4" fill="#1482d5" stroke="#1482d5"/><polygon points="327.7,617.4 339.1,613.8 340.9,621.6 329.3,625.2" fill="#137fd7" stroke="#137fd7"/><polygon points="329.3,625.2 340.9,621.6 342.5,629.4 330.8,633" fill="#127dd8" stroke="#127dd8"/><polygon points="330.8,633 342.5,629.4 344,637.2 332.1,640.8" fill="#127cd8" stroke="#127cd8"/><polygon points="332.1,640.8 344,637.2 345.3,645 333.4,648.7" fill="#127bd9" stroke="#127bd9"/><polygon points="333.4,648.7 345.3,645 346.6,652.9 334.5,656.5" fill="#117bd9" stroke="#117bd9"/><polygon points="334.5,656.5 346.6,652.9 347.8,660.7 335.6,664.4" fill="#117bd9" stroke="#117bd9"/><polygon points="335.6,664.4 347.8,660.7 349.1,668.6 336.8,672.3" fill="#117bd9" stroke="#117bd9"/><polygon points="336.8,672.3 349.1,668.6 350.3,676.4 337.9,680.2" fill="#117bd9" stroke="#117bd9"/><polygon points="337.9,680.2 350.3,676.4 351.7,684.2 339.2,688" fill="#117bd9" stroke="#117bd9"/><polygon points="339.2,688 351.7,684.2 353.1,692.1 340.5,695.9" fill="#127bd9" stroke="#127bd9"/><polygon points="340.5,695.9 353.1,692.1 354.7,699.8 342,703.7" fill="#127cd8" stroke="#127cd8"/><polygon points="342,703.7 354.7,699.8 356.5,707.6 343.6,711.4" fill="#127cd8" stroke="#127cd8"/><polygon points="343.6,711.4 356.5,707.6 358.6,715.3 345.5,719.2" fill="#137ed7" stroke="#137ed7"/><polygon points="345.5,719.2 358.6,715.3 360.8,722.9 347.6,726.9" fill="#1480d6" stroke="#1480d6"/><polygon points="334.8,598.5 346.1,595 348.5,602.6 337.1,606.1" fill="#0c94d2" stroke="#0c94d2"/><polygon points="337.1,606.1 348.5,602.6 350.7,610.3 339.1,613.8" fill="#118cd2" stroke="#118cd2"/><polygon points="339.1,613.8 350.7,610.3 352.6,618 340.9,621.6" fill="#1487d3" stroke="#1487d3"/><polygon points="340.9,621.6 352.6,618 354.4,625.7 342.5,629.4" fill="#1485d4" stroke="#1485d4"/><polygon points="342.5,629.4 354.4,625.7 355.9,633.5 344,637.2" fill="#1483d4" stroke="#1483d4"/><polygon points="344,637.2 355.9,633.5 357.4,641.3 345.3,645" fill="#1483d5" stroke="#1483d5"/><polygon points="345.3,645 357.4,641.3 358.7,649.2 346.6,652.9" fill="#1483d5" stroke="#1483d5"/><polygon points="346.6,652.9 358.7,649.2 360,657 347.8,660.7" fill="#1483d5" stroke="#1483d5"/><polygon points="347.8,660.7 360,657 361.4,664.8 349.1,668.6" fill="#1483d5" stroke="#1483d5"/><polygon points="349.1,668.6 361.4,664.8 362.7,672.7 350.3,676.4" fill="#1483d5" stroke="#1483d5"/><polygon points="350.3,676.4 362.7,672.7 364.1,680.5 351.7,684.2" fill="#1483d5" stroke="#1483d5"/><polygon points="351.7,684.2 364.1,680.5 365.7,688.3 353.1,692.1" fill="#1483d5" stroke="#1483d5"/><polygon points="353.1,692.1 365.7,688.3 367.4,696 354.7,699.8" fill="#1483d4" stroke="#1483d4"/><polygon points="354.7,699.8 367.4,696 369.4,703.8 356.5,707.6" fill="#1484d4" stroke="#1484d4"/><polygon points="356.5,707.6 369.4,703.8 371.5,711.4 358.6,715.3" fill="#1486d4" stroke="#1486d4"/><polygon points="358.6,715.3 371.5,711.4 374,719 360.8,722.9" fill="#1389d3" stroke="#1389d3"/><polygon points="346.1,595 357.4,591.4 360,599 348.5,602.6" fill="#069fce" stroke="#069fce"/><polygon points="348.5,602.6 360,599 362.3,606.7 350.7,610.3" fill="#0997d1" stroke="#0997d1"/><polygon points="350.7,610.3 362.3,606.7 364.4,614.4 352.6,618" fill="#0e92d2" stroke="#0e92d2"/><polygon points="352.6,618 364.4,614.4 366.2,622.1 354.4,625.7" fill="#108ed2" stroke="#108ed2"/><polygon points="354.4,625.7 366.2,622.1 367.9,629.9 355.9,633.5" fill="#118dd2" stroke="#118dd2"/><polygon points="355.9,633.5 367.9,629.9 369.4,637.7 357.4,641.3" fill="#128cd2" stroke="#128cd2"/><polygon points="357.4,641.3 369.4,637.7 370.8,645.5 358.7,649.2" fill="#128cd2" stroke="#128cd2"/><polygon points="358.7,649.2 370.8,645.5 372.2,653.3 360,657" fill="#128cd2" stroke="#128cd2"/><polygon points="360,657 372.2,653.3 373.6,661.1 361.4,664.8" fill="#128cd2" stroke="#128cd2"/><polygon points="361.4,664.8 373.6,661.1 375.1,668.9 362.7,672.7" fill="#128cd2" stroke="#128cd2"/><polygon points="362.7,672.7 375.1,668.9 376.6,676.7 364.1,680.5" fill="#128cd2" stroke="#128cd2"/><polygon points="364.1,680.5 376.6,676.7 378.3,684.5 365.7,688.3" fill="#118cd2" stroke="#118cd2"/><polygon points="365.7,688.3 378.3,684.5 380.1,692.2 367.4,696" fill="#118dd2" stroke="#118dd2"/><polygon points="367.4,696 380.1,692.2 382.2,699.9 369.4,703.8" fill="#108ed2" stroke="#108ed2"/><polygon points="369.4,703.8 382.2,699.9 384.5,707.6 371.5,711.4" fill="#0f90d2" stroke="#0f90d2"/><polygon points="371.5,711.4 384.5,707.6 387.1,715.2 374,719" fill="#0c94d2" stroke="#0c94d2"/><polygon points="357.4,591.4 368.8,587.9 371.6,595.5 360,599" fill="#06a7c6" stroke="#06a7c6"/><polygon points="360,599 371.6,595.5 374,603.1 362.3,606.7" fill="#06a1cc" stroke="#06a1cc"/><polygon points="362.3,606.7 374,603.1 376.2,610.7 364.4,614.4" fill="#079cd0" stroke="#079cd0"/><polygon points="364.4,614.4 376.2,610.7 378.1,618.5 366.2,622.1" fill="#0899d1" stroke="#0899d1"/><polygon points="366.2,622.1 378.1,618.5 379.9,626.2 367.9,629.9" fill="#0997d1" stroke="#0997d1"/><polygon points="367.9,629.9 379.9,626.2 381.5,634 369.4,637.7" fill="#0a97d1" stroke="#0a97d1"/><polygon points="369.4,637.7 381.5,634 383,641.8 370.8,645.5" fill="#0a96d1" stroke="#0a96d1"/><polygon points="370.8,645.5 383,641.8 384.5,649.6 372.2,653.3" fill="#0a96d1" stroke="#0a96d1"/><polygon points="372.2,653.3 384.5,649.6 385.9,657.4 373.6,661.1" fill="#0a96d1" stroke="#0a96d1"/><polygon points="373.6,661.1 385.9,657.4 387.4,665.2 375.1,668.9" fill="#0a96d1" stroke="#0a96d1"/><polygon points="375.1,668.9 387.4,665.2 389.1,673 376.6,676.7" fill="#0a96d1" stroke="#0a96d1"/><polygon points="376.6,676.7 389.1,673 390.8,680.7 378.3,684.5" fill="#0a97d1" stroke="#0a97d1"/><polygon points="378.3,684.5 390.8,680.7 392.7,688.5 380.1,692.2" fill="#0997d1" stroke="#0997d1"/><polygon points="380.1,692.2 392.7,688.5 394.9,696.1 382.2,699.9" fill="#0999d1" stroke="#0999d1"/><polygon points="382.2,699.9 394.9,696.1 397.3,703.7 384.5,707.6" fill="#089bd0" stroke="#089bd0"/><polygon points="384.5,707.6 397.3,703.7 400.1,711.3 387.1,715.2" fill="#079ecf" stroke="#079ecf"/><polygon points="368.8,587.9 380.3,584.3 383.2,591.9 371.6,595.5" fill="#0eaeba" stroke="#0eaeba"/><polygon points="371.6,595.5 383.2,591.9 385.8,599.5 374,603.1" fill="#06a9c3" stroke="#06a9c3"/><polygon points="374,603.1 385.8,599.5 388,607.1 376.2,610.7" fill="#06a5c8" stroke="#06a5c8"/><polygon points="376.2,610.7 388,607.1 390,614.8 378.1,618.5" fill="#06a2cb" stroke="#06a2cb"/><polygon points="378.1,618.5 390,614.8 391.9,622.6 379.9,626.2" fill="#06a1cc" stroke="#06a1cc"/><polygon points="379.9,626.2 391.9,622.6 393.5,630.3 381.5,634" fill="#06a0cd" stroke="#06a0cd"/><polygon points="381.5,634 393.5,630.3 395.1,638.1 383,641.8" fill="#06a0cd" stroke="#06a0cd"/><polygon points="383,641.8 395.1,638.1 396.7,645.9 384.5,649.6" fill="#06a0cd" stroke="#06a0cd"/><polygon points="384.5,649.6 396.7,645.9 398.2,653.7 385.9,657.4" fill="#06a0cd" stroke="#06a0cd"/><polygon points="385.9,657.4 398.2,653.7 399.8,661.5 387.4,665.2" fill="#06a0cd" stroke="#06a0cd"/><polygon points="387.4,665.2 399.8,661.5 401.5,669.3 389.1,673" fill="#06a0cd" stroke="#06a0cd"/><polygon points="389.1,673 401.5,669.3 403.3,677 390.8,680.7" fill="#06a1cd" stroke="#06a1cd"/><polygon points="390.8,680.7 403.3,677 405.3,684.7 392.7,688.5" fill="#06a1cc" stroke="#06a1cc"/><polygon points="392.7,688.5 405.3,684.7 407.6,692.3 394.9,696.1" fill="#06a2cb" stroke="#06a2cb"/><polygon points="394.9,696.1 407.6,692.3 410.1,699.9 397.3,703.7" fill="#06a4ca" stroke="#06a4ca"/><polygon points="397.3,703.7 410.1,699.9 413,707.5 400.1,711.3" fill="#06a6c7" stroke="#06a6c7"/><polygon points="380.3,584.3 392,580.7 394.9,588.2 383.2,591.9" fill="#22b4ab" stroke="#22b4ab"/><polygon points="383.2,591.9 394.9,588.2 397.6,595.8 385.8,599.5" fill="#12afb7" stroke="#12afb7"/><polygon points="385.8,599.5 397.6,595.8 399.9,603.4 388,607.1" fill="#0aacbd" stroke="#0aacbd"/><polygon points="388,607.1 399.9,603.4 402,611.1 390,614.8" fill="#07aac1" stroke="#07aac1"/><polygon points="390,614.8 402,611.1 403.9,618.8 391.9,622.6" fill="#07a9c3" stroke="#07a9c3"/><polygon points="391.9,622.6 403.9,618.8 405.6,626.6 393.5,630.3" fill="#06a8c3" stroke="#06a8c3"/><polygon points="393.5,630.3 405.6,626.6 407.3,634.4 395.1,638.1" fill="#06a8c4" stroke="#06a8c4"/><polygon points="395.1,638.1 407.3,634.4 408.9,642.1 396.7,645.9" fill="#06a8c4" stroke="#06a8c4"/><polygon points="396.7,645.9 408.9,642.1 410.5,649.9 398.2,653.7" fill="#06a8c4" stroke="#06a8c4"/><polygon points="398.2,653.7 410.5,649.9 412.1,657.7 399.8,661.5" fill="#06a8c4" stroke="#06a8c4"/><polygon points="399.8,661.5 412.1,657.7 413.9,665.5 401.5,669.3" fill="#06a8c4" stroke="#06a8c4"/><polygon points="401.5,669.3 413.9,665.5 415.8,673.2 403.3,677" fill="#06a8c3" stroke="#06a8c3"/><polygon points="403.3,677 415.8,673.2 417.9,680.9 405.3,684.7" fill="#07a9c3" stroke="#07a9c3"/><polygon points="405.3,684.7 417.9,680.9 420.2,688.5 407.6,692.3" fill="#07aac1" stroke="#07aac1"/><polygon points="407.6,692.3 420.2,688.5 422.8,696.1 410.1,699.9" fill="#09abbf" stroke="#09abbf"/><polygon points="410.1,699.9 422.8,696.1 425.8,703.6 413,707.5" fill="#0dadbb" stroke="#0dadbb"/><polygon points="392,580.7 403.7,577 406.7,584.5 394.9,588.2" fill="#3fba9a" stroke="#3fba9a"/><polygon points="394.9,588.2 406.7,584.5 409.5,592.1 397.6,595.8" fill="#28b6a7" stroke="#28b6a7"/><polygon points="397.6,595.8 409.5,592.1 411.9,599.7 399.9,603.4" fill="#1cb3af" stroke="#1cb3af"/><polygon points="399.9,603.4 411.9,599.7 414,607.4 402,611.1" fill="#16b1b4" stroke="#16b1b4"/><polygon points="402,611.1 414,607.4 416,615.1 403.9,618.8" fill="#13b0b6" stroke="#13b0b6"/><polygon points="403.9,618.8 416,615.1 417.8,622.8 405.6,626.6" fill="#12afb7" stroke="#12afb7"/><polygon points="405.6,626.6 417.8,622.8 419.5,630.6 407.3,634.4" fill="#11afb7" stroke="#11afb7"/><polygon points="407.3,634.4 419.5,630.6 421.1,638.4 408.9,642.1" fill="#11afb7" stroke="#11afb7"/><polygon points="408.9,642.1 421.1,638.4 422.8,646.2 410.5,649.9" fill="#11afb7" stroke="#11afb7"/><polygon points="410.5,649.9 422.8,646.2 424.4,653.9 412.1,657.7" fill="#11afb7" stroke="#11afb7"/><polygon points="412.1,657.7 424.4,653.9 426.2,661.7 413.9,665.5" fill="#11afb7" stroke="#11afb7"/><polygon points="413.9,665.5 426.2,661.7 428.2,669.4 415.8,673.2" fill="#12afb7" stroke="#12afb7"/><polygon points="415.8,673.2 428.2,669.4 430.4,677.1 417.9,680.9" fill="#13b0b6" stroke="#13b0b6"/><polygon points="417.9,680.9 430.4,677.1 432.8,684.7 420.2,688.5" fill="#15b1b4" stroke="#15b1b4"/><polygon points="420.2,688.5 432.8,684.7 435.5,692.2 422.8,696.1" fill="#1ab2b1" stroke="#1ab2b1"/><polygon points="422.8,696.1 435.5,692.2 438.6,699.7 425.8,703.6" fill="#21b4ac" stroke="#21b4ac"/><polygon points="403.7,577 415.5,573.5 418.6,581 406.7,584.5" fill="#63be87" stroke="#63be87"/><polygon points="406.7,584.5 418.6,581 421.4,588.5 409.5,592.1" fill="#46bb96" stroke="#46bb96"/><polygon points="409.5,592.1 421.4,588.5 423.9,596.2 411.9,599.7" fill="#36b99f" stroke="#36b99f"/><polygon points="411.9,599.7 423.9,596.2 426.1,603.8 414,607.4" fill="#2db7a4" stroke="#2db7a4"/><polygon points="414,607.4 426.1,603.8 428.1,611.5 416,615.1" fill="#29b6a7" stroke="#29b6a7"/><polygon points="416,615.1 428.1,611.5 429.9,619.3 417.8,622.8" fill="#27b6a8" stroke="#27b6a8"/><polygon points="417.8,622.8 429.9,619.3 431.7,627 419.5,630.6" fill="#27b5a8" stroke="#27b5a8"/><polygon points="419.5,630.6 431.7,627 433.3,634.8 421.1,638.4" fill="#27b5a8" stroke="#27b5a8"/><polygon points="421.1,638.4 433.3,634.8 435,642.5 422.8,646.2" fill="#27b5a8" stroke="#27b5a8"/><polygon points="422.8,646.2 435,642.5 436.8,650.3 424.4,653.9" fill="#27b5a8" stroke="#27b5a8"/><polygon points="424.4,653.9 436.8,650.3 438.6,658 426.2,661.7" fill="#27b5a8" stroke="#27b5a8"/><polygon points="426.2,661.7 438.6,658 440.6,665.7 428.2,669.4" fill="#28b6a8" stroke="#28b6a8"/><polygon points="428.2,669.4 440.6,665.7 442.8,673.4 430.4,677.1" fill="#29b6a7" stroke="#29b6a7"/><polygon points="430.4,677.1 442.8,673.4 445.3,681 432.8,684.7" fill="#2db7a5" stroke="#2db7a5"/><polygon points="432.8,684.7 445.3,681 448.1,688.6 435.5,692.2" fill="#33b8a1" stroke="#33b8a1"/><polygon points="435.5,692.2 448.1,688.6 451.2,696 438.6,699.7" fill="#3dba9b" stroke="#3dba9b"/><polygon points="415.5,573.5 427.3,570.2 430.5,577.6 418.6,581" fill="#88bf76" stroke="#88bf76"/><polygon points="418.6,581 430.5,577.6 433.4,585.2 421.4,588.5" fill="#6bbe83" stroke="#6bbe83"/><polygon points="421.4,588.5 433.4,585.2 435.9,592.8 423.9,596.2" fill="#57bd8c" stroke="#57bd8c"/><polygon points="423.9,596.2 435.9,592.8 438.2,600.4 426.1,603.8" fill="#4cbc92" stroke="#4cbc92"/><polygon points="426.1,603.8 438.2,600.4 440.2,608.1 428.1,611.5" fill="#47bb95" stroke="#47bb95"/><polygon points="428.1,611.5 440.2,608.1 442.1,615.9 429.9,619.3" fill="#44bb97" stroke="#44bb97"/><polygon points="429.9,619.3 442.1,615.9 443.8,623.6 431.7,627" fill="#44bb97" stroke="#44bb97"/><polygon points="431.7,627 443.8,623.6 445.6,631.4 433.3,634.8" fill="#44bb97" stroke="#44bb97"/><polygon points="433.3,634.8 445.6,631.4 447.3,639.1 435,642.5" fill="#44bb97" stroke="#44bb97"/><polygon points="435,642.5 447.3,639.1 449.1,646.9 436.8,650.3" fill="#44bb97" stroke="#44bb97"/><polygon points="436.8,650.3 449.1,646.9 450.9,654.6 438.6,658" fill="#44bb97" stroke="#44bb97"/><polygon points="438.6,658 450.9,654.6 453,662.3 440.6,665.7" fill="#45bb96" stroke="#45bb96"/><polygon points="440.6,665.7 453,662.3 455.2,670 442.8,673.4" fill="#47bb95" stroke="#47bb95"/><polygon points="442.8,673.4 455.2,670 457.8,677.6 445.3,681" fill="#4bbc93" stroke="#4bbc93"/><polygon points="445.3,681 457.8,677.6 460.6,685.1 448.1,688.6" fill="#53bd8e" stroke="#53bd8e"/><polygon points="448.1,688.6 460.6,685.1 463.8,692.6 451.2,696" fill="#60be88" stroke="#60be88"/><polygon points="427.3,570.2 439.3,566.9 442.5,574.3 430.5,577.6" fill="#a9be69" stroke="#a9be69"/><polygon points="430.5,577.6 442.5,574.3 445.4,581.8 433.4,585.2" fill="#8fbf74" stroke="#8fbf74"/><polygon points="433.4,585.2 445.4,581.8 448,589.4 435.9,592.8" fill="#7dbf7b" stroke="#7dbf7b"/><polygon points="435.9,592.8 448,589.4 450.3,597.1 438.2,600.4" fill="#71bf80" stroke="#71bf80"/><polygon points="438.2,600.4 450.3,597.1 452.3,604.8 440.2,608.1" fill="#6bbf83" stroke="#6bbf83"/><polygon points="440.2,608.1 452.3,604.8 454.3,612.5 442.1,615.9" fill="#68be84" stroke="#68be84"/><polygon points="442.1,615.9 454.3,612.5 456.1,620.2 443.8,623.6" fill="#68be84" stroke="#68be84"/><polygon points="443.8,623.6 456.1,620.2 457.8,628 445.6,631.4" fill="#68be84" stroke="#68be84"/><polygon points="445.6,631.4 457.8,628 459.5,635.8 447.3,639.1" fill="#68be84" stroke="#68be84"/><polygon points="447.3,639.1 459.5,635.8 461.3,643.5 449.1,646.9" fill="#68be84" stroke="#68be84"/><polygon points="449.1,646.9 461.3,643.5 463.3,651.2 450.9,654.6" fill="#68be84" stroke="#68be84"/><polygon points="450.9,654.6 463.3,651.2 465.3,658.9 453,662.3" fill="#69be84" stroke="#69be84"/><polygon points="453,662.3 465.3,658.9 467.6,666.6 455.2,670" fill="#6cbf83" stroke="#6cbf83"/><polygon points="455.2,670 467.6,666.6 470.2,674.1 457.8,677.6" fill="#71bf80" stroke="#71bf80"/><polygon points="457.8,677.6 470.2,674.1 473.1,681.7 460.6,685.1" fill="#79bf7d" stroke="#79bf7d"/><polygon points="460.6,685.1 473.1,681.7 476.3,689.1 463.8,692.6" fill="#86bf77" stroke="#86bf77"/><polygon points="439.3,566.9 451.3,563.9 454.6,571.4 442.5,574.3" fill="#c6bc5d" stroke="#c6bc5d"/><polygon points="442.5,574.3 454.6,571.4 457.5,578.9 445.4,581.8" fill="#aebe67" stroke="#aebe67"/><polygon points="445.4,581.8 457.5,578.9 460.1,586.5 448,589.4" fill="#9ebe6e" stroke="#9ebe6e"/><polygon points="448,589.4 460.1,586.5 462.4,594.1 450.3,597.1" fill="#94bf72" stroke="#94bf72"/><polygon points="450.3,597.1 462.4,594.1 464.5,601.8 452.3,604.8" fill="#8ebf74" stroke="#8ebf74"/><polygon points="452.3,604.8 464.5,601.8 466.5,609.5 454.3,612.5" fill="#8cbf75" stroke="#8cbf75"/><polygon points="454.3,612.5 466.5,609.5 468.3,617.3 456.1,620.2" fill="#8bbf75" stroke="#8bbf75"/><polygon points="456.1,620.2 468.3,617.3 470,625 457.8,628" fill="#8bbf75" stroke="#8bbf75"/><polygon points="457.8,628 470,625 471.8,632.8 459.5,635.8" fill="#8bbf75" stroke="#8bbf75"/><polygon points="459.5,635.8 471.8,632.8 473.6,640.5 461.3,643.5" fill="#8bbf75" stroke="#8bbf75"/><polygon points="461.3,643.5 473.6,640.5 475.6,648.2 463.3,651.2" fill="#8cbf75" stroke="#8cbf75"/><polygon points="463.3,651.2 475.6,648.2 477.7,655.9 465.3,658.9" fill="#8dbf75" stroke="#8dbf75"/><polygon points="465.3,658.9 477.7,655.9 480,663.5 467.6,666.6" fill="#8fbf74" stroke="#8fbf74"/><polygon points="467.6,666.6 480,663.5 482.6,671.1 470.2,674.1" fill="#94bf72" stroke="#94bf72"/><polygon points="470.2,674.1 482.6,671.1 485.5,678.7 473.1,681.7" fill="#9bbf6f" stroke="#9bbf6f"/><polygon points="473.1,681.7 485.5,678.7 488.8,686.1 476.3,689.1" fill="#a7be6a" stroke="#a7be6a"/><polygon points="451.3,563.9 463.4,561.5 466.7,569 454.6,571.4" fill="#e1b952" stroke="#e1b952"/><polygon points="454.6,571.4 466.7,569 469.7,576.5 457.5,578.9" fill="#cabb5c" stroke="#cabb5c"/><polygon points="457.5,578.9 469.7,576.5 472.3,584.1 460.1,586.5" fill="#bbbd62" stroke="#bbbd62"/><polygon points="460.1,586.5 472.3,584.1 474.6,591.7 462.4,594.1" fill="#b2bd66" stroke="#b2bd66"/><polygon points="462.4,594.1 474.6,591.7 476.7,599.4 464.5,601.8" fill="#adbe68" stroke="#adbe68"/><polygon points="464.5,601.8 476.7,599.4 478.7,607.1 466.5,609.5" fill="#abbe68" stroke="#abbe68"/><polygon points="466.5,609.5 478.7,607.1 480.5,614.8 468.3,617.3" fill="#abbe69" stroke="#abbe69"/><polygon points="468.3,617.3 480.5,614.8 482.3,622.6 470,625" fill="#aabe69" stroke="#aabe69"/><polygon points="470,625 482.3,622.6 484.1,630.3 471.8,632.8" fill="#aabe69" stroke="#aabe69"/><polygon points="471.8,632.8 484.1,630.3 485.9,638.1 473.6,640.5" fill="#aabe69" stroke="#aabe69"/><polygon points="473.6,640.5 485.9,638.1 487.8,645.8 475.6,648.2" fill="#abbe69" stroke="#abbe69"/><polygon points="475.6,648.2 487.8,645.8 490,653.5 477.7,655.9" fill="#acbe68" stroke="#acbe68"/><polygon points="477.7,655.9 490,653.5 492.3,661.1 480,663.5" fill="#aebe67" stroke="#aebe67"/><polygon points="480,663.5 492.3,661.1 494.9,668.7 482.6,671.1" fill="#b2bd66" stroke="#b2bd66"/><polygon points="482.6,671.1 494.9,668.7 497.8,676.2 485.5,678.7" fill="#b9bd63" stroke="#b9bd63"/><polygon points="485.5,678.7 497.8,676.2 501.2,683.6 488.8,686.1" fill="#c4bc5e" stroke="#c4bc5e"/><polygon points="463.4,561.5 475.6,559.3 478.9,566.7 466.7,569" fill="#fbbc40" stroke="#fbbc40"/><polygon points="466.7,569 478.9,566.7 481.9,574.2 469.7,576.5" fill="#e7b94f" stroke="#e7b94f"/><polygon points="469.7,576.5 481.9,574.2 484.5,581.8 472.3,584.1" fill="#d9ba56" stroke="#d9ba56"/><polygon points="472.3,584.1 484.5,581.8 486.8,589.4 474.6,591.7" fill="#d1bb59" stroke="#d1bb59"/><polygon points="474.6,591.7 486.8,589.4 489,597.1 476.7,599.4" fill="#cdbb5b" stroke="#cdbb5b"/><polygon points="476.7,599.4 489,597.1 490.9,604.8 478.7,607.1" fill="#cbbb5c" stroke="#cbbb5c"/><polygon points="478.7,607.1 490.9,604.8 492.7,612.6 480.5,614.8" fill="#cabb5c" stroke="#cabb5c"/><polygon points="480.5,614.8 492.7,612.6 494.5,620.3 482.3,622.6" fill="#cabb5c" stroke="#cabb5c"/><polygon points="482.3,622.6 494.5,620.3 496.3,628.1 484.1,630.3" fill="#cabb5c" stroke="#cabb5c"/><polygon points="484.1,630.3 496.3,628.1 498.2,635.8 485.9,638.1" fill="#cabb5c" stroke="#cabb5c"/><polygon points="485.9,638.1 498.2,635.8 500.1,643.5 487.8,645.8" fill="#cbbb5c" stroke="#cbbb5c"/><polygon points="487.8,645.8 500.1,643.5 502.2,651.2 490,653.5" fill="#cbbb5b" stroke="#cbbb5b"/><polygon points="490,653.5 502.2,651.2 504.6,658.8 492.3,661.1" fill="#cebb5a" stroke="#cebb5a"/><polygon points="492.3,661.1 504.6,658.8 507.2,666.4 494.9,668.7" fill="#d2bb59" stroke="#d2bb59"/><polygon points="494.9,668.7 507.2,666.4 510.1,673.9 497.8,676.2" fill="#d9ba56" stroke="#d9ba56"/><polygon points="497.8,676.2 510.1,673.9 513.5,681.4 501.2,683.6" fill="#e4b951" stroke="#e4b951"/><polygon points="475.6,559.3 487.8,557.3 491.2,564.7 478.9,566.7" fill="#fad12b" stroke="#fad12b"/><polygon points="478.9,566.7 491.2,564.7 494.1,572.3 481.9,574.2" fill="#ffc436" stroke="#ffc436"/><polygon points="481.9,574.2 494.1,572.3 496.7,579.8 484.5,581.8" fill="#fbbc40" stroke="#fbbc40"/><polygon points="484.5,581.8 496.7,579.8 499.1,587.5 486.8,589.4" fill="#f5ba46" stroke="#f5ba46"/><polygon points="486.8,589.4 499.1,587.5 501.2,595.2 489,597.1" fill="#f2b949" stroke="#f2b949"/><polygon points="489,597.1 501.2,595.2 503.1,602.9 490.9,604.8" fill="#f0b94a" stroke="#f0b94a"/><polygon points="490.9,604.8 503.1,602.9 505,610.6 492.7,612.6" fill="#f0b94a" stroke="#f0b94a"/><polygon points="492.7,612.6 505,610.6 506.8,618.3 494.5,620.3" fill="#f0b94a" stroke="#f0b94a"/><polygon points="494.5,620.3 506.8,618.3 508.6,626.1 496.3,628.1" fill="#f0b94a" stroke="#f0b94a"/><polygon points="496.3,628.1 508.6,626.1 510.4,633.8 498.2,635.8" fill="#f0b94a" stroke="#f0b94a"/><polygon points="498.2,635.8 510.4,633.8 512.4,641.5 500.1,643.5" fill="#f0b94a" stroke="#f0b94a"/><polygon points="500.1,643.5 512.4,641.5 514.5,649.2 502.2,651.2" fill="#f1b94a" stroke="#f1b94a"/><polygon points="502.2,651.2 514.5,649.2 516.8,656.9 504.6,658.8" fill="#f3b948" stroke="#f3b948"/><polygon points="504.6,658.8 516.8,656.9 519.5,664.4 507.2,666.4" fill="#f7ba45" stroke="#f7ba45"/><polygon points="507.2,666.4 519.5,664.4 522.4,672 510.1,673.9" fill="#fcbd3f" stroke="#fcbd3f"/><polygon points="510.1,673.9 522.4,672 525.8,679.4 513.5,681.4" fill="#ffc437" stroke="#ffc437"/><polygon points="238.2,627 248.6,624.6 222.8,615.9 212.5,618.4" fill="#352d8c" stroke="#352d8c"/><polygon points="212.5,618.4 222.8,615.9 197.1,607.2 186.8,609.7" fill="#352d8c" stroke="#352d8c"/><polygon points="186.8,609.7 197.1,607.2 171.4,598.5 161.1,601.1" fill="#352d8c" stroke="#352d8c"/><polygon points="161.1,601.1 171.4,598.5 145.6,589.8 135.3,592.4" fill="#352d8c" stroke="#352d8c"/><polygon points="135.3,592.4 145.6,589.8 119.9,581.1 109.6,583.8" fill="#352d8c" stroke="#352d8c"/><polygon points="109.6,583.8 119.9,581.1 94.2,572.4 83.9,575.1" fill="#352d8c" stroke="#352d8c"/><polygon points="248.6,624.6 259,622 233.2,613.3 222.8,615.9" fill="#36349b" stroke="#36349b"/><polygon points="222.8,615.9 233.2,613.3 207.5,604.6 197.1,607.2" fill="#36349b" stroke="#36349b"/><polygon points="197.1,607.2 207.5,604.6 181.8,595.8 171.4,598.5" fill="#36349b" stroke="#36349b"/><polygon points="171.4,598.5 181.8,595.8 156.1,587.1 145.6,589.8" fill="#36349b" stroke="#36349b"/><polygon points="145.6,589.8 156.1,587.1 130.3,578.3 119.9,581.1" fill="#36349b" stroke="#36349b"/><polygon points="119.9,581.1 130.3,578.3 104.6,569.6 94.2,572.4" fill="#36349b" stroke="#36349b"/><polygon points="259,622 269.5,619.1 243.8,610.4 233.2,613.3" fill="#343fb1" stroke="#343fb1"/><polygon points="233.2,613.3 243.8,610.4 218,601.7 207.5,604.6" fill="#343fb1" stroke="#343fb1"/><polygon points="207.5,604.6 218,601.7 192.3,592.9 181.8,595.8" fill="#343fb1" stroke="#343fb1"/><polygon points="181.8,595.8 192.3,592.9 166.6,584.2 156.1,587.1" fill="#343fb1" stroke="#343fb1"/><polygon points="156.1,587.1 166.6,584.2 140.9,575.4 130.3,578.3" fill="#343fb1" stroke="#343fb1"/><polygon points="130.3,578.3 140.9,575.4 115.1,566.7 104.6,569.6" fill="#343fb1" stroke="#343fb1"/><polygon points="269.5,619.1 280.1,615.8 254.4,607.1 243.8,610.4" fill="#2251d1" stroke="#2251d1"/><polygon points="243.8,610.4 254.4,607.1 228.7,598.5 218,601.7" fill="#2251d1" stroke="#2251d1"/><polygon points="218,601.7 228.7,598.5 202.9,589.8 192.3,592.9" fill="#2351d1" stroke="#2351d1"/><polygon points="192.3,592.9 202.9,589.8 177.2,581.1 166.6,584.2" fill="#2351d1" stroke="#2351d1"/><polygon points="166.6,584.2 177.2,581.1 151.5,572.4 140.9,575.4" fill="#2251d1" stroke="#2251d1"/><polygon points="140.9,575.4 151.5,572.4 125.8,563.7 115.1,566.7" fill="#2251d1" stroke="#2251d1"/><polygon points="280.1,615.8 290.9,612.4 265.1,603.8 254.4,607.1" fill="#0266e1" stroke="#0266e1"/><polygon points="254.4,607.1 265.1,603.8 239.4,595.2 228.7,598.5" fill="#0266e1" stroke="#0266e1"/><polygon points="228.7,598.5 239.4,595.2 213.7,586.6 202.9,589.8" fill="#0266e1" stroke="#0266e1"/><polygon points="202.9,589.8 213.7,586.6 187.9,578 177.2,581.1" fill="#0266e1" stroke="#0266e1"/><polygon points="177.2,581.1 187.9,578 162.2,569.4 151.5,572.4" fill="#0266e1" stroke="#0266e1"/><polygon points="151.5,572.4 162.2,569.4 136.5,560.7 125.8,563.7" fill="#0266e1" stroke="#0266e1"/><polygon points="290.9,612.4 301.7,609 276,600.4 265.1,603.8" fill="#0a72de" stroke="#0a72de"/><polygon points="265.1,603.8 276,600.4 250.2,591.9 239.4,595.2" fill="#0a72de" stroke="#0a72de"/><polygon points="239.4,595.2 250.2,591.9 224.5,583.3 213.7,586.6" fill="#0a72de" stroke="#0a72de"/><polygon points="213.7,586.6 224.5,583.3 198.8,574.8 187.9,578" fill="#0a72de" stroke="#0a72de"/><polygon points="187.9,578 198.8,574.8 173.1,566.3 162.2,569.4" fill="#0a72de" stroke="#0a72de"/><polygon points="162.2,569.4 173.1,566.3 147.3,557.7 136.5,560.7" fill="#0a72de" stroke="#0a72de"/><polygon points="301.7,609 312.6,605.5 286.9,597 276,600.4" fill="#137ed7" stroke="#137ed7"/><polygon points="276,600.4 286.9,597 261.2,588.6 250.2,591.9" fill="#137dd8" stroke="#137dd8"/><polygon points="250.2,591.9 261.2,588.6 235.5,580.1 224.5,583.3" fill="#137dd8" stroke="#137dd8"/><polygon points="224.5,583.3 235.5,580.1 209.7,571.6 198.8,574.8" fill="#137dd8" stroke="#137dd8"/><polygon points="198.8,574.8 209.7,571.6 184,563.1 173.1,566.3" fill="#137dd8" stroke="#137dd8"/><polygon points="173.1,566.3 184,563.1 158.3,554.7 147.3,557.7" fill="#137ed7" stroke="#137ed7"/><polygon points="312.6,605.5 323.7,602 298,593.6 286.9,597" fill="#128ad3" stroke="#128ad3"/><polygon points="286.9,597 298,593.6 272.2,585.2 261.2,588.6" fill="#138ad3" stroke="#138ad3"/><polygon points="261.2,588.6 272.2,585.2 246.5,576.8 235.5,580.1" fill="#1389d3" stroke="#1389d3"/><polygon points="235.5,580.1 246.5,576.8 220.8,568.4 209.7,571.6" fill="#1389d3" stroke="#1389d3"/><polygon points="209.7,571.6 220.8,568.4 195,560 184,563.1" fill="#138ad3" stroke="#138ad3"/><polygon points="184,563.1 195,560 169.3,551.6 158.3,554.7" fill="#128ad3" stroke="#128ad3"/><polygon points="323.7,602 334.8,598.5 309.1,590.1 298,593.6" fill="#0899d1" stroke="#0899d1"/><polygon points="298,593.6 309.1,590.1 283.4,581.8 272.2,585.2" fill="#0999d1" stroke="#0999d1"/><polygon points="272.2,585.2 283.4,581.8 257.6,573.5 246.5,576.8" fill="#0998d1" stroke="#0998d1"/><polygon points="246.5,576.8 257.6,573.5 231.9,565.1 220.8,568.4" fill="#0998d1" stroke="#0998d1"/><polygon points="220.8,568.4 231.9,565.1 206.2,556.8 195,560" fill="#0999d1" stroke="#0999d1"/><polygon points="195,560 206.2,556.8 180.5,548.4 169.3,551.6" fill="#0899d1" stroke="#0899d1"/><polygon points="334.8,598.5 346.1,595 320.3,586.7 309.1,590.1" fill="#06a4c9" stroke="#06a4c9"/><polygon points="309.1,590.1 320.3,586.7 294.6,578.4 283.4,581.8" fill="#06a4ca" stroke="#06a4ca"/><polygon points="283.4,581.8 294.6,578.4 268.9,570.1 257.6,573.5" fill="#06a3ca" stroke="#06a3ca"/><polygon points="257.6,573.5 268.9,570.1 243.1,561.8 231.9,565.1" fill="#06a3ca" stroke="#06a3ca"/><polygon points="231.9,565.1 243.1,561.8 217.4,553.6 206.2,556.8" fill="#06a4ca" stroke="#06a4ca"/><polygon points="206.2,556.8 217.4,553.6 191.7,545.3 180.5,548.4" fill="#06a4c9" stroke="#06a4c9"/><polygon points="346.1,595 357.4,591.4 331.7,583.2 320.3,586.7" fill="#0bacbd" stroke="#0bacbd"/><polygon points="320.3,586.7 331.7,583.2 305.9,575 294.6,578.4" fill="#0aacbe" stroke="#0aacbe"/><polygon points="294.6,578.4 305.9,575 280.2,566.8 268.9,570.1" fill="#09abbf" stroke="#09abbf"/><polygon points="268.9,570.1 280.2,566.8 254.5,558.5 243.1,561.8" fill="#09abbf" stroke="#09abbf"/><polygon points="243.1,561.8 254.5,558.5 228.8,550.3 217.4,553.6" fill="#0aacbe" stroke="#0aacbe"/><polygon points="217.4,553.6 228.8,550.3 203,542.1 191.7,545.3" fill="#0bacbd" stroke="#0bacbd"/><polygon points="357.4,591.4 368.8,587.9 343.1,579.7 331.7,583.2" fill="#1db3af" stroke="#1db3af"/><polygon points="331.7,583.2 343.1,579.7 317.4,571.6 305.9,575" fill="#1bb2b0" stroke="#1bb2b0"/><polygon points="305.9,575 317.4,571.6 291.6,563.4 280.2,566.8" fill="#1ab2b1" stroke="#1ab2b1"/><polygon points="280.2,566.8 291.6,563.4 265.9,555.2 254.5,558.5" fill="#1ab2b1" stroke="#1ab2b1"/><polygon points="254.5,558.5 265.9,555.2 240.2,547 228.8,550.3" fill="#1bb2b0" stroke="#1bb2b0"/><polygon points="228.8,550.3 240.2,547 214.5,538.9 203,542.1" fill="#1db3af" stroke="#1db3af"/><polygon points="368.8,587.9 380.3,584.3 354.6,576.2 343.1,579.7" fill="#38b99d" stroke="#38b99d"/><polygon points="343.1,579.7 354.6,576.2 328.9,568.1 317.4,571.6" fill="#34b8a0" stroke="#34b8a0"/><polygon points="317.4,571.6 328.9,568.1 303.2,560 291.6,563.4" fill="#33b8a1" stroke="#33b8a1"/><polygon points="291.6,563.4 303.2,560 277.4,551.9 265.9,555.2" fill="#33b8a1" stroke="#33b8a1"/><polygon points="265.9,555.2 277.4,551.9 251.7,543.7 240.2,547" fill="#34b8a0" stroke="#34b8a0"/><polygon points="240.2,547 251.7,543.7 226,535.6 214.5,538.9" fill="#38b99d" stroke="#38b99d"/><polygon points="380.3,584.3 392,580.7 366.2,572.6 354.6,576.2" fill="#5cbe8a" stroke="#5cbe8a"/><polygon points="354.6,576.2 366.2,572.6 340.5,564.6 328.9,568.1" fill="#56bd8d" stroke="#56bd8d"/><polygon points="328.9,568.1 340.5,564.6 314.8,556.5 303.2,560" fill="#53bd8e" stroke="#53bd8e"/><polygon points="303.2,560 314.8,556.5 289,548.5 277.4,551.9" fill="#53bd8e" stroke="#53bd8e"/><polygon points="277.4,551.9 289,548.5 263.3,540.4 251.7,543.7" fill="#56bd8d" stroke="#56bd8d"/><polygon points="251.7,543.7 263.3,540.4 237.6,532.4 226,535.6" fill="#5cbe8a" stroke="#5cbe8a"/><polygon points="392,580.7 403.7,577 377.9,569 366.2,572.6" fill="#82bf79" stroke="#82bf79"/><polygon points="366.2,572.6 377.9,569 352.2,561.1 340.5,564.6" fill="#7cbf7c" stroke="#7cbf7c"/><polygon points="340.5,564.6 352.2,561.1 326.5,553.1 314.8,556.5" fill="#79bf7d" stroke="#79bf7d"/><polygon points="314.8,556.5 326.5,553.1 300.7,545.1 289,548.5" fill="#79bf7d" stroke="#79bf7d"/><polygon points="289,548.5 300.7,545.1 275,537.1 263.3,540.4" fill="#7cbf7c" stroke="#7cbf7c"/><polygon points="263.3,540.4 275,537.1 249.3,529.1 237.6,532.4" fill="#82bf79" stroke="#82bf79"/><polygon points="403.7,577 415.5,573.5 389.7,565.6 377.9,569" fill="#a4be6b" stroke="#a4be6b"/><polygon points="377.9,569 389.7,565.6 364,557.6 352.2,561.1" fill="#9ebe6e" stroke="#9ebe6e"/><polygon points="352.2,561.1 364,557.6 338.3,549.6 326.5,553.1" fill="#9bbf6f" stroke="#9bbf6f"/><polygon points="326.5,553.1 338.3,549.6 312.5,541.7 300.7,545.1" fill="#9bbf6f" stroke="#9bbf6f"/><polygon points="300.7,545.1 312.5,541.7 286.8,533.7 275,537.1" fill="#9ebe6e" stroke="#9ebe6e"/><polygon points="275,537.1 286.8,533.7 261.1,525.8 249.3,529.1" fill="#a4be6b" stroke="#a4be6b"/><polygon points="415.5,573.5 427.3,570.2 401.6,562.2 389.7,565.6" fill="#c4bc5e" stroke="#c4bc5e"/><polygon points="389.7,565.6 401.6,562.2 375.9,554.3 364,557.6" fill="#bebc61" stroke="#bebc61"/><polygon points="364,557.6 375.9,554.3 350.1,546.3 338.3,549.6" fill="#bbbd62" stroke="#bbbd62"/><polygon points="338.3,549.6 350.1,546.3 324.4,538.3 312.5,541.7" fill="#bbbd62" stroke="#bbbd62"/><polygon points="312.5,541.7 324.4,538.3 298.7,530.4 286.8,533.7" fill="#bebc61" stroke="#bebc61"/><polygon points="286.8,533.7 298.7,530.4 272.9,522.4 261.1,525.8" fill="#c4bc5e" stroke="#c4bc5e"/><polygon points="427.3,570.2 439.3,566.9 413.5,558.9 401.6,562.2" fill="#e2b952" stroke="#e2b952"/><polygon points="401.6,562.2 413.5,558.9 387.8,550.9 375.9,554.3" fill="#dbba55" stroke="#dbba55"/><polygon points="375.9,554.3 387.8,550.9 362.1,543 350.1,546.3" fill="#d8ba56" stroke="#d8ba56"/><polygon points="350.1,546.3 362.1,543 336.4,535 324.4,538.3" fill="#d8ba56" stroke="#d8ba56"/><polygon points="324.4,538.3 336.4,535 310.6,527 298.7,530.4" fill="#dbba55" stroke="#dbba55"/><polygon points="298.7,530.4 310.6,527 284.9,519.1 272.9,522.4" fill="#e2b952" stroke="#e2b952"/><polygon points="439.3,566.9 451.3,563.9 425.6,555.9 413.5,558.9" fill="#fbbc41" stroke="#fbbc41"/><polygon points="413.5,558.9 425.6,555.9 399.8,547.8 387.8,550.9" fill="#f5ba47" stroke="#f5ba47"/><polygon points="387.8,550.9 399.8,547.8 374.1,539.8 362.1,543" fill="#f1b949" stroke="#f1b949"/><polygon points="362.1,543 374.1,539.8 348.4,531.8 336.4,535" fill="#f1b949" stroke="#f1b949"/><polygon points="336.4,535 348.4,531.8 322.7,523.7 310.6,527" fill="#f5ba47" stroke="#f5ba47"/><polygon points="310.6,527 322.7,523.7 296.9,515.7 284.9,519.1" fill="#fbbc41" stroke="#fbbc41"/><polygon points="451.3,563.9 463.4,561.5 437.7,553.3 425.6,555.9" fill="#fccc2f" stroke="#fccc2f"/><polygon points="425.6,555.9 437.7,553.3 412,545.1 399.8,547.8" fill="#fec734" stroke="#fec734"/><polygon points="399.8,547.8 412,545.1 386.2,536.9 374.1,539.8" fill="#ffc436" stroke="#ffc436"/><polygon points="374.1,539.8 386.2,536.9 360.5,528.7 348.4,531.8" fill="#ffc436" stroke="#ffc436"/><polygon points="348.4,531.8 360.5,528.7 334.8,520.5 322.7,523.7" fill="#fec734" stroke="#fec734"/><polygon points="322.7,523.7 334.8,520.5 309,512.3 296.9,515.7" fill="#fccc2f" stroke="#fccc2f"/><polygon points="463.4,561.5 475.6,559.3 449.9,550.9 437.7,553.3" fill="#f5de21" stroke="#f5de21"/><polygon points="437.7,553.3 449.9,550.9 424.1,542.5 412,545.1" fill="#f8d726" stroke="#f8d726"/><polygon points="412,545.1 424.1,542.5 398.4,534.1 386.2,536.9" fill="#f9d429" stroke="#f9d429"/><polygon points="386.2,536.9 398.4,534.1 372.7,525.7 360.5,528.7" fill="#f9d429" stroke="#f9d429"/><polygon points="360.5,528.7 372.7,525.7 346.9,517.3 334.8,520.5" fill="#f8d726" stroke="#f8d726"/><polygon points="334.8,520.5 346.9,517.3 321.2,508.9 309,512.3" fill="#f5de21" stroke="#f5de21"/><polygon points="475.6,559.3 487.8,557.3 462.1,548.7 449.9,550.9" fill="#f8f810" stroke="#f8f810"/><polygon points="449.9,550.9 462.1,548.7 436.3,540 424.1,542.5" fill="#f5ed17" stroke="#f5ed17"/><polygon points="424.1,542.5 436.3,540 410.6,531.4 398.4,534.1" fill="#f5e91a" stroke="#f5e91a"/><polygon points="398.4,534.1 410.6,531.4 384.9,522.7 372.7,525.7" fill="#f5e91a" stroke="#f5e91a"/><polygon points="372.7,525.7 384.9,522.7 359.2,514.1 346.9,517.3" fill="#f5ed17" stroke="#f5ed17"/><polygon points="346.9,517.3 359.2,514.1 333.4,505.4 321.2,508.9" fill="#f8f810" stroke="#f8f810"/></g>
<pattern id="prb" width="2.4" height="2.6" patternUnits="userSpaceOnUse" patternTransform="skewY(-14)"><g fill="#000" fill-opacity="0.48"><rect x="0" y="0" width="1.25" height="0.6"/><rect x="1.2" y="1.3" width="1.2" height="0.6"/><rect x="0" y="1.3" width="0.1" height="0.6"/></g></pattern>
<pattern id="plb" width="2.4" height="2.6" patternUnits="userSpaceOnUse" patternTransform="skewY(17.7)"><g fill="#000" fill-opacity="0.48"><rect x="0" y="0" width="1.25" height="0.6"/><rect x="1.2" y="1.3" width="1.2" height="0.6"/><rect x="0" y="1.3" width="0.1" height="0.6"/></g></pattern>
<pattern id="ptb" width="2.4" height="2.6" patternUnits="userSpaceOnUse" patternTransform="skewY(-14)"><g fill="#000" fill-opacity="0.12"><rect x="0" y="0" width="1.25" height="0.6"/><rect x="1.2" y="1.3" width="1.2" height="0.6"/><rect x="0" y="1.3" width="0.1" height="0.6"/></g></pattern>
<polygon points="238.2,627 261.1,621.5 284.4,614.5 308.3,606.9 332.6,599.2 357.4,591.4 382.7,583.6 408.4,575.6 434.5,568.2 461,562 487.8,557.3 333.4,505.4 306.6,513 280.1,520.4 254,527.7 228.3,535 203,542.1 178.2,549.1 153.9,555.9 130,562.5 106.7,569 83.9,575.1" fill="url(#ptb)"/>
<polygon points="238.2,627 261.1,621.5 284.4,614.5 308.3,606.9 332.6,599.2 357.4,591.4 382.7,583.6 408.4,575.6 434.5,568.2 461,562 487.8,557.3 487.8,557.3 494.1,572.3 499.1,587.5 503.1,602.9 506.8,618.3 510.4,633.8 514.5,649.2 519.5,664.4 525.8,679.4 525.8,679.4 498.7,684.1 471.3,690.5 443.6,698.2 415.6,706.7 387.1,715.2 358.2,723.7 328.9,732.4 299.1,741.1 268.9,749.5 238.2,756.6" fill="url(#prb)"/>
<polygon points="83.9,575.1 238.2,627 238.2,756.6 83.9,704.7" fill="url(#plb)"/>
<path d="M238.2,627 L238.2,756.6 M231.2,624.7 L231.2,754.2 M224.2,622.3 L224.2,751.9 M217.2,619.9 L217.2,749.5 M210.2,617.6 L210.2,747.2 M203.2,615.2 L203.2,744.8 M196.1,612.9 L196.1,742.4 M189.1,610.5 L189.1,740.1 M182.1,608.2 L182.1,737.7 M175.1,605.8 L175.1,735.4 M168.1,603.4 L168.1,733 M161.1,601.1 L161.1,730.7 M154,598.7 L154,728.3 M147,596.4 L147,725.9 M140,594 L140,723.6 M133,591.6 L133,721.2 M126,589.3 L126,718.9 M119,586.9 L119,716.5 M111.9,584.6 L111.9,714.1 M104.9,582.2 L104.9,711.8 M97.9,579.9 L97.9,709.4 M90.9,577.5 L90.9,707.1 M83.9,575.1 L83.9,704.7 M238.2,627 238.2,643.2 238.2,659.4 238.2,675.6 238.2,691.8 238.2,708 238.2,724.2 238.2,740.4 238.2,756.6 M248.6,624.6 249.2,640.7 249.7,656.8 250.1,672.9 250.4,689.1 250.8,705.2 251.2,721.3 251.6,737.4 252.3,753.5 M259,622 260.2,638 261.1,654 261.9,670.1 262.6,686.1 263.3,702.2 264,718.2 265,734.2 266.2,750.2 M269.5,619.1 271.2,635 272.6,650.9 273.7,666.9 274.7,682.9 275.7,698.9 276.9,714.9 278.2,730.8 280,746.6 M280.1,615.8 282.4,631.6 284.2,647.4 285.6,663.3 286.9,679.3 288.2,695.2 289.7,711.1 291.4,727 293.7,742.7 M290.9,612.4 293.6,628 295.7,643.8 297.5,659.6 299.1,675.5 300.7,691.4 302.4,707.3 304.6,723 307.3,738.7 M301.7,609 304.9,624.5 307.4,640.2 309.4,656 311.3,671.9 313.1,687.7 315.1,703.5 317.6,719.2 320.8,734.8 M312.6,605.5 316.2,621 319.1,636.6 321.4,652.4 323.4,668.2 325.5,683.9 327.8,699.7 330.7,715.3 334.3,730.8 M323.7,602 327.7,617.4 330.8,633 333.4,648.7 335.6,664.4 337.9,680.2 340.5,695.9 343.6,711.4 347.6,726.9 M334.8,598.5 339.1,613.8 342.5,629.4 345.3,645 347.8,660.7 350.3,676.4 353.1,692.1 356.5,707.6 360.8,722.9 M346.1,595 350.7,610.3 354.4,625.7 357.4,641.3 360,657 362.7,672.7 365.7,688.3 369.4,703.8 374,719 M357.4,591.4 362.3,606.7 366.2,622.1 369.4,637.7 372.2,653.3 375.1,668.9 378.3,684.5 382.2,699.9 387.1,715.2 M368.8,587.9 374,603.1 378.1,618.5 381.5,634 384.5,649.6 387.4,665.2 390.8,680.7 394.9,696.1 400.1,711.3 M380.3,584.3 385.8,599.5 390,614.8 393.5,630.3 396.7,645.9 399.8,661.5 403.3,677 407.6,692.3 413,707.5 M392,580.7 397.6,595.8 402,611.1 405.6,626.6 408.9,642.1 412.1,657.7 415.8,673.2 420.2,688.5 425.8,703.6 M403.7,577 409.5,592.1 414,607.4 417.8,622.8 421.1,638.4 424.4,653.9 428.2,669.4 432.8,684.7 438.6,699.7 M415.5,573.5 421.4,588.5 426.1,603.8 429.9,619.3 433.3,634.8 436.8,650.3 440.6,665.7 445.3,681 451.2,696 M427.3,570.2 433.4,585.2 438.2,600.4 442.1,615.9 445.6,631.4 449.1,646.9 453,662.3 457.8,677.6 463.8,692.6 M439.3,566.9 445.4,581.8 450.3,597.1 454.3,612.5 457.8,628 461.3,643.5 465.3,658.9 470.2,674.1 476.3,689.1 M451.3,563.9 457.5,578.9 462.4,594.1 466.5,609.5 470,625 473.6,640.5 477.7,655.9 482.6,671.1 488.8,686.1 M463.4,561.5 469.7,576.5 474.6,591.7 478.7,607.1 482.3,622.6 485.9,638.1 490,653.5 494.9,668.7 501.2,683.6 M475.6,559.3 481.9,574.2 486.8,589.4 490.9,604.8 494.5,620.3 498.2,635.8 502.2,651.2 507.2,666.4 513.5,681.4 M487.8,557.3 494.1,572.3 499.1,587.5 503.1,602.9 506.8,618.3 510.4,633.8 514.5,649.2 519.5,664.4 525.8,679.4" fill="none" stroke="#000" stroke-width="0.42" stroke-opacity="0.75"/>
<path d="M400.4,545.4 408.1,549.3 413.6,552.2 414,556.2 414.5,559.3 413.7,563.2 414.2,568.1 414,571.1 400.6,571.3 394.8,575.9 386.6,578.9 378.9,579 376.8,576.7 365.7,577.8 360,579.5 351.5,580.7 342.6,583 336.1,578 331.5,581.9 318.4,582.1 306.7,584.6 292.2,581.1 289.9,584.6 306.7,584.6 298.3,587.3 289.9,584.6 273.8,583.6 266.2,585.1 262.9,580.6 258,584.4 246.9,586 232.1,584.3 229.2,585.6 224.2,583.3 232.1,584.3 230.9,579.7 241,581.5 246.9,586 255.8,587.5 266.2,585.1 258,584.4 251.9,579.8 241,581.5 232.1,584.3 237.9,588 246.9,586 252.3,590.3 237.9,588 239.4,590.2 248,593 258.4,593.6 263.3,594.5 273.7,593.3 260.2,590.2 252.3,590.3 258.4,593.6 260,596.7 269.4,598.5 277,602.4 281,606.7 284.8,609.1 285.8,614 292.8,611.8 299.8,609.6 290.7,606.7 284.8,609.1 292.8,611.8 M404.5,541.9 401.1,538 390.4,537.4 385.9,538 370.5,535.1 375.4,539.6 364.6,537.1 350.3,535.7 339.8,538.4 343.9,541.8 344.9,546.8 343.2,552.6 347.2,556.5 346.9,560.1 360.8,560.7 365.7,564.4 364.2,569.1 370.3,571.6 368.2,575.1 365.7,577.8 378.9,579 387.2,582.2 386.6,578.9 376.8,576.7 368.2,575.1 355.9,576.4 360,579.5 370.7,581.8 365.7,577.8 355.9,576.4 351.5,580.7 340.7,575.9 355.9,576.4 349.3,573.8 355.4,571.2 355.9,576.4 M248,593 247.9,595.1 260,596.7 265.7,600.8 263,602.4 247.6,600.6 236.9,600.6 230.1,602.4 229,604.7 241.8,608.6 243.4,612.1 247.7,615.9 254.2,619.3 258.4,622.2 251.6,623.9 244.9,625.5 238.2,627 234.9,623.3 244.9,625.5 245,622.8 251.6,623.9 M239.4,590.2 238.5,594.2 231,594.5 242.8,595.8 250,598.3 260,596.7 263.3,594.5 269.4,598.5 265.7,600.8 270.7,604.6 275.1,609.1 274.8,611.3 278.9,616.2 272,618.4 265.2,620.4 265.4,615.6 272,618.4 M332.2,536.9 339.8,538.4 360.8,540.1 364.6,537.1 370.5,535.1 379.4,534.2 390.4,537.4 391.1,538.7 385.9,538 387.2,540.3 394,542 400.4,545.4 413.4,547.2 421.3,548.3 429.4,553.2 427.4,555.3 439.3,560.1 439.3,561.2 432.9,564.7 427.4,565.3 414.2,568.1 405.4,567.4 400.6,571.3 390.2,570.3 394.8,575.9 384,574.2 386.6,578.9 394.7,579.8 387.2,582.2 379.7,584.5 372.2,586.9 364.8,589.1 357.4,591.4 350.1,593.7 341.9,591.8 335.9,592.4 329,594.4 317.6,595 303.5,592.6 299.6,594.7 292.7,598.1 292.1,600.7 300.1,603.2 290.7,606.7 306.8,607.3 299.8,609.6 284.8,609.1 274.8,611.3 285.8,614 278.9,616.2 265.4,615.6 258.2,619.1 258.4,622.2 265.2,620.4 258.2,619.1 254.2,619.3 245,622.8 258.4,622.2 M190,603.9 193.5,608.1 184.2,608.9 191.9,611.5 205.6,612.7 199.7,614 191.9,611.5 192,610.3 184.2,608.9 176.5,606.3 168.8,603.7 183.3,605.5 184.2,608.9 M266.9,614 278.9,616.2 M409,544.5 413.4,547.2 408.1,549.3 418.7,552.1 420.6,555 425.4,556.5 422.9,561.5 427.4,565.3 413.7,563.2 405.4,567.4 414,571.1 409.9,575.2 394.8,575.9 394.7,579.8 402.3,577.5 409.9,575.2 400.6,571.3 398.1,570.6 390.2,570.3 384,574.2 376.8,576.7 378.2,571.8 384,574.2 M219.7,588.5 211.4,586.2 203.2,585.5 194.6,588.3 180.2,586.8 173.2,587.6 157.8,587.4 148.6,585.8 140,586.6 135.6,585.8 128,585.4 128.9,583.7 135.6,585.8 140.3,581.8 140,586.6 148,589.4 157.8,587.4 151.6,584.5 148.6,585.8 140.3,581.8 128.9,583.7 134,580.6 140.3,581.8 151.2,581.7 151.6,584.5 140.3,581.8 140,580.7 134,580.6 118.9,581.6 128,585.4 114.6,584.6 114.7,585.5 128,585.4 122.5,588.1 130.2,590.7 149.2,592.1 164.2,592 157.8,587.4 157.7,583 170.7,586.5 157.8,587.4 170.3,591.1 173.2,587.6 170.7,586.5 180.2,586.8 171,583.5 170.7,586.5 M211.4,586.2 209.9,583.8 203.2,585.5 193.2,584.7 194.6,588.3 205.5,590.7 203.2,585.5 192.8,581.3 209.9,583.8 219,585.4 211.4,586.2 205.5,590.7 218,591.9 230,591.5 239.4,590.2 252.3,590.3 248,593 238.5,594.2 242.8,595.8 247.9,595.1 238.5,594.2 230,591.5 237.9,588 229.2,585.6 219,585.4 224.2,583.3 230.9,579.7 217.2,581.2 219,585.4 219.7,588.5 229.2,585.6 M348.5,519.1 339.1,521.9 349.4,521.5 363.3,519.1 358.5,523 370.9,522.2 363.3,519.1 348.5,519.1 349.4,521.5 358.5,523 351.2,524.1 349.4,521.5 M330.7,517.1 330.4,519.6 339.1,521.9 327.6,522.4 315,522.8 304.1,522 293.3,524.9 292.2,519.7 304.1,522 300.3,517.8 292.2,519.7 283.5,522.6 279.5,524.5 270.8,523 283.5,522.6 293.3,524.9 310,524.6 315,522.8 313.2,520.8 327.6,522.4 330.4,519.6 313.2,520.8 300.3,517.8 308.6,516.2 313.2,520.8 304.1,522 310,524.6 318.2,527.2 315,522.8 331.4,524.7 327.6,522.4 M256.1,609 258.4,611.7 265.4,615.6 247.7,615.9 238.1,617.7 245,622.8 234.9,623.3 230.5,624.4 238.2,627 M340.5,517.8 339.1,521.9 331.4,524.7 318.2,527.2 310.1,529.4 299.1,527.5 293.3,524.9 294.7,528.8 285.6,532.3 274.1,531 266.4,533.6 258.2,536.8 268.3,537 277.2,534.9 266.4,533.6 268.3,537 266.3,537.8 268.9,540.1 288.3,540.7 272.3,542.2 269.2,544.9 271.3,549.7 282.2,552.9 277.7,555.1 278.8,555.9 286.1,559.3 296,563.9 296.5,564.7 289.3,569.8 291.5,573.2 293.8,575.4 299.1,578.3 306.7,584.6 317.5,581.5 318.4,582.1 319.6,580 331.5,581.9 342.6,583 337.1,584.2 331.5,581.9 323.2,577.8 319.6,580 317.5,581.5 305.6,576.4 319.6,580 313.3,575.9 323.2,577.8 336.1,578 351.5,580.7 351.7,582.1 360,579.5 M357.4,591.4 350.7,589.5 350.1,593.7 342.7,596 329,594.4 320.3,599.1 328.3,600.6 321.1,602.8 320.3,599.1 314.3,601.6 303.7,603.4 306.8,607.3 300.1,603.2 303.7,603.4 313.9,605.1 321.1,602.8 314.3,601.6 313.9,605.1 306.8,607.3 M350.7,589.5 364.8,589.1 354.8,586.3 349.4,585 342.6,583 351.7,582.1 363.3,585.7 364.8,589.1 M193.2,584.7 180.2,586.8 185.7,581.9 193.2,584.7 192.8,581.3 204.3,578.2 209.9,583.8 217.2,581.2 224.2,583.3 M425.4,556.5 431.8,560.9 432.9,564.7 422.9,561.5 413.7,563.2 408.8,561 400.1,563.6 405.4,567.4 398.1,570.6 392,566.3 390.2,570.3 378.2,571.8 370.3,571.6 355.4,571.2 368.2,575.1 378.2,571.8 379,566.6 370.3,571.6 M284.8,609.1 275.1,609.1 269.8,610.8 266.9,614 265.4,615.6 248.3,613.7 247.7,615.9 232.3,612.3 231.2,613.9 238.1,617.7 254.2,619.3 M317.8,542.7 327.6,538.9 312.9,537.6 305.4,539.1 307.8,544.6 313.2,546.8 321.5,549.3 329.8,552.1 327.7,556.1 327.1,560.4 334.3,564.4 342,569.2 343.1,572.3 340.7,575.9 336.1,578 328.4,574.6 323.2,577.8 323.1,574.7 328.4,574.6 340.7,575.9 349.3,573.8 343.1,572.3 328.4,574.6 327.8,570.7 343.1,572.3 355.4,571.2 348.8,568.8 343.1,572.3 M457.9,553.9 465.8,556.7 472,559.9 479.9,558.5 465.8,556.7 455.5,560.3 449.5,561.3 439.3,561.2 431.8,560.9 422.9,561.5 414.5,559.3 408.8,561 400.3,559.7 400.1,563.6 413.7,563.2 M318.4,582.1 320.4,587.6 311.6,589.6 325.7,592.7 335.9,592.4 331.1,588.5 320.4,587.6 325.7,592.7 331.1,588.5 340.3,589 349.4,585 337.1,584.2 340.3,589 335.9,592.4 342.7,596 341.9,591.8 350.7,589.5 354.8,586.3 363.3,585.7 372.2,586.9 370.7,581.8 378.9,579 M379,566.6 364.2,569.1 355.4,571.2 352.8,567.4 348.8,568.8 342,569.2 327.8,570.7 323.1,574.7 313.3,575.9 305.6,576.4 299.1,578.3 292.2,581.1 283.2,580.4 289.9,584.6 290,586.5 282.4,586.2 289.9,584.6 M124.5,564.1 117.6,566 110.8,567.9 112.7,570.2 104,569.8 112.7,573 97.2,571.6 90.5,573.4 83.9,575.1 91.6,577.7 99.3,580.3 103.3,581.1 107,582.9 114.6,584.6 118.9,581.6 128.9,583.7 M131.3,565 134.7,571.2 136.8,576 140,580.7 151.2,581.7 157.7,583 151.6,584.5 M155.8,594.5 149.2,592.1 151.9,595.2 153.3,598.5 161.1,601.1 164.2,601.5 162.3,597.8 164.2,594.4 177.2,596.1 187.4,599 198.4,599.2 203.4,602.8 191.8,602.3 182.8,601.9 172.6,598.2 162.3,597.8 171.6,601.7 164.2,601.5 168.8,603.7 171.6,601.7 183.3,605.5 176.5,606.3 M305.4,539.1 317.8,542.7 313.2,546.8 308.3,550.2 311.5,552.9 316,556.8 317.8,561.5 320.2,563.6 322.3,567.4 327.8,570.7 314.6,572.5 313.3,575.9 301.8,574.6 305.6,576.4 293.8,575.4 289.8,578.6 292.2,581.1 M458.5,551.4 472.4,552.1 464.7,549.5 453.4,548.4 456.9,546.9 447.6,546.3 449.2,544.3 441.5,541.7 433.8,539.1 431.6,542.1 449.2,544.3 456.9,546.9 464.7,549.5 458.5,551.4 457.9,553.9 451,556.6 455.5,560.3 448.4,557.3 449.5,561.3 439.3,560.1 431.8,560.9 M229,604.7 226.8,607.5 232.3,612.3 221.8,613.4 228.8,615.7 236.5,620.2 234.9,623.3 222.8,621.8 215.1,619.2 207.4,616.6 210.3,616.5 215.1,619.2 223.5,620.6 222.8,621.8 230.5,624.4 M245,622.8 236.5,620.2 223.5,620.6 234.9,623.3 M107,582.9 114.7,585.5 122.5,588.1 128.6,589.3 130.2,590.7 137.9,593.3 151.9,595.2 162.3,597.8 161.1,601.1 168.8,603.7 M348.7,563.9 365.7,564.4 352.8,567.4 364.2,569.1 M97.2,571.6 104,569.8 110.8,567.9 127.5,569.5 128.2,570.8 136.8,576 147.7,577.3 151.2,581.7 153.8,577.9 157.7,583 171,583.5 178.6,581.4 180.2,586.8 187.9,589.4 194.6,588.3 197.2,591.7 187.9,589.4 173.2,587.6 181.8,592.5 187.9,589.4 195,593.7 197.2,591.7 202.8,594.7 209.7,592.2 218,591.9 231,594.5 228.7,597.8 236.9,600.6 246.3,604.7 260.7,607.2 269.8,610.8 258.4,611.7 248.3,613.7 243.4,612.1 248.7,611.7 248.3,613.7 M96.6,575.1 83.9,575.1 M441.6,551.1 443,554.4 448.4,557.3 439.3,560.1 425.4,556.5 414.5,559.3 406,558 408.8,561 M128,585.4 128.6,589.3 140,586.6 M453.4,548.4 458.5,551.4 466.9,553.9 480.1,554.7 472.4,552.1 466.9,553.9 465.8,556.7 451,556.6 448.4,557.3 427.4,555.3 425.4,556.5 414,556.2 406,558 400.3,559.7 382.8,560.5 379.7,565.1 392,566.3 385.5,568.5 379,566.6 365.7,564.4 379.7,565.1 367.8,562.7 365.7,564.4 349.1,566.2 348.8,568.8 M214.3,602.9 215.6,605.3 222.2,608.7 221.8,613.4 219.4,614 221.7,616.4 215.1,619.2 M210.6,598.3 218.6,599.1 230.1,602.4 239.7,604.6 241.8,608.6 232.3,612.3 243.4,612.1 M284.2,537.1 268.9,540.1 256.9,544 272.3,542.2 283.2,543.9 288.3,540.7 297.5,539.6 305.4,539.1 300.3,536.8 297.5,539.6 307.8,544.6 297.9,546.5 308.3,550.2 300.8,551.7 311.5,552.9 298.1,554.8 303.7,559.7 309,562.9 299.4,567.3 297.4,571.2 301.8,574.6 293.8,575.4 286.9,574.3 289.8,578.6 283.2,580.4 273.8,583.6 262.9,580.6 251.9,579.8 234.9,578.6 241,581.5 258,584.4 255.8,587.5 260.2,590.2 263.3,594.5 M478.2,556.4 479.9,558.5 487.8,557.3 478.2,556.4 480.1,554.7 487.8,557.3 M90.5,573.4 96.6,575.1 97.2,571.6 107.8,574.8 111.4,577.9 118.9,581.6 120.2,578 134,580.6 128.3,577.6 140,580.7 147.7,577.3 153.8,577.9 168,582.5 171,583.5 M431.8,547.9 429.4,553.2 443,554.4 451,556.6 448.3,552.4 443,554.4 427.4,555.3 420.6,555 414,556.2 403.8,554.8 406,558 397.2,556.9 400.3,559.7 381.6,558.8 366.6,560.1 367.8,562.7 382.8,560.5 381.6,558.8 397.2,556.9 403.8,554.8 387.7,552.5 397.2,556.9 382.9,554.2 381.6,558.8 378.1,557.2 366.6,560.1 360.8,560.7 367.8,562.7 M447.6,546.3 442.9,549.4 448.3,552.4 457.9,553.9 466.9,553.9 478.2,556.4 465.8,556.7 464.1,561.4 472,559.9 M196.7,595.5 198.4,599.2 191.8,602.3 199.8,605.3 210.9,609.5 219.4,614 210.3,616.5 199.7,614 207.4,616.6 M140.5,573.2 147.7,577.3 154,576.2 153.8,577.9 162.6,575.6 168,582.5 178.6,581.4 185.7,581.9 192.8,581.3 176.5,578.7 185.7,581.9 M258.2,536.8 256.1,540 240.5,539 244.1,543 233.6,544.6 218,541.6 210.4,540 203,542.1 195.7,544.1 193.6,548.6 205.4,552.5 208.8,555.5 207.6,559.6 212.1,563.2 217.5,567.1 216.1,572 219.6,576.4 219,578.4 230.9,579.7 234.9,578.6 228.8,576.3 230.9,579.7 M320.3,599.1 310.9,596 317.6,595 320.3,599.1 335.5,598.3 329,594.4 325.7,592.7 317.6,595 311.6,589.6 303.5,592.6 310.9,596 314.3,601.6 301.8,600.6 310.9,596 299.6,594.7 290.8,594.5 292.7,598.1 301.8,600.6 300.1,603.2 288.5,603.9 290.7,606.7 281,606.7 275.1,609.1 260.7,607.2 256.1,609 269.8,610.8 274.8,611.3 266.9,614 258.4,611.7 248.7,611.7 256.1,609 245.7,607.1 248.7,611.7 241.8,608.6 226.8,607.5 222.2,608.7 210.9,609.5 205.6,612.7 210.3,616.5 221.7,616.4 223.5,620.6 M245.9,534.5 232.8,533.7 225.3,535.8 217.8,537.9 218,541.6 221.3,545.8 210.6,543.9 195.7,544.1 203.3,548.2 206.9,551.7 213.8,554 214.4,557.8 221.9,561.2 219.4,564.1 230.5,568.7 235,571 233,574.6 234.9,578.6 251.4,575.9 251.9,579.8 259.9,577.1 262.9,580.6 269.5,580.5 273.8,583.6 282.4,586.2 266.2,585.1 269.7,588.9 255.8,587.5 252.3,590.3 M99.3,580.3 111.4,577.9 103.3,581.1 118.9,581.6 107,582.9 99.3,580.3 96.6,575.1 111.4,577.9 120.2,578 128.3,577.6 136.8,576 140.5,573.2 154,576.2 162.6,575.6 176.5,578.7 193.3,577.5 192.8,581.3 201.2,577.7 204.3,578.2 217.2,581.2 207,577.7 219,578.4 217.2,581.2 M181.8,592.5 177.2,596.1 172.6,598.2 171.6,601.7 182.8,601.9 183.3,605.5 193.5,608.1 192,610.3 205.6,612.7 219.4,614 228.8,615.7 221.7,616.4 236.5,620.2 238.1,617.7 228.8,615.7 231.2,613.9 247.7,615.9 258.2,619.1 M356.6,513.2 362.5,515.8 363.3,519.1 350,516.1 348.5,519.1 340.5,517.8 330.4,519.6 318.7,517.2 313.2,520.8 M348.9,510.6 341.2,508 325.5,507.7 317.6,509.9 309.7,512.1 308.6,516.2 318.7,517.2 330.7,517.1 340.5,517.8 350,516.1 362.5,515.8 364.3,515.8 363.3,519.1 372,518.4 370.9,522.2 379.7,521 372,518.4 364.3,515.8 356.6,513.2 350,516.1 346.1,512.8 340.5,517.8 331.5,513.8 330.7,517.1 322.4,514.8 318.7,517.2 M298.1,554.8 289.6,557.5 299,560.4 296,563.9 309,562.9 320.2,563.6 334.3,564.4 349.1,566.2 352.8,567.4 M172.7,593 181.8,592.5 187.1,595.6 177.2,596.1 172.7,593 164.2,594.4 172.6,598.2 187.4,599 191.8,602.3 190,603.9 199.8,605.3 196.9,608.7 205.6,612.7 M170.3,591.1 164.2,592 164.2,594.4 155.8,594.5 151.9,595.2 145.6,595.9 153.3,598.5 162.3,597.8 155.8,594.5 164.2,592 172.7,593 170.3,591.1 181.8,592.5 195,593.7 187.1,595.6 198.4,599.2 210.6,598.3 196.7,595.5 202.8,594.7 210.6,598.3 203.4,602.8 199.8,605.3 193.5,608.1 196.9,608.7 192,610.3 M203.3,548.2 193.6,548.6 187.8,551.8 193.3,554.3 190.2,558.2 195.2,562.3 197.7,565.5 202.3,569 196.3,571.7 201.2,577.7 207,577.7 204.3,578.2 M210.6,543.9 203,542.1 M286.2,554.7 289.6,557.5 286.1,559.3 279.3,563.3 278.7,565.8 289.3,569.8 280.4,573 276.5,575.8 283.2,580.4 269.5,580.5 276.5,575.8 289.8,578.6 299.1,578.3 317.5,581.5 M285.5,550.5 286.2,554.7 298.1,554.8 316,556.8 322.7,557.7 327.1,560.4 320.2,563.6 316.3,567.3 321.1,568.9 314.6,572.5 323.1,574.7 M260.7,607.2 245.7,607.1 246.3,604.7 239.7,604.6 245.7,607.1 241.8,608.6 M164.2,592 148,589.4 148.6,585.8 M429.4,553.2 420.6,555 413.6,552.2 403.8,554.8 395.9,550.8 387.7,552.5 382.9,554.2 378.1,557.2 364.9,556.2 366.6,560.1 382.8,560.5 390.6,562.3 392,566.3 379,566.6 379.7,565.1 390.6,562.3 400.1,563.6 392,566.3 405.4,567.4 M418.7,552.1 429.4,553.2 441.6,551.1 448.3,552.4 458.5,551.4 442.9,549.4 441.6,551.1 431.8,547.9 442.9,549.4 453.4,548.4 447.6,546.3 431.8,547.9 421.3,548.3 418.7,552.1 413.6,552.2 395.9,550.8 385.5,548.5 387.7,552.5 379.4,550.5 382.9,554.2 371.3,553.8 378.1,557.2 M324.5,512.2 317.6,509.9 328.4,510.4 325.5,507.7 333.4,505.4 341.2,508 346.1,512.8 331.5,513.8 322.4,514.8 308.6,516.2 301.9,514.3 294.1,516.5 286.3,518.7 283.5,522.6 278.6,520.8 270.8,523 263.2,525.2 255.5,527.3 264.3,528.8 274.1,531 277.2,534.9 284.2,537.1 291.6,535 285.6,532.3 302.2,533.4 309.4,533.8 300.3,536.8 312.9,537.6 320,537.1 309.4,533.8 312.9,537.6 317.8,542.7 322.6,544.9 321.5,549.3 319.1,552.1 318.2,553.6 327.7,556.1 338.3,558.4 334.3,564.4 348.7,563.9 349.1,566.2 342,569.2 322.3,567.4 321.1,568.9 327.8,570.7 M148,589.4 130.2,590.7 M408.1,549.3 421.3,548.3 424.5,546.5 431.8,547.9 429.9,542.4 424.5,546.5 413.4,547.2 M135.6,585.8 128.6,589.3 148,589.4 149.2,592.1 137.9,593.3 145.6,595.9 M388.1,546.7 385.5,548.5 379.4,550.5 371.3,553.8 364.9,556.2 357.6,557.3 360.8,560.7 346,563 334.3,564.4 322.3,567.4 316.3,567.3 307.3,569.6 301.8,574.6 314.6,572.5 307.3,569.6 321.1,568.9 M387.2,582.2 370.7,581.8 379.7,584.5 M228.7,597.8 214.2,595.7 218.1,593.9 231,594.5 230,591.5 219.7,588.5 237.9,588 M255.5,527.3 247.9,529.5 254.5,532.4 245.9,534.5 240.3,531.6 232.8,533.7 237.1,536.2 225.3,535.8 226.2,540 217.8,537.9 210.4,540 210.6,543.9 213.6,547.3 222.7,551.6 226,556.1 227.1,559.6 237.8,563.1 249.4,566.3 252,569.7 253.9,573.2 259.9,577.1 269.5,580.5 269.3,576.2 259.9,577.1 251.4,575.9 253.9,573.2 239.5,572.1 251.4,575.9 233,574.6 228.8,576.3 219,578.4 209.4,575 207,577.7 M264.3,528.8 247.9,529.5 240.3,531.6 254.5,532.4 258.2,536.8 266.3,537.8 256.1,540 256.9,544 244.1,543 232.2,541.2 233.6,544.6 235,546.5 236.4,550 237.3,554.6 241.1,557.4 251.9,561.5 251.8,565.5 259.6,567.9 264.2,572.4 259.9,577.1 M370,541.5 372,544.1 378.6,544.6 378.1,548.3 379.4,550.5 367.9,550.4 371.3,553.8 355.3,554.8 357.6,557.3 366.6,560.1 M360.8,540.1 359.9,543.4 369,547.5 367.9,550.4 356.7,551.7 371.3,553.8 M363.3,585.7 370.7,581.8 351.7,582.1 354.8,586.3 M346.1,512.8 356.6,513.2 348.9,510.6 346.1,512.8 328.4,510.4 331.5,513.8 324.5,512.2 322.4,514.8 309.7,512.1 324.5,512.2 328.4,510.4 341.2,508 M400.3,559.7 390.6,562.3 M339.8,538.4 327.6,538.9 329.4,541.6 331.8,545.3 336.2,551.7 327.7,556.1 322.7,557.7 317.8,561.5 327.1,560.4 338.3,558.4 346,563 346.9,560.1 338.3,558.4 347.2,556.5 357.6,557.3 346.9,560.1 M209.4,575 201.2,577.7 193.3,577.5 180.6,575.8 176.5,578.7 171,575.8 180.6,575.8 189.4,573.8 193.3,577.5 M131.4,562.2 131.3,565 146.2,567.7 149.4,572.4 154,576.2 160.1,573.6 162.6,575.6 171,575.8 177.3,571.9 180.6,575.8 M144.1,563.2 152.2,564.3 155,566.3 153.7,571.4 160.1,573.6 171,575.8 166.5,570.7 177.3,571.9 189.4,573.8 201.2,577.7 M196.3,571.7 209.4,575 219.6,576.4 228.8,576.3 222,572.7 233,574.6 239.5,572.1 252,569.7 264.2,572.4 269.3,576.2 276.5,575.8 286.9,574.3 291.5,573.2 301.8,574.6 M247.6,600.6 246.3,604.7 263,602.4 260.7,607.2 270.7,604.6 281,606.7 288.5,603.9 277,602.4 270.7,604.6 263,602.4 250,598.3 247.6,600.6 242.8,595.8 236.9,600.6 239.7,604.6 229,604.7 224.6,603.8 214.3,602.9 218.6,599.1 224.6,603.8 226.8,607.5 215.6,605.3 212.9,607.6 199.8,605.3 215.6,605.3 224.6,603.8 230.1,602.4 228.7,597.8 218.6,599.1 214.2,595.7 210.6,598.3 214.3,602.9 203.4,602.8 215.6,605.3 M242.8,595.8 228.7,597.8 218.1,593.9 209.7,592.2 214.2,595.7 202.8,594.7 195,593.7 196.7,595.5 187.1,595.6 187.4,599 182.8,601.9 190,603.9 183.3,605.5 M365.7,528.4 349.8,527.9 340.8,524.9 339.1,521.9 351.2,524.1 340.8,524.9 335.6,528.1 318.2,527.2 324.3,530.2 313.2,532.6 328.2,532.4 344,535.3 350.3,535.7 360.8,540.1 370,541.5 378.6,544.6 369,547.5 378.1,548.3 385.5,548.5 389.8,547.9 395.9,550.8 408.1,549.3 389.8,547.9 388.1,546.7 378.1,548.3 367.9,550.4 354.8,550.2 356.7,551.7 355.3,554.8 364.9,556.2 M218.1,593.9 218,591.9 219.7,588.5 205.5,590.7 209.7,592.2 197.2,591.7 205.5,590.7 M294.7,528.8 299.1,527.5 304.1,531.2 313.2,532.6 320,537.1 327.6,538.9 335.7,540.5 336.6,543.9 344.9,546.8 348.9,552.2 347.2,556.5 355.3,554.8 348.9,552.2 356.7,551.7 M225.3,535.8 237.2,538.7 226.2,540 232.2,541.2 218,541.6 210.6,543.9 203.3,548.2 213.6,547.3 227.5,550.2 231,553.6 232.7,556.9 241.7,560.2 237.8,563.1 236.5,565.1 234,569.3 239.5,572.1 235,571 225.2,570.3 233,574.6 M343.2,552.6 327.7,556.1 316,556.8 318.2,553.6 329.8,552.1 336.2,551.7 343.2,552.6 348.9,552.2 354.8,550.2 344.9,546.8 336.2,551.7 321.5,549.3 308.3,550.2 319.1,552.1 311.5,552.9 318.2,553.6 M285.3,529.8 294.7,528.8 302.2,533.4 300.3,536.8 284.2,537.1 288.3,540.7 296.3,544.1 297.9,546.5 313.2,546.8 322.6,544.9 331.8,545.3 344.9,546.8 353.6,545 354.8,550.2 369,547.5 353.6,545 359.9,543.4 372,544.1 369,547.5 M329.8,552.1 319.1,552.1 M321.5,549.3 331.8,545.3 336.6,543.9 343.9,541.8 353.6,545 M341.9,591.8 340.3,589 350.7,589.5 349.4,585 351.7,582.1 M392.4,527.9 399.8,530.7 394.3,533.7 406.9,535.9 413.4,538.5 401.1,538 391.1,538.7 394,542 391,545.4 389.8,547.9 400.4,545.4 409,544.5 424.5,546.5 423.1,542.9 409,544.5 404.5,541.9 400.4,545.4 391,545.4 388.1,546.7 378.6,544.6 391,545.4 M218,541.6 226.2,540 M308.3,550.2 293.3,549.9 298.1,554.8 300.8,551.7 293.3,549.9 286.2,554.7 277.7,555.1 259.7,554.8 260,559 262.4,562.6 259.6,567.9 267.5,569 274.8,573.7 276.5,575.8 M402.3,577.5 394.8,575.9 M387.5,523.6 379.7,521 381.1,525 370.9,522.2 369.1,524.4 358.5,523 359.5,526.1 369.1,524.4 381.1,525 373.4,528.3 387.9,529.4 392.4,527.9 402.9,528.8 410.6,531.4 406.5,531.4 394.3,533.7 383.8,531.8 379.4,534.2 385.9,538 375.4,539.6 378.6,544.6 394,542 404.5,541.9 423.1,542.9 429.9,542.4 447.6,546.3 431.6,542.1 441.5,541.7 M256.1,540 244.1,543 243,545.4 233.6,544.6 221.3,545.8 227.5,550.2 236.4,550 247.3,553 241.1,557.4 241.7,560.2 251.9,561.5 262.4,562.6 269,566.8 267.5,569 264.2,572.4 253.9,573.2 M240.5,539 232.2,541.2 237.2,538.7 240.5,539 253.7,538.1 256.1,540 268.9,540.1 272.3,542.2 M439.3,561.2 448.5,564.6 432.9,564.7 432.9,568.6 414.2,568.1 425.2,570.8 417.5,572.9 409.9,575.2 M303.7,603.4 301.8,600.6 292.1,600.7 288.5,603.9 282.2,599.7 269.4,598.5 279.5,595 273.7,593.3 269.4,598.5 M301.8,600.6 299.6,594.7 292.1,592.1 290.8,594.5 279.5,595 282.2,599.7 277,602.4 265.7,600.8 250,598.3 247.9,595.1 258.4,593.6 260.2,590.2 269.7,588.9 273.7,593.3 292.1,592.1 303,589.2 303.5,592.6 292.1,592.1 279.5,595 292.7,598.1 282.2,599.7 292.1,600.7 M272,528.1 279.5,524.5 285.6,526.2 293.3,524.9 M355.2,534.1 364.8,533.3 364.6,537.1 355.2,534.1 350.3,535.7 345.6,534.1 355.2,534.1 356.9,532.8 364.8,533.3 370.5,535.1 374.9,532.1 383.8,531.8 387.9,529.4 394.3,533.7 401.1,538 406.9,535.9 418.3,534 426.1,536.6 433.8,539.1 424.5,541 429.9,542.4 431.6,542.1 424.5,541 423.1,542.9 413.4,538.5 424.5,541 424.7,537.2 406.9,535.9 406.5,531.4 399.8,530.7 402.9,528.8 406.5,531.4 418.3,534 424.7,537.2 433.8,539.1 M273.7,593.3 281.9,588.5 292.1,592.1 290,586.5 281.9,588.5 269.7,588.9 282.4,586.2 281.9,588.5 M299.1,527.5 310,524.6 310.1,529.4 313.2,532.6 309.4,533.8 304.1,531.2 294.7,528.8 285.6,526.2 283.5,522.6 M343.9,541.8 359.9,543.4 370,541.5 375.4,539.6 360.8,540.1 343.9,541.8 335.7,540.5 329.4,541.6 336.6,543.9 M383.8,531.8 373.4,528.3 374.9,532.1 379.4,534.2 394.3,533.7 390.4,537.4 M210.9,609.5 221.8,613.4 231.2,613.9 M292.1,592.1 298.3,587.3 290,586.5 M196.9,608.7 210.9,609.5 212.9,607.6 222.2,608.7 232.3,612.3 M410.6,531.4 418.3,534 M111.4,577.9 113,575 120.2,578 121.5,573.2 128.3,577.6 M399.8,530.7 387.9,529.4 381.1,525 395.2,526.2 402.9,528.8 M337.1,584.2 330.5,586.6 318.4,582.1 314.1,586.3 306.7,584.6 305.7,586.5 314.1,586.3 311.6,589.6 303,589.2 305.7,586.5 311.6,589.6 M359.5,526.1 365.7,528.4 374.9,532.1 364.8,533.3 365.7,528.4 356.9,532.8 345.6,534.1 344,535.3 339.8,538.4 335.7,540.5 M331.5,581.9 330.5,586.6 340.3,589 M165.4,568 166.5,570.7 160.1,573.6 149.4,572.4 140.5,573.2 134.7,571.2 149.4,572.4 153.7,571.4 166.5,570.7 175.7,569.7 177.3,571.9 186.8,570.7 189.4,573.8 196.3,571.7 186.8,570.7 175.7,569.7 165.4,568 153.7,571.4 146.2,567.7 134.7,571.2 128.2,570.8 121.5,573.2 136.8,576 M159.6,554.3 160.3,557.2 163.8,562.5 155,566.3 165.4,568 167.7,567.2 175.7,569.7 174.8,567.4 186.8,570.7 191.5,570 196.3,571.7 208.2,569.8 209.4,575 216.1,572 222,572.7 219.6,576.4 M155,566.3 167.7,567.2 174.8,567.4 191.5,570 202.3,569 208.2,569.8 216.1,572 225.2,570.3 222,572.7 M432.9,568.6 427.4,565.3 M440.7,566.5 448.5,564.6 449.5,561.3 456.3,562.9 455.5,560.3 464.1,561.4 456.3,562.9 448.5,564.6 M157.7,583 168,582.5 176.5,578.7 178.6,581.4 M121.5,573.2 113,575 112.7,573 107.8,574.8 113,575 M128.2,570.8 112.7,570.2 121.5,573.2 112.7,573 112.7,570.2 127.5,569.5 134.7,571.2 M235,571 234,569.3 252,569.7 259.6,567.9 249.4,566.3 234,569.3 230.5,568.7 225.2,570.3 217.5,567.1 208.2,569.8 202.1,564.4 202.3,569 M197.7,565.5 191.5,570 188.6,564.4 197.7,565.5 202.1,564.4 217.5,567.1 230.5,568.7 236.5,565.1 249.4,566.3 251.8,565.5 262.4,562.6 273.6,562.8 278.7,565.8 274.2,568.6 274.8,573.7 269.3,576.2 M296,563.9 279.3,563.3 296.5,564.7 299.4,567.3 307.3,569.6 297.4,571.2 291.5,573.2 280.4,573 286.9,574.3 M151.2,559.9 152.2,564.3 142.6,564.8 146.2,567.7 155,566.3 142.6,564.8 131.3,565 127.5,569.5 117.6,566 131.3,565 124.5,564.1 131.4,562.2 142.6,564.8 144.1,563.2 151.2,559.9 163.8,562.5 175.2,563.7 174.8,567.4 188.6,564.4 195.2,562.3 202.1,564.4 212.1,563.2 219.4,564.1 217.5,567.1 M107.8,574.8 96.6,575.1 91.6,577.7 M264.2,572.4 274.8,573.7 280.4,573 274.2,568.6 267.5,569 M303,589.2 298.3,587.3 305.7,586.5 M219.4,564.1 230.2,563.7 230.5,568.7 M202.3,561.4 202.1,564.4 M152.2,564.3 163.8,562.5 167.7,567.2 175.2,563.7 188.6,564.4 182.7,560.5 195.2,562.3 202.3,561.4 212.1,563.2 221.9,561.2 230.2,563.7 236.5,565.1 M316,556.8 303.7,559.7 317.8,561.5 309,562.9 299,560.4 286.1,559.3 277.5,559.9 273.6,562.8 269,566.8 259.6,567.9 M145.4,558.3 138.4,560.2 151.2,559.9 160.3,557.2 165.8,556.9 163.8,562.5 175.9,560.2 175.2,563.7 182.7,560.5 190.2,558.2 182,557.8 182.7,560.5 175.9,560.2 182,557.8 185.9,557.3 193.3,554.3 199.1,558.7 195.2,562.3 M297.4,571.2 289.3,569.8 274.2,568.6 269,566.8 278.7,565.8 296.5,564.7 309,562.9 316.3,567.3 299.4,567.3 289.3,569.8 M417.5,572.9 414,571.1 425.2,570.8 432.9,568.6 440.7,566.5 432.9,564.7 M426.1,536.6 424.7,537.2 413.4,538.5 404.5,541.9 391.1,538.7 387.2,540.3 378.6,544.6 M270.8,523 272,528.1 285.3,529.8 285.6,526.2 272,528.1 263.2,525.2 264.3,528.8 266.4,533.6 254.5,532.4 264.3,528.8 272,528.1 274.1,531 285.3,529.8 285.6,532.3 277.2,534.9 291.6,535 300.3,536.8 M331.1,588.5 330.5,586.6 320.4,587.6 314.1,586.3 M193.3,554.3 208.8,555.5 214.4,557.8 227.1,559.6 230.2,563.7 237.8,563.1 251.8,565.5 M375.4,539.6 387.2,540.3 M269.2,561.5 273.6,562.8 279.3,563.3 277.5,559.9 269.2,561.5 262.4,562.6 M181.5,554.3 182,557.8 172,555.4 175.9,560.2 165.8,556.9 172,555.4 181.5,554.3 185.9,557.3 190.2,558.2 199.1,558.7 202.3,561.4 207.6,559.6 221.9,561.2 227.1,559.6 241.7,560.2 M260,559 269.2,561.5 268.5,556.8 260,559 251.9,561.5 237.8,563.1 M241.1,557.4 260,559 255,555.5 259.7,554.8 268.5,556.8 277.5,559.9 278.8,555.9 289.6,557.5 303.7,559.7 299,560.4 M195.7,544.1 188.4,546.2 181.1,548.2 173.9,550.3 166.7,552.3 172,555.4 159.6,554.3 165.8,556.9 M193.6,548.6 206.9,551.7 205.4,552.5 213.8,554 226,556.1 232.7,556.9 241.1,557.4 255,555.5 247.3,553 259.7,554.8 259.7,550.6 247.3,553 237.3,554.6 232.7,556.9 227.1,559.6 M390.2,570.3 385.5,568.5 378.2,571.8 M237.1,536.2 240.5,539 245.9,534.5 253.7,538.1 258.2,536.8 245.9,534.5 237.1,536.2 237.2,538.7 M160.3,557.2 152.5,556.3 151.2,559.9 145.4,558.3 152.5,556.3 159.6,554.3 166.7,552.3 181.5,554.3 193.3,554.3 205.4,552.5 187.8,551.8 181.5,554.3 173.9,550.3 187.8,551.8 181.1,548.2 193.6,548.6 188.4,546.2 M342.7,596 335.5,598.3 328.3,600.6 M309.7,512.1 301.9,514.3 300.3,517.8 294.1,516.5 292.2,519.7 286.3,518.7 278.6,520.8 M259.7,554.8 269,550 277.7,555.1 268.5,556.8 278.8,555.9 286.2,554.7 282.2,552.9 285.5,550.5 271.3,549.7 269,550 282.2,552.9 M247.3,553 244.6,548.2 259.7,550.6 269,550 262.9,548 271.3,549.7 280.7,546.9 285.5,550.5 293.3,549.9 280.7,546.9 269.2,544.9 262.9,548 259.7,550.6 254.7,546.9 244.6,548.2 236.4,550 231,553.6 226,556.1 214.4,557.8 207.6,559.6 199.1,558.7 208.8,555.5 213.8,554 222.7,551.6 231,553.6 237.3,554.6 M360.8,560.7 348.7,563.9 346,563 M291.6,535 302.2,533.4 304.1,531.2 310.1,529.4 324.3,530.2 328.2,532.4 332.2,536.9 320,537.1 328.2,532.4 334.3,531.5 345.6,534.1 343.9,528.1 349.8,527.9 356.9,532.8 343.9,528.1 334.3,531.5 344,535.3 332.2,536.9 327.6,538.9 M327.7,556.1 347.2,556.5 M254.7,546.9 262.9,548 256.9,544 269.2,544.9 283.2,543.9 280.7,546.9 291.5,546.1 293.3,549.9 297.9,546.5 291.5,546.1 283.2,543.9 296.3,544.1 307.8,544.6 317.8,542.7 329.4,541.6 322.6,544.9 M291.5,546.1 296.3,544.1 297.5,539.6 284.2,537.1 268.3,537 268.9,540.1 M369.1,524.4 365.7,528.4 373.4,528.3 369.1,524.4 M381.1,525 392.4,527.9 395.2,526.2 387.5,523.6 381.1,525 M131.4,562.2 144.1,563.2 138.4,560.2 131.4,562.2 M243,545.4 244.6,548.2 235,546.5 227.5,550.2 222.7,551.6 206.9,551.7 213.6,547.3 221.3,545.8 235,546.5 243,545.4 254.7,546.9 256.9,544 243,545.4 M343.9,528.1 335.6,528.1 334.3,531.5 324.3,530.2 335.6,528.1 331.4,524.7 340.8,524.9 343.9,528.1 M349.8,527.9 359.5,526.1 351.2,524.1 349.8,527.9" fill="none" stroke="#000" stroke-width="0.38" stroke-opacity="0.8" stroke-linejoin="round"/>
<path d="M83.9,575.1 238.2,627 238.2,756.6 83.9,704.7Z M238.2,627 261.1,621.5 284.4,614.5 308.3,606.9 332.6,599.2 357.4,591.4 382.7,583.6 408.4,575.6 434.5,568.2 461,562 487.8,557.3 487.8,557.3 494.1,572.3 499.1,587.5 503.1,602.9 506.8,618.3 510.4,633.8 514.5,649.2 519.5,664.4 525.8,679.4 525.8,679.4 498.7,684.1 471.3,690.5 443.6,698.2 415.6,706.7 387.1,715.2 358.2,723.7 328.9,732.4 299.1,741.1 268.9,749.5 238.2,756.6 M83.9,575.1 83.9,575.1 106.7,569 130,562.5 153.9,555.9 178.2,549.1 203,542.1 228.3,535 254,527.7 280.1,520.4 306.6,513 333.4,505.4 487.8,557.3" fill="none" stroke="#000" stroke-width="0.5" stroke-opacity="0.7" stroke-linejoin="round"/>
<rect x="642.1" y="462.3" width="14.2" height="327.7" fill="url(#parula)"/>
<path d="M642.1,790 V462.3 H656.3 V790" fill="none" stroke="#262626" stroke-width="0.7"/>
<path d="M656.3,753.7 h-3 M656.3,718.1 h-3 M656.3,682.4 h-3 M656.3,646.7 h-3 M656.3,611 h-3 M656.3,575.4 h-3 M656.3,539.7 h-3 M656.3,504 h-3 M656.3,468.4 h-3" stroke="#262626" stroke-width="0.7" fill="none"/>
<g font-size="9.8" fill="#262626"><text x="658.9" y="792.7">0</text><text x="658.9" y="757">0.005</text><text x="658.9" y="721.4">0.01</text><text x="658.9" y="685.7">0.015</text><text x="658.9" y="650">0.02</text><text x="658.9" y="614.3">0.025</text><text x="658.9" y="578.7">0.03</text><text x="658.9" y="543">0.035</text><text x="658.9" y="507.3">0.04</text><text x="658.9" y="471.7">0.045</text></g>
<clipPath id="clipb"><rect x="0" y="442.3" width="641.3" height="387.7"/></clipPath>
<text x="338.9" y="861.2" style="font-family:'Liberation Serif','Times New Roman',serif" font-weight="bold" font-size="35" fill="#000">b</text>
</g>
<g id="plot-c">
<path d="M620.7,1187.5 L300.7,1251 L55.6,1168.4" fill="none" stroke="#262626" stroke-width="0.55" stroke-opacity="0.8"/>
<path d="M300.7,1251 L306.8,1253 M354,1240.4 L360.1,1242.5 M407.4,1229.8 L413.4,1231.9 M460.7,1219.2 L466.8,1221.3 M514,1208.7 L520.1,1210.7 M567.4,1198.1 L573.4,1200.1 M620.7,1187.5 L626.8,1189.5 M300.7,1251 L295.3,1252.1 M239.4,1230.3 L234,1231.4 M178.1,1209.7 L172.8,1210.8 M116.9,1189 L111.5,1190.1 M55.6,1168.4 L50.2,1169.5 M55.6,1168.4 L48,1165.8 M55.6,1143.1 L48,1140.5 M55.6,1117.7 L48,1115.1 M55.6,1092.4 L48,1089.8 M55.6,1067 L48,1064.4 M55.6,1041.7 L48,1039.1 M55.6,1016.3 L48,1013.7 M55.6,991 L48,988.4" fill="none" stroke="#262626" stroke-width="0.5" stroke-opacity="0.7"/>
<g font-size="10.9" fill="#262626"><text x="310.7" y="1266.4">0</text><text x="364" y="1255.8">0.05</text><text x="417.4" y="1245.2">0.1</text><text x="470.7" y="1234.6">0.15</text><text x="524" y="1224.1">0.2</text><text x="577.4" y="1213.5">0.25</text><text x="630.7" y="1202.9" clip-path="url(#clipc)">0.3</text></g>
<g font-size="10.9" fill="#262626" text-anchor="end"><text x="289.2" y="1264.4">-0.1</text><text x="227.9" y="1243.8">0</text><text x="166.6" y="1223.1">0.1</text><text x="105.4" y="1202.5">0.2</text><text x="44.1" y="1181.8">0.3</text><text x="44.6" y="1169.1">-0.15</text><text x="44.6" y="1143.8">-0.1</text><text x="44.6" y="1118.4">-0.05</text><text x="44.6" y="1093.1">0</text><text x="44.6" y="1067.7">0.05</text><text x="44.6" y="1042.4">0.1</text><text x="44.6" y="1017">0.15</text><text x="44.6" y="991.7">0.2</text></g>
<g font-size="10.5" font-weight="bold" fill="#262626">
<text x="423" y="1268">x (m)</text>
<text x="173.7" y="1264">y (m)</text>
<text transform="translate(14.5,1080.3) rotate(-90)" text-anchor="middle">z (m)</text>
</g>
<text x="337.5" y="925.1" font-size="10.7" font-weight="bold" text-anchor="middle" fill="#000">3D FEM solution</text>
<polygon points="86.2,1039.3 239.4,1090.9 239.4,1217.7 86.2,1166" fill="#352a87"/>
<g stroke-width="0.6" stroke-linejoin="round"><polygon points="239.4,1090.9 249.6,1088.6 249.9,1096.4 239.4,1098.8" fill="#352d8c" stroke="#352d8c"/><polygon points="239.4,1098.8 249.9,1096.4 250.2,1104.3 239.4,1106.8" fill="#352d8d" stroke="#352d8d"/><polygon points="239.4,1106.8 250.2,1104.3 250.5,1112.2 239.4,1114.7" fill="#352d8d" stroke="#352d8d"/><polygon points="239.4,1114.7 250.5,1112.2 250.7,1120 239.4,1122.6" fill="#352d8d" stroke="#352d8d"/><polygon points="239.4,1122.6 250.7,1120 250.9,1127.9 239.4,1130.5" fill="#352d8d" stroke="#352d8d"/><polygon points="239.4,1130.5 250.9,1127.9 251.1,1135.8 239.4,1138.5" fill="#352d8d" stroke="#352d8d"/><polygon points="239.4,1138.5 251.1,1135.8 251.3,1143.7 239.4,1146.4" fill="#352d8d" stroke="#352d8d"/><polygon points="239.4,1146.4 251.3,1143.7 251.5,1151.6 239.4,1154.3" fill="#352d8d" stroke="#352d8d"/><polygon points="239.4,1154.3 251.5,1151.6 251.6,1159.5 239.4,1162.2" fill="#352d8d" stroke="#352d8d"/><polygon points="239.4,1162.2 251.6,1159.5 251.8,1167.4 239.4,1170.1" fill="#352d8d" stroke="#352d8d"/><polygon points="239.4,1170.1 251.8,1167.4 252,1175.2 239.4,1178.1" fill="#352d8d" stroke="#352d8d"/><polygon points="239.4,1178.1 252,1175.2 252.2,1183.1 239.4,1186" fill="#352d8d" stroke="#352d8d"/><polygon points="239.4,1186 252.2,1183.1 252.4,1191 239.4,1193.9" fill="#352d8d" stroke="#352d8d"/><polygon points="239.4,1193.9 252.4,1191 252.7,1198.9 239.4,1201.8" fill="#362d8d" stroke="#362d8d"/><polygon points="239.4,1201.8 252.7,1198.9 253,1206.7 239.4,1209.8" fill="#362d8d" stroke="#362d8d"/><polygon points="239.4,1209.8 253,1206.7 253.4,1214.6 239.4,1217.7" fill="#362e8e" stroke="#362e8e"/><polygon points="249.6,1088.6 259.8,1086 260.5,1093.8 249.9,1096.4" fill="#36349b" stroke="#36349b"/><polygon points="249.9,1096.4 260.5,1093.8 261.1,1101.6 250.2,1104.3" fill="#36349a" stroke="#36349a"/><polygon points="250.2,1104.3 261.1,1101.6 261.6,1109.4 250.5,1112.2" fill="#36349a" stroke="#36349a"/><polygon points="250.5,1112.2 261.6,1109.4 262.1,1117.2 250.7,1120" fill="#36349a" stroke="#36349a"/><polygon points="250.7,1120 262.1,1117.2 262.5,1125.1 250.9,1127.9" fill="#36349a" stroke="#36349a"/><polygon points="250.9,1127.9 262.5,1125.1 262.8,1132.9 251.1,1135.8" fill="#36349a" stroke="#36349a"/><polygon points="251.1,1135.8 262.8,1132.9 263.2,1140.8 251.3,1143.7" fill="#36349a" stroke="#36349a"/><polygon points="251.3,1143.7 263.2,1140.8 263.5,1148.6 251.5,1151.6" fill="#36349a" stroke="#36349a"/><polygon points="251.5,1151.6 263.5,1148.6 263.8,1156.5 251.6,1159.5" fill="#36349a" stroke="#36349a"/><polygon points="251.6,1159.5 263.8,1156.5 264.2,1164.4 251.8,1167.4" fill="#36349a" stroke="#36349a"/><polygon points="251.8,1167.4 264.2,1164.4 264.5,1172.2 252,1175.2" fill="#36349a" stroke="#36349a"/><polygon points="252,1175.2 264.5,1172.2 264.9,1180.1 252.2,1183.1" fill="#36349a" stroke="#36349a"/><polygon points="252.2,1183.1 264.9,1180.1 265.4,1187.9 252.4,1191" fill="#36349a" stroke="#36349a"/><polygon points="252.4,1191 265.4,1187.9 265.9,1195.7 252.7,1198.9" fill="#36349b" stroke="#36349b"/><polygon points="252.7,1198.9 265.9,1195.7 266.5,1203.5 253,1206.7" fill="#36349c" stroke="#36349c"/><polygon points="253,1206.7 266.5,1203.5 267.2,1211.3 253.4,1214.6" fill="#36359d" stroke="#36359d"/><polygon points="259.8,1086 270.2,1083.1 271.2,1090.9 260.5,1093.8" fill="#353dad" stroke="#353dad"/><polygon points="260.5,1093.8 271.2,1090.9 272,1098.6 261.1,1101.6" fill="#353cab" stroke="#353cab"/><polygon points="261.1,1101.6 272,1098.6 272.8,1106.4 261.6,1109.4" fill="#353cab" stroke="#353cab"/><polygon points="261.6,1109.4 272.8,1106.4 273.5,1114.2 262.1,1117.2" fill="#353caa" stroke="#353caa"/><polygon points="262.1,1117.2 273.5,1114.2 274,1122 262.5,1125.1" fill="#353baa" stroke="#353baa"/><polygon points="262.5,1125.1 274,1122 274.6,1129.8 262.8,1132.9" fill="#353baa" stroke="#353baa"/><polygon points="262.8,1132.9 274.6,1129.8 275.1,1137.6 263.2,1140.8" fill="#353baa" stroke="#353baa"/><polygon points="263.2,1140.8 275.1,1137.6 275.5,1145.5 263.5,1148.6" fill="#353baa" stroke="#353baa"/><polygon points="263.5,1148.6 275.5,1145.5 276,1153.3 263.8,1156.5" fill="#353baa" stroke="#353baa"/><polygon points="263.8,1156.5 276,1153.3 276.5,1161.1 264.2,1164.4" fill="#353baa" stroke="#353baa"/><polygon points="264.2,1164.4 276.5,1161.1 277,1168.9 264.5,1172.2" fill="#353baa" stroke="#353baa"/><polygon points="264.5,1172.2 277,1168.9 277.6,1176.7 264.9,1180.1" fill="#353baa" stroke="#353baa"/><polygon points="264.9,1180.1 277.6,1176.7 278.3,1184.5 265.4,1187.9" fill="#353caa" stroke="#353caa"/><polygon points="265.4,1187.9 278.3,1184.5 279,1192.3 265.9,1195.7" fill="#353cab" stroke="#353cab"/><polygon points="265.9,1195.7 279,1192.3 279.9,1200 266.5,1203.5" fill="#353dac" stroke="#353dac"/><polygon points="266.5,1203.5 279.9,1200 280.9,1207.8 267.2,1211.3" fill="#353eae" stroke="#353eae"/><polygon points="270.2,1083.1 280.6,1079.9 281.9,1087.6 271.2,1090.9" fill="#2c4ac6" stroke="#2c4ac6"/><polygon points="271.2,1090.9 281.9,1087.6 283.1,1095.3 272,1098.6" fill="#2e47c1" stroke="#2e47c1"/><polygon points="272,1098.6 283.1,1095.3 284,1103 272.8,1106.4" fill="#3046be" stroke="#3046be"/><polygon points="272.8,1106.4 284,1103 284.9,1110.7 273.5,1114.2" fill="#3045bd" stroke="#3045bd"/><polygon points="273.5,1114.2 284.9,1110.7 285.7,1118.5 274,1122" fill="#3145bc" stroke="#3145bc"/><polygon points="274,1122 285.7,1118.5 286.3,1126.3 274.6,1129.8" fill="#3144bb" stroke="#3144bb"/><polygon points="274.6,1129.8 286.3,1126.3 287,1134.1 275.1,1137.6" fill="#3144bb" stroke="#3144bb"/><polygon points="275.1,1137.6 287,1134.1 287.6,1141.9 275.5,1145.5" fill="#3144bb" stroke="#3144bb"/><polygon points="275.5,1145.5 287.6,1141.9 288.2,1149.7 276,1153.3" fill="#3144bb" stroke="#3144bb"/><polygon points="276,1153.3 288.2,1149.7 288.8,1157.5 276.5,1161.1" fill="#3144bb" stroke="#3144bb"/><polygon points="276.5,1161.1 288.8,1157.5 289.5,1165.3 277,1168.9" fill="#3144bb" stroke="#3144bb"/><polygon points="277,1168.9 289.5,1165.3 290.3,1173 277.6,1176.7" fill="#3145bc" stroke="#3145bc"/><polygon points="277.6,1176.7 290.3,1173 291.1,1180.8 278.3,1184.5" fill="#3145bc" stroke="#3145bc"/><polygon points="278.3,1184.5 291.1,1180.8 292.1,1188.5 279,1192.3" fill="#3045bd" stroke="#3045bd"/><polygon points="279,1192.3 292.1,1188.5 293.2,1196.2 279.9,1200" fill="#2f46bf" stroke="#2f46bf"/><polygon points="279.9,1200 293.2,1196.2 294.5,1203.9 280.9,1207.8" fill="#2e48c2" stroke="#2e48c2"/><polygon points="280.6,1079.9 291.2,1076.5 292.8,1084.1 281.9,1087.6" fill="#0e5cde" stroke="#0e5cde"/><polygon points="281.9,1087.6 292.8,1084.1 294.1,1091.7 283.1,1095.3" fill="#1857d8" stroke="#1857d8"/><polygon points="283.1,1095.3 294.1,1091.7 295.3,1099.4 284,1103" fill="#1e54d5" stroke="#1e54d5"/><polygon points="284,1103 295.3,1099.4 296.4,1107.1 284.9,1110.7" fill="#2152d2" stroke="#2152d2"/><polygon points="284.9,1110.7 296.4,1107.1 297.3,1114.9 285.7,1118.5" fill="#2251d1" stroke="#2251d1"/><polygon points="285.7,1118.5 297.3,1114.9 298.1,1122.6 286.3,1126.3" fill="#2350d0" stroke="#2350d0"/><polygon points="286.3,1126.3 298.1,1122.6 298.9,1130.4 287,1134.1" fill="#2350d0" stroke="#2350d0"/><polygon points="287,1134.1 298.9,1130.4 299.6,1138.2 287.6,1141.9" fill="#2350d0" stroke="#2350d0"/><polygon points="287.6,1141.9 299.6,1138.2 300.4,1145.9 288.2,1149.7" fill="#2350d0" stroke="#2350d0"/><polygon points="288.2,1149.7 300.4,1145.9 301.2,1153.7 288.8,1157.5" fill="#2350d0" stroke="#2350d0"/><polygon points="288.8,1157.5 301.2,1153.7 302,1161.5 289.5,1165.3" fill="#2350d0" stroke="#2350d0"/><polygon points="289.5,1165.3 302,1161.5 302.9,1169.2 290.3,1173" fill="#2351d0" stroke="#2351d0"/><polygon points="290.3,1173 302.9,1169.2 303.9,1176.9 291.1,1180.8" fill="#2251d1" stroke="#2251d1"/><polygon points="291.1,1180.8 303.9,1176.9 305.1,1184.6 292.1,1188.5" fill="#2152d3" stroke="#2152d3"/><polygon points="292.1,1188.5 305.1,1184.6 306.5,1192.3 293.2,1196.2" fill="#1e53d5" stroke="#1e53d5"/><polygon points="293.2,1196.2 306.5,1192.3 308.1,1199.9 294.5,1203.9" fill="#1a56d7" stroke="#1a56d7"/><polygon points="291.2,1076.5 301.9,1073.1 303.7,1080.7 292.8,1084.1" fill="#026ae1" stroke="#026ae1"/><polygon points="292.8,1084.1 303.7,1080.7 305.3,1088.3 294.1,1091.7" fill="#0266e1" stroke="#0266e1"/><polygon points="294.1,1091.7 305.3,1088.3 306.7,1095.9 295.3,1099.4" fill="#0363e1" stroke="#0363e1"/><polygon points="295.3,1099.4 306.7,1095.9 307.9,1103.6 296.4,1107.1" fill="#0661e0" stroke="#0661e0"/><polygon points="296.4,1107.1 307.9,1103.6 309,1111.3 297.3,1114.9" fill="#0760e0" stroke="#0760e0"/><polygon points="297.3,1114.9 309,1111.3 309.9,1119 298.1,1122.6" fill="#0860df" stroke="#0860df"/><polygon points="298.1,1122.6 309.9,1119 310.8,1126.8 298.9,1130.4" fill="#0860df" stroke="#0860df"/><polygon points="298.9,1130.4 310.8,1126.8 311.7,1134.5 299.6,1138.2" fill="#0860df" stroke="#0860df"/><polygon points="299.6,1138.2 311.7,1134.5 312.6,1142.3 300.4,1145.9" fill="#0860df" stroke="#0860df"/><polygon points="300.4,1145.9 312.6,1142.3 313.5,1150 301.2,1153.7" fill="#0860df" stroke="#0860df"/><polygon points="301.2,1153.7 313.5,1150 314.4,1157.8 302,1161.5" fill="#0860df" stroke="#0860df"/><polygon points="302,1161.5 314.4,1157.8 315.5,1165.5 302.9,1169.2" fill="#0860df" stroke="#0860df"/><polygon points="302.9,1169.2 315.5,1165.5 316.7,1173.2 303.9,1176.9" fill="#0760e0" stroke="#0760e0"/><polygon points="303.9,1176.9 316.7,1173.2 318.1,1180.8 305.1,1184.6" fill="#0661e0" stroke="#0661e0"/><polygon points="305.1,1184.6 318.1,1180.8 319.7,1188.4 306.5,1192.3" fill="#0363e1" stroke="#0363e1"/><polygon points="306.5,1192.3 319.7,1188.4 321.5,1196 308.1,1199.9" fill="#0265e1" stroke="#0265e1"/><polygon points="301.9,1073.1 312.7,1069.7 314.7,1077.2 303.7,1080.7" fill="#0c74dd" stroke="#0c74dd"/><polygon points="303.7,1080.7 314.7,1077.2 316.5,1084.8 305.3,1088.3" fill="#0870df" stroke="#0870df"/><polygon points="305.3,1088.3 316.5,1084.8 318.1,1092.4 306.7,1095.9" fill="#056ee0" stroke="#056ee0"/><polygon points="306.7,1095.9 318.1,1092.4 319.5,1100 307.9,1103.6" fill="#046ce0" stroke="#046ce0"/><polygon points="307.9,1103.6 319.5,1100 320.7,1107.7 309,1111.3" fill="#036be0" stroke="#036be0"/><polygon points="309,1111.3 320.7,1107.7 321.8,1115.4 309.9,1119" fill="#036be1" stroke="#036be1"/><polygon points="309.9,1119 321.8,1115.4 322.8,1123.1 310.8,1126.8" fill="#036be1" stroke="#036be1"/><polygon points="310.8,1126.8 322.8,1123.1 323.8,1130.9 311.7,1134.5" fill="#036be1" stroke="#036be1"/><polygon points="311.7,1134.5 323.8,1130.9 324.7,1138.6 312.6,1142.3" fill="#036be1" stroke="#036be1"/><polygon points="312.6,1142.3 324.7,1138.6 325.8,1146.3 313.5,1150" fill="#036be1" stroke="#036be1"/><polygon points="313.5,1150 325.8,1146.3 326.8,1154 314.4,1157.8" fill="#036be1" stroke="#036be1"/><polygon points="314.4,1157.8 326.8,1154 328.1,1161.7 315.5,1165.5" fill="#036be0" stroke="#036be0"/><polygon points="315.5,1165.5 328.1,1161.7 329.4,1169.4 316.7,1173.2" fill="#036be0" stroke="#036be0"/><polygon points="316.7,1173.2 329.4,1169.4 331,1177 318.1,1180.8" fill="#046ce0" stroke="#046ce0"/><polygon points="318.1,1180.8 331,1177 332.8,1184.5 319.7,1188.4" fill="#056de0" stroke="#056de0"/><polygon points="319.7,1188.4 332.8,1184.5 334.8,1192 321.5,1196" fill="#066fdf" stroke="#066fdf"/><polygon points="312.7,1069.7 323.6,1066.2 325.8,1073.7 314.7,1077.2" fill="#137ed7" stroke="#137ed7"/><polygon points="314.7,1077.2 325.8,1073.7 327.8,1081.2 316.5,1084.8" fill="#1079da" stroke="#1079da"/><polygon points="316.5,1084.8 327.8,1081.2 329.6,1088.8 318.1,1092.4" fill="#0e76dc" stroke="#0e76dc"/><polygon points="318.1,1092.4 329.6,1088.8 331.1,1096.4 319.5,1100" fill="#0c75dc" stroke="#0c75dc"/><polygon points="319.5,1100 331.1,1096.4 332.4,1104.1 320.7,1107.7" fill="#0b74dd" stroke="#0b74dd"/><polygon points="320.7,1107.7 332.4,1104.1 333.6,1111.8 321.8,1115.4" fill="#0b73dd" stroke="#0b73dd"/><polygon points="321.8,1115.4 333.6,1111.8 334.7,1119.5 322.8,1123.1" fill="#0b73dd" stroke="#0b73dd"/><polygon points="322.8,1123.1 334.7,1119.5 335.8,1127.2 323.8,1130.9" fill="#0b73dd" stroke="#0b73dd"/><polygon points="323.8,1130.9 335.8,1127.2 336.9,1134.9 324.7,1138.6" fill="#0b73dd" stroke="#0b73dd"/><polygon points="324.7,1138.6 336.9,1134.9 338,1142.6 325.8,1146.3" fill="#0b73dd" stroke="#0b73dd"/><polygon points="325.8,1146.3 338,1142.6 339.2,1150.3 326.8,1154" fill="#0b73dd" stroke="#0b73dd"/><polygon points="326.8,1154 339.2,1150.3 340.6,1157.9 328.1,1161.7" fill="#0b74dd" stroke="#0b74dd"/><polygon points="328.1,1161.7 340.6,1157.9 342.1,1165.5 329.4,1169.4" fill="#0c74dd" stroke="#0c74dd"/><polygon points="329.4,1169.4 342.1,1165.5 343.8,1173.1 331,1177" fill="#0c75dd" stroke="#0c75dd"/><polygon points="331,1177 343.8,1173.1 345.8,1180.7 332.8,1184.5" fill="#0d76dc" stroke="#0d76dc"/><polygon points="332.8,1184.5 345.8,1180.7 348.1,1188.1 334.8,1192" fill="#0f78db" stroke="#0f78db"/><polygon points="323.6,1066.2 334.5,1062.8 337,1070.2 325.8,1073.7" fill="#1388d3" stroke="#1388d3"/><polygon points="325.8,1073.7 337,1070.2 339.2,1077.7 327.8,1081.2" fill="#1482d5" stroke="#1482d5"/><polygon points="327.8,1081.2 339.2,1077.7 341.1,1085.3 329.6,1088.8" fill="#137fd7" stroke="#137fd7"/><polygon points="329.6,1088.8 341.1,1085.3 342.7,1092.8 331.1,1096.4" fill="#127dd8" stroke="#127dd8"/><polygon points="331.1,1096.4 342.7,1092.8 344.2,1100.5 332.4,1104.1" fill="#127cd8" stroke="#127cd8"/><polygon points="332.4,1104.1 344.2,1100.5 345.5,1108.1 333.6,1111.8" fill="#127bd9" stroke="#127bd9"/><polygon points="333.6,1111.8 345.5,1108.1 346.7,1115.8 334.7,1119.5" fill="#117bd9" stroke="#117bd9"/><polygon points="334.7,1119.5 346.7,1115.8 347.9,1123.5 335.8,1127.2" fill="#117bd9" stroke="#117bd9"/><polygon points="335.8,1127.2 347.9,1123.5 349.1,1131.2 336.9,1134.9" fill="#117bd9" stroke="#117bd9"/><polygon points="336.9,1134.9 349.1,1131.2 350.3,1138.9 338,1142.6" fill="#117bd9" stroke="#117bd9"/><polygon points="338,1142.6 350.3,1138.9 351.6,1146.5 339.2,1150.3" fill="#117bd9" stroke="#117bd9"/><polygon points="339.2,1150.3 351.6,1146.5 353.1,1154.2 340.6,1157.9" fill="#127bd9" stroke="#127bd9"/><polygon points="340.6,1157.9 353.1,1154.2 354.7,1161.8 342.1,1165.5" fill="#127cd8" stroke="#127cd8"/><polygon points="342.1,1165.5 354.7,1161.8 356.6,1169.3 343.8,1173.1" fill="#127cd8" stroke="#127cd8"/><polygon points="343.8,1173.1 356.6,1169.3 358.8,1176.8 345.8,1180.7" fill="#137ed7" stroke="#137ed7"/><polygon points="345.8,1180.7 358.8,1176.8 361.2,1184.2 348.1,1188.1" fill="#1480d6" stroke="#1480d6"/><polygon points="334.5,1062.8 345.6,1059.3 348.3,1066.7 337,1070.2" fill="#0c94d2" stroke="#0c94d2"/><polygon points="337,1070.2 348.3,1066.7 350.6,1074.2 339.2,1077.7" fill="#118cd2" stroke="#118cd2"/><polygon points="339.2,1077.7 350.6,1074.2 352.7,1081.7 341.1,1085.3" fill="#1487d3" stroke="#1487d3"/><polygon points="341.1,1085.3 352.7,1081.7 354.4,1089.3 342.7,1092.8" fill="#1485d4" stroke="#1485d4"/><polygon points="342.7,1092.8 354.4,1089.3 356,1096.9 344.2,1100.5" fill="#1483d4" stroke="#1483d4"/><polygon points="344.2,1100.5 356,1096.9 357.4,1104.5 345.5,1108.1" fill="#1483d5" stroke="#1483d5"/><polygon points="345.5,1108.1 357.4,1104.5 358.7,1112.2 346.7,1115.8" fill="#1483d5" stroke="#1483d5"/><polygon points="346.7,1115.8 358.7,1112.2 360,1119.8 347.9,1123.5" fill="#1483d5" stroke="#1483d5"/><polygon points="347.9,1123.5 360,1119.8 361.2,1127.5 349.1,1131.2" fill="#1483d5" stroke="#1483d5"/><polygon points="349.1,1131.2 361.2,1127.5 362.5,1135.2 350.3,1138.9" fill="#1483d5" stroke="#1483d5"/><polygon points="350.3,1138.9 362.5,1135.2 364,1142.8 351.6,1146.5" fill="#1483d5" stroke="#1483d5"/><polygon points="351.6,1146.5 364,1142.8 365.5,1150.4 353.1,1154.2" fill="#1483d5" stroke="#1483d5"/><polygon points="353.1,1154.2 365.5,1150.4 367.3,1158 354.7,1161.8" fill="#1483d4" stroke="#1483d4"/><polygon points="354.7,1161.8 367.3,1158 369.3,1165.5 356.6,1169.3" fill="#1484d4" stroke="#1484d4"/><polygon points="356.6,1169.3 369.3,1165.5 371.6,1173 358.8,1176.8" fill="#1486d4" stroke="#1486d4"/><polygon points="358.8,1176.8 371.6,1173 374.3,1180.4 361.2,1184.2" fill="#1389d3" stroke="#1389d3"/><polygon points="345.6,1059.3 356.8,1055.8 359.7,1063.2 348.3,1066.7" fill="#069fce" stroke="#069fce"/><polygon points="348.3,1066.7 359.7,1063.2 362.1,1070.6 350.6,1074.2" fill="#0997d1" stroke="#0997d1"/><polygon points="350.6,1074.2 362.1,1070.6 364.3,1078.1 352.7,1081.7" fill="#0e92d2" stroke="#0e92d2"/><polygon points="352.7,1081.7 364.3,1078.1 366.2,1085.7 354.4,1089.3" fill="#108ed2" stroke="#108ed2"/><polygon points="354.4,1089.3 366.2,1085.7 367.8,1093.2 356,1096.9" fill="#118dd2" stroke="#118dd2"/><polygon points="356,1096.9 367.8,1093.2 369.3,1100.9 357.4,1104.5" fill="#128cd2" stroke="#128cd2"/><polygon points="357.4,1104.5 369.3,1100.9 370.7,1108.5 358.7,1112.2" fill="#128cd2" stroke="#128cd2"/><polygon points="358.7,1112.2 370.7,1108.5 372.1,1116.2 360,1119.8" fill="#128cd2" stroke="#128cd2"/><polygon points="360,1119.8 372.1,1116.2 373.4,1123.8 361.2,1127.5" fill="#128cd2" stroke="#128cd2"/><polygon points="361.2,1127.5 373.4,1123.8 374.8,1131.5 362.5,1135.2" fill="#128cd2" stroke="#128cd2"/><polygon points="362.5,1135.2 374.8,1131.5 376.3,1139.1 364,1142.8" fill="#128cd2" stroke="#128cd2"/><polygon points="364,1142.8 376.3,1139.1 378,1146.7 365.5,1150.4" fill="#118cd2" stroke="#118cd2"/><polygon points="365.5,1150.4 378,1146.7 379.8,1154.2 367.3,1158" fill="#118dd2" stroke="#118dd2"/><polygon points="367.3,1158 379.8,1154.2 382,1161.7 369.3,1165.5" fill="#108ed2" stroke="#108ed2"/><polygon points="369.3,1165.5 382,1161.7 384.4,1169.2 371.6,1173" fill="#0f90d2" stroke="#0f90d2"/><polygon points="371.6,1173 384.4,1169.2 387.3,1176.5 374.3,1180.4" fill="#0c94d2" stroke="#0c94d2"/><polygon points="356.8,1055.8 368.1,1052.3 371.1,1059.6 359.7,1063.2" fill="#06a7c6" stroke="#06a7c6"/><polygon points="359.7,1063.2 371.1,1059.6 373.7,1067.1 362.1,1070.6" fill="#06a1cc" stroke="#06a1cc"/><polygon points="362.1,1070.6 373.7,1067.1 375.9,1074.5 364.3,1078.1" fill="#079cd0" stroke="#079cd0"/><polygon points="364.3,1078.1 375.9,1074.5 377.9,1082.1 366.2,1085.7" fill="#0899d1" stroke="#0899d1"/><polygon points="366.2,1085.7 377.9,1082.1 379.7,1089.6 367.8,1093.2" fill="#0997d1" stroke="#0997d1"/><polygon points="367.8,1093.2 379.7,1089.6 381.3,1097.2 369.3,1100.9" fill="#0a97d1" stroke="#0a97d1"/><polygon points="369.3,1100.9 381.3,1097.2 382.7,1104.9 370.7,1108.5" fill="#0a96d1" stroke="#0a96d1"/><polygon points="370.7,1108.5 382.7,1104.9 384.1,1112.5 372.1,1116.2" fill="#0a96d1" stroke="#0a96d1"/><polygon points="372.1,1116.2 384.1,1112.5 385.5,1120.2 373.4,1123.8" fill="#0a96d1" stroke="#0a96d1"/><polygon points="373.4,1123.8 385.5,1120.2 387,1127.8 374.8,1131.5" fill="#0a96d1" stroke="#0a96d1"/><polygon points="374.8,1131.5 387,1127.8 388.6,1135.4 376.3,1139.1" fill="#0a96d1" stroke="#0a96d1"/><polygon points="376.3,1139.1 388.6,1135.4 390.3,1143 378,1146.7" fill="#0a97d1" stroke="#0a97d1"/><polygon points="378,1146.7 390.3,1143 392.3,1150.5 379.8,1154.2" fill="#0997d1" stroke="#0997d1"/><polygon points="379.8,1154.2 392.3,1150.5 394.6,1158 382,1161.7" fill="#0999d1" stroke="#0999d1"/><polygon points="382,1161.7 394.6,1158 397.2,1165.4 384.4,1169.2" fill="#089bd0" stroke="#089bd0"/><polygon points="384.4,1169.2 397.2,1165.4 400.2,1172.7 387.3,1176.5" fill="#079ecf" stroke="#079ecf"/><polygon points="368.1,1052.3 379.5,1048.8 382.6,1056.1 371.1,1059.6" fill="#0eaeba" stroke="#0eaeba"/><polygon points="371.1,1059.6 382.6,1056.1 385.3,1063.5 373.7,1067.1" fill="#06a9c3" stroke="#06a9c3"/><polygon points="373.7,1067.1 385.3,1063.5 387.7,1070.9 375.9,1074.5" fill="#06a5c8" stroke="#06a5c8"/><polygon points="375.9,1074.5 387.7,1070.9 389.7,1078.5 377.9,1082.1" fill="#06a2cb" stroke="#06a2cb"/><polygon points="377.9,1082.1 389.7,1078.5 391.6,1086 379.7,1089.6" fill="#06a1cc" stroke="#06a1cc"/><polygon points="379.7,1089.6 391.6,1086 393.2,1093.6 381.3,1097.2" fill="#06a0cd" stroke="#06a0cd"/><polygon points="381.3,1097.2 393.2,1093.6 394.8,1101.2 382.7,1104.9" fill="#06a0cd" stroke="#06a0cd"/><polygon points="382.7,1104.9 394.8,1101.2 396.2,1108.9 384.1,1112.5" fill="#06a0cd" stroke="#06a0cd"/><polygon points="384.1,1112.5 396.2,1108.9 397.7,1116.5 385.5,1120.2" fill="#06a0cd" stroke="#06a0cd"/><polygon points="385.5,1120.2 397.7,1116.5 399.2,1124.1 387,1127.8" fill="#06a0cd" stroke="#06a0cd"/><polygon points="387,1127.8 399.2,1124.1 400.9,1131.7 388.6,1135.4" fill="#06a0cd" stroke="#06a0cd"/><polygon points="388.6,1135.4 400.9,1131.7 402.7,1139.3 390.3,1143" fill="#06a1cd" stroke="#06a1cd"/><polygon points="390.3,1143 402.7,1139.3 404.8,1146.8 392.3,1150.5" fill="#06a1cc" stroke="#06a1cc"/><polygon points="392.3,1150.5 404.8,1146.8 407.1,1154.2 394.6,1158" fill="#06a2cb" stroke="#06a2cb"/><polygon points="394.6,1158 407.1,1154.2 409.8,1161.6 397.2,1165.4" fill="#06a4ca" stroke="#06a4ca"/><polygon points="397.2,1165.4 409.8,1161.6 413,1168.9 400.2,1172.7" fill="#06a6c7" stroke="#06a6c7"/><polygon points="379.5,1048.8 391,1045.2 394.2,1052.5 382.6,1056.1" fill="#22b4ab" stroke="#22b4ab"/><polygon points="382.6,1056.1 394.2,1052.5 397,1059.9 385.3,1063.5" fill="#12afb7" stroke="#12afb7"/><polygon points="385.3,1063.5 397,1059.9 399.4,1067.3 387.7,1070.9" fill="#0aacbd" stroke="#0aacbd"/><polygon points="387.7,1070.9 399.4,1067.3 401.6,1074.8 389.7,1078.5" fill="#07aac1" stroke="#07aac1"/><polygon points="389.7,1078.5 401.6,1074.8 403.5,1082.3 391.6,1086" fill="#07a9c3" stroke="#07a9c3"/><polygon points="391.6,1086 403.5,1082.3 405.2,1089.9 393.2,1093.6" fill="#06a8c3" stroke="#06a8c3"/><polygon points="393.2,1093.6 405.2,1089.9 406.8,1097.5 394.8,1101.2" fill="#06a8c4" stroke="#06a8c4"/><polygon points="394.8,1101.2 406.8,1097.5 408.3,1105.1 396.2,1108.9" fill="#06a8c4" stroke="#06a8c4"/><polygon points="396.2,1108.9 408.3,1105.1 409.8,1112.8 397.7,1116.5" fill="#06a8c4" stroke="#06a8c4"/><polygon points="397.7,1116.5 409.8,1112.8 411.4,1120.4 399.2,1124.1" fill="#06a8c4" stroke="#06a8c4"/><polygon points="399.2,1124.1 411.4,1120.4 413.2,1127.9 400.9,1131.7" fill="#06a8c4" stroke="#06a8c4"/><polygon points="400.9,1131.7 413.2,1127.9 415,1135.5 402.7,1139.3" fill="#06a8c3" stroke="#06a8c3"/><polygon points="402.7,1139.3 415,1135.5 417.2,1143 404.8,1146.8" fill="#07a9c3" stroke="#07a9c3"/><polygon points="404.8,1146.8 417.2,1143 419.6,1150.4 407.1,1154.2" fill="#07aac1" stroke="#07aac1"/><polygon points="407.1,1154.2 419.6,1150.4 422.4,1157.8 409.8,1161.6" fill="#09abbf" stroke="#09abbf"/><polygon points="409.8,1161.6 422.4,1157.8 425.7,1165.1 413,1168.9" fill="#0dadbb" stroke="#0dadbb"/><polygon points="391,1045.2 402.5,1041.6 405.9,1048.9 394.2,1052.5" fill="#3fba9a" stroke="#3fba9a"/><polygon points="394.2,1052.5 405.9,1048.9 408.8,1056.2 397,1059.9" fill="#28b6a7" stroke="#28b6a7"/><polygon points="397,1059.9 408.8,1056.2 411.3,1063.6 399.4,1067.3" fill="#1cb3af" stroke="#1cb3af"/><polygon points="399.4,1067.3 411.3,1063.6 413.5,1071.1 401.6,1074.8" fill="#16b1b4" stroke="#16b1b4"/><polygon points="401.6,1074.8 413.5,1071.1 415.4,1078.6 403.5,1082.3" fill="#13b0b6" stroke="#13b0b6"/><polygon points="403.5,1082.3 415.4,1078.6 417.2,1086.2 405.2,1089.9" fill="#12afb7" stroke="#12afb7"/><polygon points="405.2,1089.9 417.2,1086.2 418.8,1093.8 406.8,1097.5" fill="#11afb7" stroke="#11afb7"/><polygon points="406.8,1097.5 418.8,1093.8 420.4,1101.4 408.3,1105.1" fill="#11afb7" stroke="#11afb7"/><polygon points="408.3,1105.1 420.4,1101.4 422,1109 409.8,1112.8" fill="#11afb7" stroke="#11afb7"/><polygon points="409.8,1112.8 422,1109 423.6,1116.6 411.4,1120.4" fill="#11afb7" stroke="#11afb7"/><polygon points="411.4,1120.4 423.6,1116.6 425.4,1124.2 413.2,1127.9" fill="#11afb7" stroke="#11afb7"/><polygon points="413.2,1127.9 425.4,1124.2 427.4,1131.7 415,1135.5" fill="#12afb7" stroke="#12afb7"/><polygon points="415,1135.5 427.4,1131.7 429.6,1139.2 417.2,1143" fill="#13b0b6" stroke="#13b0b6"/><polygon points="417.2,1143 429.6,1139.2 432.1,1146.6 419.6,1150.4" fill="#15b1b4" stroke="#15b1b4"/><polygon points="419.6,1150.4 432.1,1146.6 435,1154 422.4,1157.8" fill="#1ab2b1" stroke="#1ab2b1"/><polygon points="422.4,1157.8 435,1154 438.3,1161.2 425.7,1165.1" fill="#21b4ac" stroke="#21b4ac"/><polygon points="402.5,1041.6 414.2,1038.1 417.6,1045.4 405.9,1048.9" fill="#63be87" stroke="#63be87"/><polygon points="405.9,1048.9 417.6,1045.4 420.6,1052.7 408.8,1056.2" fill="#46bb96" stroke="#46bb96"/><polygon points="408.8,1056.2 420.6,1052.7 423.1,1060.1 411.3,1063.6" fill="#36b99f" stroke="#36b99f"/><polygon points="411.3,1063.6 423.1,1060.1 425.4,1067.6 413.5,1071.1" fill="#2db7a4" stroke="#2db7a4"/><polygon points="413.5,1071.1 425.4,1067.6 427.4,1075.1 415.4,1078.6" fill="#29b6a7" stroke="#29b6a7"/><polygon points="415.4,1078.6 427.4,1075.1 429.2,1082.7 417.2,1086.2" fill="#27b6a8" stroke="#27b6a8"/><polygon points="417.2,1086.2 429.2,1082.7 430.9,1090.2 418.8,1093.8" fill="#27b5a8" stroke="#27b5a8"/><polygon points="418.8,1093.8 430.9,1090.2 432.5,1097.8 420.4,1101.4" fill="#27b5a8" stroke="#27b5a8"/><polygon points="420.4,1101.4 432.5,1097.8 434.1,1105.4 422,1109" fill="#27b5a8" stroke="#27b5a8"/><polygon points="422,1109 434.1,1105.4 435.8,1113 423.6,1116.6" fill="#27b5a8" stroke="#27b5a8"/><polygon points="423.6,1116.6 435.8,1113 437.6,1120.6 425.4,1124.2" fill="#27b5a8" stroke="#27b5a8"/><polygon points="425.4,1124.2 437.6,1120.6 439.6,1128.1 427.4,1131.7" fill="#28b6a8" stroke="#28b6a8"/><polygon points="427.4,1131.7 439.6,1128.1 441.9,1135.6 429.6,1139.2" fill="#29b6a7" stroke="#29b6a7"/><polygon points="429.6,1139.2 441.9,1135.6 444.5,1143 432.1,1146.6" fill="#2db7a5" stroke="#2db7a5"/><polygon points="432.1,1146.6 444.5,1143 447.4,1150.3 435,1154" fill="#33b8a1" stroke="#33b8a1"/><polygon points="435,1154 447.4,1150.3 450.9,1157.6 438.3,1161.2" fill="#3dba9b" stroke="#3dba9b"/><polygon points="414.2,1038.1 425.9,1034.8 429.4,1042 417.6,1045.4" fill="#88bf76" stroke="#88bf76"/><polygon points="417.6,1045.4 429.4,1042 432.4,1049.4 420.6,1052.7" fill="#6bbe83" stroke="#6bbe83"/><polygon points="420.6,1052.7 432.4,1049.4 435.1,1056.8 423.1,1060.1" fill="#57bd8c" stroke="#57bd8c"/><polygon points="423.1,1060.1 435.1,1056.8 437.4,1064.2 425.4,1067.6" fill="#4cbc92" stroke="#4cbc92"/><polygon points="425.4,1067.6 437.4,1064.2 439.4,1071.7 427.4,1075.1" fill="#47bb95" stroke="#47bb95"/><polygon points="427.4,1075.1 439.4,1071.7 441.3,1079.3 429.2,1082.7" fill="#44bb97" stroke="#44bb97"/><polygon points="429.2,1082.7 441.3,1079.3 443,1086.9 430.9,1090.2" fill="#44bb97" stroke="#44bb97"/><polygon points="430.9,1090.2 443,1086.9 444.6,1094.5 432.5,1097.8" fill="#44bb97" stroke="#44bb97"/><polygon points="432.5,1097.8 444.6,1094.5 446.3,1102.1 434.1,1105.4" fill="#44bb97" stroke="#44bb97"/><polygon points="434.1,1105.4 446.3,1102.1 448,1109.7 435.8,1113" fill="#44bb97" stroke="#44bb97"/><polygon points="435.8,1113 448,1109.7 449.8,1117.2 437.6,1120.6" fill="#44bb97" stroke="#44bb97"/><polygon points="437.6,1120.6 449.8,1117.2 451.9,1124.7 439.6,1128.1" fill="#45bb96" stroke="#45bb96"/><polygon points="439.6,1128.1 451.9,1124.7 454.2,1132.2 441.9,1135.6" fill="#47bb95" stroke="#47bb95"/><polygon points="441.9,1135.6 454.2,1132.2 456.8,1139.6 444.5,1143" fill="#4bbc93" stroke="#4bbc93"/><polygon points="444.5,1143 456.8,1139.6 459.8,1146.9 447.4,1150.3" fill="#53bd8e" stroke="#53bd8e"/><polygon points="447.4,1150.3 459.8,1146.9 463.3,1154.1 450.9,1157.6" fill="#60be88" stroke="#60be88"/><polygon points="425.9,1034.8 437.7,1031.5 441.3,1038.7 429.4,1042" fill="#a9be69" stroke="#a9be69"/><polygon points="429.4,1042 441.3,1038.7 444.3,1046.1 432.4,1049.4" fill="#8fbf74" stroke="#8fbf74"/><polygon points="432.4,1049.4 444.3,1046.1 447,1053.4 435.1,1056.8" fill="#7dbf7b" stroke="#7dbf7b"/><polygon points="435.1,1056.8 447,1053.4 449.4,1060.9 437.4,1064.2" fill="#71bf80" stroke="#71bf80"/><polygon points="437.4,1064.2 449.4,1060.9 451.4,1068.4 439.4,1071.7" fill="#6bbf83" stroke="#6bbf83"/><polygon points="439.4,1071.7 451.4,1068.4 453.3,1076 441.3,1079.3" fill="#68be84" stroke="#68be84"/><polygon points="441.3,1079.3 453.3,1076 455.1,1083.5 443,1086.9" fill="#68be84" stroke="#68be84"/><polygon points="443,1086.9 455.1,1083.5 456.7,1091.1 444.6,1094.5" fill="#68be84" stroke="#68be84"/><polygon points="444.6,1094.5 456.7,1091.1 458.4,1098.7 446.3,1102.1" fill="#68be84" stroke="#68be84"/><polygon points="446.3,1102.1 458.4,1098.7 460.1,1106.3 448,1109.7" fill="#68be84" stroke="#68be84"/><polygon points="448,1109.7 460.1,1106.3 462,1113.8 449.8,1117.2" fill="#68be84" stroke="#68be84"/><polygon points="449.8,1117.2 462,1113.8 464.1,1121.4 451.9,1124.7" fill="#69be84" stroke="#69be84"/><polygon points="451.9,1124.7 464.1,1121.4 466.4,1128.8 454.2,1132.2" fill="#6cbf83" stroke="#6cbf83"/><polygon points="454.2,1132.2 466.4,1128.8 469.1,1136.2 456.8,1139.6" fill="#71bf80" stroke="#71bf80"/><polygon points="456.8,1139.6 469.1,1136.2 472.2,1143.5 459.8,1146.9" fill="#79bf7d" stroke="#79bf7d"/><polygon points="459.8,1146.9 472.2,1143.5 475.7,1150.7 463.3,1154.1" fill="#86bf77" stroke="#86bf77"/><polygon points="437.7,1031.5 449.6,1028.6 453.2,1035.8 441.3,1038.7" fill="#c6bc5d" stroke="#c6bc5d"/><polygon points="441.3,1038.7 453.2,1035.8 456.3,1043.1 444.3,1046.1" fill="#aebe67" stroke="#aebe67"/><polygon points="444.3,1046.1 456.3,1043.1 459,1050.5 447,1053.4" fill="#9ebe6e" stroke="#9ebe6e"/><polygon points="447,1053.4 459,1050.5 461.4,1058 449.4,1060.9" fill="#94bf72" stroke="#94bf72"/><polygon points="449.4,1060.9 461.4,1058 463.5,1065.5 451.4,1068.4" fill="#8ebf74" stroke="#8ebf74"/><polygon points="451.4,1068.4 463.5,1065.5 465.4,1073 453.3,1076" fill="#8cbf75" stroke="#8cbf75"/><polygon points="453.3,1076 465.4,1073 467.1,1080.6 455.1,1083.5" fill="#8bbf75" stroke="#8bbf75"/><polygon points="455.1,1083.5 467.1,1080.6 468.8,1088.2 456.7,1091.1" fill="#8bbf75" stroke="#8bbf75"/><polygon points="456.7,1091.1 468.8,1088.2 470.5,1095.8 458.4,1098.7" fill="#8bbf75" stroke="#8bbf75"/><polygon points="458.4,1098.7 470.5,1095.8 472.3,1103.3 460.1,1106.3" fill="#8bbf75" stroke="#8bbf75"/><polygon points="460.1,1106.3 472.3,1103.3 474.2,1110.9 462,1113.8" fill="#8cbf75" stroke="#8cbf75"/><polygon points="462,1113.8 474.2,1110.9 476.3,1118.4 464.1,1121.4" fill="#8dbf75" stroke="#8dbf75"/><polygon points="464.1,1121.4 476.3,1118.4 478.7,1125.8 466.4,1128.8" fill="#8fbf74" stroke="#8fbf74"/><polygon points="466.4,1128.8 478.7,1125.8 481.4,1133.2 469.1,1136.2" fill="#94bf72" stroke="#94bf72"/><polygon points="469.1,1136.2 481.4,1133.2 484.5,1140.5 472.2,1143.5" fill="#9bbf6f" stroke="#9bbf6f"/><polygon points="472.2,1143.5 484.5,1140.5 488.1,1147.7 475.7,1150.7" fill="#a7be6a" stroke="#a7be6a"/><polygon points="449.6,1028.6 461.6,1026.2 465.2,1033.4 453.2,1035.8" fill="#e1b952" stroke="#e1b952"/><polygon points="453.2,1035.8 465.2,1033.4 468.3,1040.7 456.3,1043.1" fill="#cabb5c" stroke="#cabb5c"/><polygon points="456.3,1043.1 468.3,1040.7 471.1,1048.1 459,1050.5" fill="#bbbd62" stroke="#bbbd62"/><polygon points="459,1050.5 471.1,1048.1 473.4,1055.6 461.4,1058" fill="#b2bd66" stroke="#b2bd66"/><polygon points="461.4,1058 473.4,1055.6 475.6,1063.1 463.5,1065.5" fill="#adbe68" stroke="#adbe68"/><polygon points="463.5,1065.5 475.6,1063.1 477.5,1070.6 465.4,1073" fill="#abbe68" stroke="#abbe68"/><polygon points="465.4,1073 477.5,1070.6 479.2,1078.2 467.1,1080.6" fill="#abbe69" stroke="#abbe69"/><polygon points="467.1,1080.6 479.2,1078.2 481,1085.8 468.8,1088.2" fill="#aabe69" stroke="#aabe69"/><polygon points="468.8,1088.2 481,1085.8 482.7,1093.3 470.5,1095.8" fill="#aabe69" stroke="#aabe69"/><polygon points="470.5,1095.8 482.7,1093.3 484.4,1100.9 472.3,1103.3" fill="#aabe69" stroke="#aabe69"/><polygon points="472.3,1103.3 484.4,1100.9 486.3,1108.4 474.2,1110.9" fill="#abbe69" stroke="#abbe69"/><polygon points="474.2,1110.9 486.3,1108.4 488.5,1115.9 476.3,1118.4" fill="#acbe68" stroke="#acbe68"/><polygon points="476.3,1118.4 488.5,1115.9 490.8,1123.4 478.7,1125.8" fill="#aebe67" stroke="#aebe67"/><polygon points="478.7,1125.8 490.8,1123.4 493.6,1130.8 481.4,1133.2" fill="#b2bd66" stroke="#b2bd66"/><polygon points="481.4,1133.2 493.6,1130.8 496.7,1138.1 484.5,1140.5" fill="#b9bd63" stroke="#b9bd63"/><polygon points="484.5,1140.5 496.7,1138.1 500.3,1145.3 488.1,1147.7" fill="#c4bc5e" stroke="#c4bc5e"/><polygon points="461.6,1026.2 473.6,1024 477.3,1031.2 465.2,1033.4" fill="#fbbc40" stroke="#fbbc40"/><polygon points="465.2,1033.4 477.3,1031.2 480.4,1038.5 468.3,1040.7" fill="#e7b94f" stroke="#e7b94f"/><polygon points="468.3,1040.7 480.4,1038.5 483.1,1045.8 471.1,1048.1" fill="#d9ba56" stroke="#d9ba56"/><polygon points="471.1,1048.1 483.1,1045.8 485.5,1053.3 473.4,1055.6" fill="#d1bb59" stroke="#d1bb59"/><polygon points="473.4,1055.6 485.5,1053.3 487.7,1060.8 475.6,1063.1" fill="#cdbb5b" stroke="#cdbb5b"/><polygon points="475.6,1063.1 487.7,1060.8 489.6,1068.3 477.5,1070.6" fill="#cbbb5c" stroke="#cbbb5c"/><polygon points="477.5,1070.6 489.6,1068.3 491.4,1075.9 479.2,1078.2" fill="#cabb5c" stroke="#cabb5c"/><polygon points="479.2,1078.2 491.4,1075.9 493.1,1083.5 481,1085.8" fill="#cabb5c" stroke="#cabb5c"/><polygon points="481,1085.8 493.1,1083.5 494.8,1091.1 482.7,1093.3" fill="#cabb5c" stroke="#cabb5c"/><polygon points="482.7,1093.3 494.8,1091.1 496.6,1098.6 484.4,1100.9" fill="#cabb5c" stroke="#cabb5c"/><polygon points="484.4,1100.9 496.6,1098.6 498.5,1106.2 486.3,1108.4" fill="#cbbb5c" stroke="#cbbb5c"/><polygon points="486.3,1108.4 498.5,1106.2 500.6,1113.7 488.5,1115.9" fill="#cbbb5b" stroke="#cbbb5b"/><polygon points="488.5,1115.9 500.6,1113.7 503,1121.1 490.8,1123.4" fill="#cebb5a" stroke="#cebb5a"/><polygon points="490.8,1123.4 503,1121.1 505.7,1128.5 493.6,1130.8" fill="#d2bb59" stroke="#d2bb59"/><polygon points="493.6,1130.8 505.7,1128.5 508.9,1135.8 496.7,1138.1" fill="#d9ba56" stroke="#d9ba56"/><polygon points="496.7,1138.1 508.9,1135.8 512.5,1143 500.3,1145.3" fill="#e4b951" stroke="#e4b951"/><polygon points="473.6,1024 485.7,1022 489.4,1029.2 477.3,1031.2" fill="#fad12b" stroke="#fad12b"/><polygon points="477.3,1031.2 489.4,1029.2 492.5,1036.5 480.4,1038.5" fill="#ffc436" stroke="#ffc436"/><polygon points="480.4,1038.5 492.5,1036.5 495.3,1043.9 483.1,1045.8" fill="#fbbc40" stroke="#fbbc40"/><polygon points="483.1,1045.8 495.3,1043.9 497.6,1051.3 485.5,1053.3" fill="#f5ba46" stroke="#f5ba46"/><polygon points="485.5,1053.3 497.6,1051.3 499.8,1058.8 487.7,1060.8" fill="#f2b949" stroke="#f2b949"/><polygon points="487.7,1060.8 499.8,1058.8 501.7,1066.4 489.6,1068.3" fill="#f0b94a" stroke="#f0b94a"/><polygon points="489.6,1068.3 501.7,1066.4 503.5,1073.9 491.4,1075.9" fill="#f0b94a" stroke="#f0b94a"/><polygon points="491.4,1075.9 503.5,1073.9 505.2,1081.5 493.1,1083.5" fill="#f0b94a" stroke="#f0b94a"/><polygon points="493.1,1083.5 505.2,1081.5 506.9,1089.1 494.8,1091.1" fill="#f0b94a" stroke="#f0b94a"/><polygon points="494.8,1091.1 506.9,1089.1 508.7,1096.7 496.6,1098.6" fill="#f0b94a" stroke="#f0b94a"/><polygon points="496.6,1098.6 508.7,1096.7 510.6,1104.2 498.5,1106.2" fill="#f0b94a" stroke="#f0b94a"/><polygon points="498.5,1106.2 510.6,1104.2 512.7,1111.7 500.6,1113.7" fill="#f1b94a" stroke="#f1b94a"/><polygon points="500.6,1113.7 512.7,1111.7 515.1,1119.2 503,1121.1" fill="#f3b948" stroke="#f3b948"/><polygon points="503,1121.1 515.1,1119.2 517.9,1126.5 505.7,1128.5" fill="#f7ba45" stroke="#f7ba45"/><polygon points="505.7,1128.5 517.9,1126.5 521,1133.8 508.9,1135.8" fill="#fcbd3f" stroke="#fcbd3f"/><polygon points="508.9,1135.8 521,1133.8 524.7,1141 512.5,1143" fill="#ffc437" stroke="#ffc437"/><polygon points="239.4,1090.9 249.6,1088.6 224,1079.9 213.9,1082.3" fill="#352d8c" stroke="#352d8c"/><polygon points="213.9,1082.3 224,1079.9 198.5,1071.3 188.4,1073.7" fill="#352d8c" stroke="#352d8c"/><polygon points="188.4,1073.7 198.5,1071.3 173,1062.6 162.8,1065.1" fill="#352d8c" stroke="#352d8c"/><polygon points="162.8,1065.1 173,1062.6 147.4,1053.9 137.3,1056.5" fill="#352d8c" stroke="#352d8c"/><polygon points="137.3,1056.5 147.4,1053.9 121.9,1045.3 111.8,1047.9" fill="#352d8c" stroke="#352d8c"/><polygon points="111.8,1047.9 121.9,1045.3 96.4,1036.6 86.2,1039.3" fill="#352d8c" stroke="#352d8c"/><polygon points="249.6,1088.6 259.8,1086 234.3,1077.3 224,1079.9" fill="#36349b" stroke="#36349b"/><polygon points="224,1079.9 234.3,1077.3 208.8,1068.6 198.5,1071.3" fill="#36349b" stroke="#36349b"/><polygon points="198.5,1071.3 208.8,1068.6 183.2,1059.9 173,1062.6" fill="#36349b" stroke="#36349b"/><polygon points="173,1062.6 183.2,1059.9 157.7,1051.2 147.4,1053.9" fill="#36349b" stroke="#36349b"/><polygon points="147.4,1053.9 157.7,1051.2 132.2,1042.5 121.9,1045.3" fill="#36349b" stroke="#36349b"/><polygon points="121.9,1045.3 132.2,1042.5 106.6,1033.8 96.4,1036.6" fill="#36349b" stroke="#36349b"/><polygon points="259.8,1086 270.2,1083.1 244.6,1074.4 234.3,1077.3" fill="#343fb1" stroke="#343fb1"/><polygon points="234.3,1077.3 244.6,1074.4 219.1,1065.8 208.8,1068.6" fill="#343fb1" stroke="#343fb1"/><polygon points="208.8,1068.6 219.1,1065.8 193.6,1057.1 183.2,1059.9" fill="#343fb1" stroke="#343fb1"/><polygon points="183.2,1059.9 193.6,1057.1 168,1048.4 157.7,1051.2" fill="#343fb1" stroke="#343fb1"/><polygon points="157.7,1051.2 168,1048.4 142.5,1039.7 132.2,1042.5" fill="#343fb1" stroke="#343fb1"/><polygon points="132.2,1042.5 142.5,1039.7 117,1031 106.6,1033.8" fill="#343fb1" stroke="#343fb1"/><polygon points="270.2,1083.1 280.6,1079.9 255.1,1071.2 244.6,1074.4" fill="#2251d1" stroke="#2251d1"/><polygon points="244.6,1074.4 255.1,1071.2 229.6,1062.6 219.1,1065.8" fill="#2251d1" stroke="#2251d1"/><polygon points="219.1,1065.8 229.6,1062.6 204,1054 193.6,1057.1" fill="#2351d1" stroke="#2351d1"/><polygon points="193.6,1057.1 204,1054 178.5,1045.3 168,1048.4" fill="#2351d1" stroke="#2351d1"/><polygon points="168,1048.4 178.5,1045.3 153,1036.7 142.5,1039.7" fill="#2251d1" stroke="#2251d1"/><polygon points="142.5,1039.7 153,1036.7 127.5,1028 117,1031" fill="#2251d1" stroke="#2251d1"/><polygon points="280.6,1079.9 291.2,1076.5 265.7,1067.9 255.1,1071.2" fill="#0266e1" stroke="#0266e1"/><polygon points="255.1,1071.2 265.7,1067.9 240.2,1059.3 229.6,1062.6" fill="#0266e1" stroke="#0266e1"/><polygon points="229.6,1062.6 240.2,1059.3 214.6,1050.8 204,1054" fill="#0266e1" stroke="#0266e1"/><polygon points="204,1054 214.6,1050.8 189.1,1042.2 178.5,1045.3" fill="#0266e1" stroke="#0266e1"/><polygon points="178.5,1045.3 189.1,1042.2 163.6,1033.7 153,1036.7" fill="#0266e1" stroke="#0266e1"/><polygon points="153,1036.7 163.6,1033.7 138,1025.1 127.5,1028" fill="#0266e1" stroke="#0266e1"/><polygon points="291.2,1076.5 301.9,1073.1 276.4,1064.6 265.7,1067.9" fill="#0a72de" stroke="#0a72de"/><polygon points="265.7,1067.9 276.4,1064.6 250.8,1056.1 240.2,1059.3" fill="#0a72de" stroke="#0a72de"/><polygon points="240.2,1059.3 250.8,1056.1 225.3,1047.6 214.6,1050.8" fill="#0a72de" stroke="#0a72de"/><polygon points="214.6,1050.8 225.3,1047.6 199.8,1039.1 189.1,1042.2" fill="#0a72de" stroke="#0a72de"/><polygon points="189.1,1042.2 199.8,1039.1 174.2,1030.6 163.6,1033.7" fill="#0a72de" stroke="#0a72de"/><polygon points="163.6,1033.7 174.2,1030.6 148.7,1022.1 138,1025.1" fill="#0a72de" stroke="#0a72de"/><polygon points="301.9,1073.1 312.7,1069.7 287.1,1061.3 276.4,1064.6" fill="#137ed7" stroke="#137ed7"/><polygon points="276.4,1064.6 287.1,1061.3 261.6,1052.8 250.8,1056.1" fill="#137dd8" stroke="#137dd8"/><polygon points="250.8,1056.1 261.6,1052.8 236.1,1044.4 225.3,1047.6" fill="#137dd8" stroke="#137dd8"/><polygon points="225.3,1047.6 236.1,1044.4 210.6,1036 199.8,1039.1" fill="#137dd8" stroke="#137dd8"/><polygon points="199.8,1039.1 210.6,1036 185,1027.5 174.2,1030.6" fill="#137dd8" stroke="#137dd8"/><polygon points="174.2,1030.6 185,1027.5 159.5,1019.1 148.7,1022.1" fill="#137ed7" stroke="#137ed7"/><polygon points="312.7,1069.7 323.6,1066.2 298,1057.9 287.1,1061.3" fill="#128ad3" stroke="#128ad3"/><polygon points="287.1,1061.3 298,1057.9 272.5,1049.5 261.6,1052.8" fill="#138ad3" stroke="#138ad3"/><polygon points="261.6,1052.8 272.5,1049.5 247,1041.1 236.1,1044.4" fill="#1389d3" stroke="#1389d3"/><polygon points="236.1,1044.4 247,1041.1 221.4,1032.8 210.6,1036" fill="#1389d3" stroke="#1389d3"/><polygon points="210.6,1036 221.4,1032.8 195.9,1024.4 185,1027.5" fill="#138ad3" stroke="#138ad3"/><polygon points="185,1027.5 195.9,1024.4 170.4,1016 159.5,1019.1" fill="#128ad3" stroke="#128ad3"/><polygon points="323.6,1066.2 334.5,1062.8 309,1054.5 298,1057.9" fill="#0899d1" stroke="#0899d1"/><polygon points="298,1057.9 309,1054.5 283.5,1046.2 272.5,1049.5" fill="#0999d1" stroke="#0999d1"/><polygon points="272.5,1049.5 283.5,1046.2 258,1037.9 247,1041.1" fill="#0998d1" stroke="#0998d1"/><polygon points="247,1041.1 258,1037.9 232.4,1029.5 221.4,1032.8" fill="#0998d1" stroke="#0998d1"/><polygon points="221.4,1032.8 232.4,1029.5 206.9,1021.2 195.9,1024.4" fill="#0999d1" stroke="#0999d1"/><polygon points="195.9,1024.4 206.9,1021.2 181.4,1012.9 170.4,1016" fill="#0899d1" stroke="#0899d1"/><polygon points="334.5,1062.8 345.6,1059.3 320.1,1051.1 309,1054.5" fill="#06a4c9" stroke="#06a4c9"/><polygon points="309,1054.5 320.1,1051.1 294.6,1042.8 283.5,1046.2" fill="#06a4ca" stroke="#06a4ca"/><polygon points="283.5,1046.2 294.6,1042.8 269,1034.6 258,1037.9" fill="#06a3ca" stroke="#06a3ca"/><polygon points="258,1037.9 269,1034.6 243.5,1026.3 232.4,1029.5" fill="#06a3ca" stroke="#06a3ca"/><polygon points="232.4,1029.5 243.5,1026.3 218,1018.1 206.9,1021.2" fill="#06a4ca" stroke="#06a4ca"/><polygon points="206.9,1021.2 218,1018.1 192.4,1009.8 181.4,1012.9" fill="#06a4c9" stroke="#06a4c9"/><polygon points="345.6,1059.3 356.8,1055.8 331.3,1047.6 320.1,1051.1" fill="#0bacbd" stroke="#0bacbd"/><polygon points="320.1,1051.1 331.3,1047.6 305.8,1039.4 294.6,1042.8" fill="#0aacbe" stroke="#0aacbe"/><polygon points="294.6,1042.8 305.8,1039.4 280.2,1031.2 269,1034.6" fill="#09abbf" stroke="#09abbf"/><polygon points="269,1034.6 280.2,1031.2 254.7,1023 243.5,1026.3" fill="#09abbf" stroke="#09abbf"/><polygon points="243.5,1026.3 254.7,1023 229.2,1014.9 218,1018.1" fill="#0aacbe" stroke="#0aacbe"/><polygon points="218,1018.1 229.2,1014.9 203.6,1006.7 192.4,1009.8" fill="#0bacbd" stroke="#0bacbd"/><polygon points="356.8,1055.8 368.1,1052.3 342.6,1044.2 331.3,1047.6" fill="#1db3af" stroke="#1db3af"/><polygon points="331.3,1047.6 342.6,1044.2 317,1036 305.8,1039.4" fill="#1bb2b0" stroke="#1bb2b0"/><polygon points="305.8,1039.4 317,1036 291.5,1027.9 280.2,1031.2" fill="#1ab2b1" stroke="#1ab2b1"/><polygon points="280.2,1031.2 291.5,1027.9 266,1019.8 254.7,1023" fill="#1ab2b1" stroke="#1ab2b1"/><polygon points="254.7,1023 266,1019.8 240.4,1011.6 229.2,1014.9" fill="#1bb2b0" stroke="#1bb2b0"/><polygon points="229.2,1014.9 240.4,1011.6 214.9,1003.5 203.6,1006.7" fill="#1db3af" stroke="#1db3af"/><polygon points="368.1,1052.3 379.5,1048.8 354,1040.7 342.6,1044.2" fill="#38b99d" stroke="#38b99d"/><polygon points="342.6,1044.2 354,1040.7 328.4,1032.6 317,1036" fill="#34b8a0" stroke="#34b8a0"/><polygon points="317,1036 328.4,1032.6 302.9,1024.5 291.5,1027.9" fill="#33b8a1" stroke="#33b8a1"/><polygon points="291.5,1027.9 302.9,1024.5 277.4,1016.5 266,1019.8" fill="#33b8a1" stroke="#33b8a1"/><polygon points="266,1019.8 277.4,1016.5 251.8,1008.4 240.4,1011.6" fill="#34b8a0" stroke="#34b8a0"/><polygon points="240.4,1011.6 251.8,1008.4 226.3,1000.3 214.9,1003.5" fill="#38b99d" stroke="#38b99d"/><polygon points="379.5,1048.8 391,1045.2 365.4,1037.2 354,1040.7" fill="#5cbe8a" stroke="#5cbe8a"/><polygon points="354,1040.7 365.4,1037.2 339.9,1029.2 328.4,1032.6" fill="#56bd8d" stroke="#56bd8d"/><polygon points="328.4,1032.6 339.9,1029.2 314.4,1021.1 302.9,1024.5" fill="#53bd8e" stroke="#53bd8e"/><polygon points="302.9,1024.5 314.4,1021.1 288.8,1013.1 277.4,1016.5" fill="#53bd8e" stroke="#53bd8e"/><polygon points="277.4,1016.5 288.8,1013.1 263.3,1005.1 251.8,1008.4" fill="#56bd8d" stroke="#56bd8d"/><polygon points="251.8,1008.4 263.3,1005.1 237.8,997 226.3,1000.3" fill="#5cbe8a" stroke="#5cbe8a"/><polygon points="391,1045.2 402.5,1041.6 377,1033.6 365.4,1037.2" fill="#82bf79" stroke="#82bf79"/><polygon points="365.4,1037.2 377,1033.6 351.5,1025.7 339.9,1029.2" fill="#7cbf7c" stroke="#7cbf7c"/><polygon points="339.9,1029.2 351.5,1025.7 325.9,1017.7 314.4,1021.1" fill="#79bf7d" stroke="#79bf7d"/><polygon points="314.4,1021.1 325.9,1017.7 300.4,1009.7 288.8,1013.1" fill="#79bf7d" stroke="#79bf7d"/><polygon points="288.8,1013.1 300.4,1009.7 274.9,1001.8 263.3,1005.1" fill="#7cbf7c" stroke="#7cbf7c"/><polygon points="263.3,1005.1 274.9,1001.8 249.3,993.8 237.8,997" fill="#82bf79" stroke="#82bf79"/><polygon points="402.5,1041.6 414.2,1038.1 388.6,1030.2 377,1033.6" fill="#a4be6b" stroke="#a4be6b"/><polygon points="377,1033.6 388.6,1030.2 363.1,1022.2 351.5,1025.7" fill="#9ebe6e" stroke="#9ebe6e"/><polygon points="351.5,1025.7 363.1,1022.2 337.6,1014.3 325.9,1017.7" fill="#9bbf6f" stroke="#9bbf6f"/><polygon points="325.9,1017.7 337.6,1014.3 312,1006.4 300.4,1009.7" fill="#9bbf6f" stroke="#9bbf6f"/><polygon points="300.4,1009.7 312,1006.4 286.5,998.4 274.9,1001.8" fill="#9ebe6e" stroke="#9ebe6e"/><polygon points="274.9,1001.8 286.5,998.4 261,990.5 249.3,993.8" fill="#a4be6b" stroke="#a4be6b"/><polygon points="414.2,1038.1 425.9,1034.8 400.4,1026.9 388.6,1030.2" fill="#c4bc5e" stroke="#c4bc5e"/><polygon points="388.6,1030.2 400.4,1026.9 374.8,1018.9 363.1,1022.2" fill="#bebc61" stroke="#bebc61"/><polygon points="363.1,1022.2 374.8,1018.9 349.3,1011 337.6,1014.3" fill="#bbbd62" stroke="#bbbd62"/><polygon points="337.6,1014.3 349.3,1011 323.8,1003.1 312,1006.4" fill="#bbbd62" stroke="#bbbd62"/><polygon points="312,1006.4 323.8,1003.1 298.2,995.1 286.5,998.4" fill="#bebc61" stroke="#bebc61"/><polygon points="286.5,998.4 298.2,995.1 272.7,987.2 261,990.5" fill="#c4bc5e" stroke="#c4bc5e"/><polygon points="425.9,1034.8 437.7,1031.5 412.2,1023.6 400.4,1026.9" fill="#e2b952" stroke="#e2b952"/><polygon points="400.4,1026.9 412.2,1023.6 386.7,1015.6 374.8,1018.9" fill="#dbba55" stroke="#dbba55"/><polygon points="374.8,1018.9 386.7,1015.6 361.1,1007.7 349.3,1011" fill="#d8ba56" stroke="#d8ba56"/><polygon points="349.3,1011 361.1,1007.7 335.6,999.8 323.8,1003.1" fill="#d8ba56" stroke="#d8ba56"/><polygon points="323.8,1003.1 335.6,999.8 310.1,991.8 298.2,995.1" fill="#dbba55" stroke="#dbba55"/><polygon points="298.2,995.1 310.1,991.8 284.5,983.9 272.7,987.2" fill="#e2b952" stroke="#e2b952"/><polygon points="437.7,1031.5 449.6,1028.6 424.1,1020.6 412.2,1023.6" fill="#fbbc41" stroke="#fbbc41"/><polygon points="412.2,1023.6 424.1,1020.6 398.6,1012.6 386.7,1015.6" fill="#f5ba47" stroke="#f5ba47"/><polygon points="386.7,1015.6 398.6,1012.6 373,1004.6 361.1,1007.7" fill="#f1b949" stroke="#f1b949"/><polygon points="361.1,1007.7 373,1004.6 347.5,996.6 335.6,999.8" fill="#f1b949" stroke="#f1b949"/><polygon points="335.6,999.8 347.5,996.6 322,988.6 310.1,991.8" fill="#f5ba47" stroke="#f5ba47"/><polygon points="310.1,991.8 322,988.6 296.4,980.5 284.5,983.9" fill="#fbbc41" stroke="#fbbc41"/><polygon points="449.6,1028.6 461.6,1026.2 436.1,1018 424.1,1020.6" fill="#fccc2f" stroke="#fccc2f"/><polygon points="424.1,1020.6 436.1,1018 410.5,1009.9 398.6,1012.6" fill="#fec734" stroke="#fec734"/><polygon points="398.6,1012.6 410.5,1009.9 385,1001.7 373,1004.6" fill="#ffc436" stroke="#ffc436"/><polygon points="373,1004.6 385,1001.7 359.5,993.5 347.5,996.6" fill="#ffc436" stroke="#ffc436"/><polygon points="347.5,996.6 359.5,993.5 333.9,985.3 322,988.6" fill="#fec734" stroke="#fec734"/><polygon points="322,988.6 333.9,985.3 308.4,977.2 296.4,980.5" fill="#fccc2f" stroke="#fccc2f"/><polygon points="461.6,1026.2 473.6,1024 448.1,1015.6 436.1,1018" fill="#f5de21" stroke="#f5de21"/><polygon points="436.1,1018 448.1,1015.6 422.6,1007.2 410.5,1009.9" fill="#f8d726" stroke="#f8d726"/><polygon points="410.5,1009.9 422.6,1007.2 397,998.9 385,1001.7" fill="#f9d429" stroke="#f9d429"/><polygon points="385,1001.7 397,998.9 371.5,990.5 359.5,993.5" fill="#f9d429" stroke="#f9d429"/><polygon points="359.5,993.5 371.5,990.5 346,982.2 333.9,985.3" fill="#f8d726" stroke="#f8d726"/><polygon points="333.9,985.3 346,982.2 320.4,973.8 308.4,977.2" fill="#f5de21" stroke="#f5de21"/><polygon points="473.6,1024 485.7,1022 460.2,1013.4 448.1,1015.6" fill="#f8f810" stroke="#f8f810"/><polygon points="448.1,1015.6 460.2,1013.4 434.7,1004.8 422.6,1007.2" fill="#f5ed17" stroke="#f5ed17"/><polygon points="422.6,1007.2 434.7,1004.8 409.1,996.2 397,998.9" fill="#f5e91a" stroke="#f5e91a"/><polygon points="397,998.9 409.1,996.2 383.6,987.6 371.5,990.5" fill="#f5e91a" stroke="#f5e91a"/><polygon points="371.5,990.5 383.6,987.6 358.1,979 346,982.2" fill="#f5ed17" stroke="#f5ed17"/><polygon points="346,982.2 358.1,979 332.5,970.4 320.4,973.8" fill="#f8f810" stroke="#f8f810"/></g>
<pattern id="prc" width="2.4" height="2.6" patternUnits="userSpaceOnUse" patternTransform="skewY(-14)"><g fill="#000" fill-opacity="0.48"><rect x="0" y="0" width="1.25" height="0.6"/><rect x="1.2" y="1.3" width="1.2" height="0.6"/><rect x="0" y="1.3" width="0.1" height="0.6"/></g></pattern>
<pattern id="plc" width="2.4" height="2.6" patternUnits="userSpaceOnUse" patternTransform="skewY(17.7)"><g fill="#000" fill-opacity="0.48"><rect x="0" y="0" width="1.25" height="0.6"/><rect x="1.2" y="1.3" width="1.2" height="0.6"/><rect x="0" y="1.3" width="0.1" height="0.6"/></g></pattern>
<pattern id="ptc" width="2.4" height="2.6" patternUnits="userSpaceOnUse" patternTransform="skewY(-14)"><g fill="#000" fill-opacity="0.12"><rect x="0" y="0" width="1.25" height="0.6"/><rect x="1.2" y="1.3" width="1.2" height="0.6"/><rect x="0" y="1.3" width="0.1" height="0.6"/></g></pattern>
<polygon points="239.4,1090.9 261.9,1085.5 284.9,1078.5 308.3,1071.1 332.3,1063.5 356.8,1055.8 381.8,1048.1 407.2,1040.2 433,1032.8 459.2,1026.7 485.7,1022 332.5,970.4 306,977.9 279.8,985.2 254,992.5 228.6,999.6 203.6,1006.7 179.2,1013.5 155.2,1020.3 131.7,1026.9 108.7,1033.3 86.2,1039.3" fill="url(#ptc)"/>
<polygon points="239.4,1090.9 261.9,1085.5 284.9,1078.5 308.3,1071.1 332.3,1063.5 356.8,1055.8 381.8,1048.1 407.2,1040.2 433,1032.8 459.2,1026.7 485.7,1022 485.7,1022 492.5,1036.5 497.6,1051.3 501.7,1066.4 505.2,1081.5 508.7,1096.7 512.7,1111.7 517.9,1126.5 524.7,1141 524.7,1141 497.9,1145.8 470.8,1152.1 443.3,1159.8 415.5,1168.1 387.3,1176.5 358.6,1185 329.5,1193.6 300,1202.3 269.9,1210.6 239.4,1217.7" fill="url(#prc)"/>
<polygon points="86.2,1039.3 239.4,1090.9 239.4,1217.7 86.2,1166" fill="url(#plc)"/>
<path d="M239.4,1090.9 L239.4,1217.7 M232.5,1088.6 L232.5,1215.3 M225.5,1086.2 L225.5,1213 M218.5,1083.9 L218.5,1210.6 M211.6,1081.5 L211.6,1208.3 M204.6,1079.2 L204.6,1205.9 M197.6,1076.8 L197.6,1203.6 M190.7,1074.5 L190.7,1201.2 M183.7,1072.2 L183.7,1198.9 M176.8,1069.8 L176.8,1196.6 M169.8,1067.5 L169.8,1194.2 M162.8,1065.1 L162.8,1191.9 M155.9,1062.8 L155.9,1189.5 M148.9,1060.4 L148.9,1187.2 M141.9,1058.1 L141.9,1184.8 M135,1055.7 L135,1182.5 M128,1053.4 L128,1180.1 M121.1,1051 L121.1,1177.8 M114.1,1048.7 L114.1,1175.4 M107.1,1046.3 L107.1,1173.1 M100.2,1044 L100.2,1170.7 M93.2,1041.6 L93.2,1168.4 M86.2,1039.3 L86.2,1166 M239.4,1090.9 239.4,1106.8 239.4,1122.6 239.4,1138.5 239.4,1154.3 239.4,1170.1 239.4,1186 239.4,1201.8 239.4,1217.7 M249.6,1088.6 250.2,1104.3 250.7,1120 251.1,1135.8 251.5,1151.6 251.8,1167.4 252.2,1183.1 252.7,1198.9 253.4,1214.6 M259.8,1086 261.1,1101.6 262.1,1117.2 262.8,1132.9 263.5,1148.6 264.2,1164.4 264.9,1180.1 265.9,1195.7 267.2,1211.3 M270.2,1083.1 272,1098.6 273.5,1114.2 274.6,1129.8 275.5,1145.5 276.5,1161.1 277.6,1176.7 279,1192.3 280.9,1207.8 M280.6,1079.9 283.1,1095.3 284.9,1110.7 286.3,1126.3 287.6,1141.9 288.8,1157.5 290.3,1173 292.1,1188.5 294.5,1203.9 M291.2,1076.5 294.1,1091.7 296.4,1107.1 298.1,1122.6 299.6,1138.2 301.2,1153.7 302.9,1169.2 305.1,1184.6 308.1,1199.9 M301.9,1073.1 305.3,1088.3 307.9,1103.6 309.9,1119 311.7,1134.5 313.5,1150 315.5,1165.5 318.1,1180.8 321.5,1196 M312.7,1069.7 316.5,1084.8 319.5,1100 321.8,1115.4 323.8,1130.9 325.8,1146.3 328.1,1161.7 331,1177 334.8,1192 M323.6,1066.2 327.8,1081.2 331.1,1096.4 333.6,1111.8 335.8,1127.2 338,1142.6 340.6,1157.9 343.8,1173.1 348.1,1188.1 M334.5,1062.8 339.2,1077.7 342.7,1092.8 345.5,1108.1 347.9,1123.5 350.3,1138.9 353.1,1154.2 356.6,1169.3 361.2,1184.2 M345.6,1059.3 350.6,1074.2 354.4,1089.3 357.4,1104.5 360,1119.8 362.5,1135.2 365.5,1150.4 369.3,1165.5 374.3,1180.4 M356.8,1055.8 362.1,1070.6 366.2,1085.7 369.3,1100.9 372.1,1116.2 374.8,1131.5 378,1146.7 382,1161.7 387.3,1176.5 M368.1,1052.3 373.7,1067.1 377.9,1082.1 381.3,1097.2 384.1,1112.5 387,1127.8 390.3,1143 394.6,1158 400.2,1172.7 M379.5,1048.8 385.3,1063.5 389.7,1078.5 393.2,1093.6 396.2,1108.9 399.2,1124.1 402.7,1139.3 407.1,1154.2 413,1168.9 M391,1045.2 397,1059.9 401.6,1074.8 405.2,1089.9 408.3,1105.1 411.4,1120.4 415,1135.5 419.6,1150.4 425.7,1165.1 M402.5,1041.6 408.8,1056.2 413.5,1071.1 417.2,1086.2 420.4,1101.4 423.6,1116.6 427.4,1131.7 432.1,1146.6 438.3,1161.2 M414.2,1038.1 420.6,1052.7 425.4,1067.6 429.2,1082.7 432.5,1097.8 435.8,1113 439.6,1128.1 444.5,1143 450.9,1157.6 M425.9,1034.8 432.4,1049.4 437.4,1064.2 441.3,1079.3 444.6,1094.5 448,1109.7 451.9,1124.7 456.8,1139.6 463.3,1154.1 M437.7,1031.5 444.3,1046.1 449.4,1060.9 453.3,1076 456.7,1091.1 460.1,1106.3 464.1,1121.4 469.1,1136.2 475.7,1150.7 M449.6,1028.6 456.3,1043.1 461.4,1058 465.4,1073 468.8,1088.2 472.3,1103.3 476.3,1118.4 481.4,1133.2 488.1,1147.7 M461.6,1026.2 468.3,1040.7 473.4,1055.6 477.5,1070.6 481,1085.8 484.4,1100.9 488.5,1115.9 493.6,1130.8 500.3,1145.3 M473.6,1024 480.4,1038.5 485.5,1053.3 489.6,1068.3 493.1,1083.5 496.6,1098.6 500.6,1113.7 505.7,1128.5 512.5,1143 M485.7,1022 492.5,1036.5 497.6,1051.3 501.7,1066.4 505.2,1081.5 508.7,1096.7 512.7,1111.7 517.9,1126.5 524.7,1141" fill="none" stroke="#000" stroke-width="0.42" stroke-opacity="0.75"/>
<path d="M349.9,987.1 333.4,988.2 341.3,985.4 349.9,987.1 360.2,984.7 373.4,986.7 378.5,985.9 370.8,983.3 373.4,986.7 368.5,988.9 349.9,987.1 348.8,983 341.3,985.4 331.5,985.4 333.4,988.2 325.5,987.7 314.7,988.5 304.7,987.7 298.7,989.5 305.4,991 314.7,988.5 310,986.1 325.5,987.7 331.5,985.4 339.6,983.5 341.3,985.4 M357,1014.9 360.8,1016.4 369.2,1019.9 377.4,1021.8 377,1025.2 383.9,1029.2 384,1033.4 389,1035.6 392.6,1040.6 384.5,1041.5 377.3,1043.9 375,1039.8 367.6,1043.4 357.5,1045.9 350.2,1043.8 337.2,1045.4 325.5,1047.9 331.2,1044.5 337.2,1045.4 342,1043 331.2,1044.5 319.3,1044.6 325.5,1047.9 312,1048.7 303.9,1048.1 291,1045.4 287.4,1049.3 274.3,1047.9 265.1,1049.1 254,1050.5 240.9,1049 231.5,1051.4 223.7,1047.8 240.9,1049 230.1,1045 243,1046.2 254,1050.5 257.1,1048 265.1,1049.1 261.5,1044.8 257.1,1048 247.4,1044.7 243,1046.2 240.9,1049 238.5,1052.2 254,1050.5 264.5,1051.5 265.1,1049.1 278,1049.7 287.4,1049.3 285.9,1045 291,1045.4 284.7,1042.6 285.9,1045 274.3,1047.9 261.5,1044.8 247.4,1044.7 237.7,1042.9 243,1046.2 257.1,1048 M223.8,1051.2 214.8,1050.3 202.7,1051 193.7,1050.6 182.5,1049.3 178.1,1053.3 176.1,1048.5 182.5,1049.3 178.9,1046.9 176.1,1048.5 166.9,1051.3 158.9,1052.3 146.3,1052.5 132.2,1051.1 137.9,1049.2 146.3,1052.5 147.2,1051.1 158.9,1052.3 157.2,1047.8 147.2,1051.1 137.9,1049.2 127,1047.7 132.2,1051.1 123.9,1049.4 124.5,1052.2 132.2,1054.8 139.9,1057.4 150.4,1058.8 145.4,1056.6 132.2,1054.8 134.7,1052.9 132.2,1051.1 124.5,1052.2 116.9,1049.6 109.2,1047 101.6,1044.5 93.9,1041.9 86.2,1039.3 92.8,1037.6 99.4,1035.8 101.9,1038.3 92.8,1037.6 103.6,1040.9 106.6,1043.2 116.8,1046.2 123.9,1049.4 127,1047.7 131.4,1044.8 137.9,1049.2 142.5,1047.1 147.2,1051.1 M270.5,1078.4 272.6,1082.4 265.9,1084.4 259.2,1086.2 252.6,1087.8 246,1089.4 239.4,1090.9 231.8,1088.3 246,1089.4 236.7,1085.6 231.8,1088.3 224.1,1085.8 216.4,1083.2 208.8,1080.6 213.2,1079.4 216.4,1083.2 225,1084.4 224.1,1085.8 236.7,1085.6 244.4,1085.5 246,1089.4 M293.7,991.3 298.7,989.5 290.9,986.4 304.7,987.7 304.6,984.1 290.9,986.4 285.5,986.4 276.6,990.6 293.7,991.3 285.5,986.4 278.3,985.6 276.6,990.6 263,989.9 255.5,992.1 269.5,993.2 276.6,990.6 270.6,987.8 263,989.9 269.5,993.2 286.3,994.3 276.6,990.6 M348.4,980.2 348.8,983 360.2,984.7 370.8,983.3 361,981.3 360.2,984.7 368.5,988.9 378.9,990.9 373.4,986.7 386.2,988.5 378.5,985.9 M261.4,1076.4 259.2,1078.3 260.6,1081.4 265.9,1084.4 254.4,1083.1 259.2,1086.2 244.4,1085.5 252.6,1087.8 M390.2,1002.3 400.9,1001.3 407.6,1003.3 413.2,1006.8 423.5,1008.3 414.4,1011.8 418.5,1014.6 419,1018.2 425.3,1021.1 434.1,1024.2 441.9,1027.8 427.8,1028.4 424.4,1030.1 419.2,1033.7 407.9,1033.6 404.1,1036.9 392.6,1040.6 381.7,1038 384.5,1041.5 375,1039.8 358.7,1039.6 367.6,1043.4 377.3,1043.9 386.2,1046.7 378.8,1049 371.4,1051.3 364.1,1053.6 356.8,1055.8 349.6,1058.1 335,1059 328.1,1054.9 322.3,1056.3 329.3,1059.3 318.8,1058.4 324.6,1063 329.3,1059.3 335.2,1062.6 328.1,1064.8 321,1067.1 324.6,1063 328.1,1064.8 M202.7,1051 212.2,1047.6 214.8,1050.3 218.5,1047.8 212.2,1047.6 215.8,1047.2 218.5,1047.8 223.7,1047.8 215.8,1047.2 223.3,1043.2 223.7,1047.8 230.1,1045 223.3,1043.2 208.6,1044.4 212.2,1047.6 195.1,1046.5 202.7,1051 191,1048.9 193.7,1050.6 201,1055.4 202.7,1051 207,1051.9 214.8,1050.3 217.4,1055 207,1051.9 209.8,1057.4 217.4,1055 232.2,1057.1 239.3,1057.5 229.4,1059.4 244,1061.7 254,1063.8 257.9,1060.1 276.5,1063 286.5,1067.2 292.9,1073 293.1,1075.9 300,1073.7 292.9,1073 290.8,1073.3 286.2,1078.1 293.1,1075.9 290.8,1073.3 274.5,1075.4 279.4,1080.3 270.5,1078.4 265.5,1080.6 265.9,1084.4 M174.6,1062.9 181.4,1063.8 194.9,1067.1 202.4,1070.5 201.3,1071.8 204,1076.2 201.1,1078 193.5,1075.4 204,1076.2 213.2,1079.4 201.1,1078 208.8,1080.6 M356.8,1055.8 349.1,1054 349.6,1058.1 342,1055.1 349.1,1054 364.1,1053.6 353.6,1050.3 342.9,1048.6 337.2,1045.4 331.6,1049.4 325.5,1047.9 316.9,1052.1 328.3,1049.9 325.5,1047.9 M349.1,1054 353.6,1050.3 361.8,1048.1 357.5,1045.9 353.3,1041.4 367.6,1043.4 371.6,1046.2 357.5,1045.9 357.1,1047.1 350.2,1043.8 353.3,1041.4 342,1043 344.2,1038.9 332.9,1039.2 342,1043 328.1,1042.3 331.2,1044.5 M249.1,1074.2 259.2,1078.3 244.7,1080.4 254.4,1083.1 244.4,1085.5 245.3,1082.5 233.3,1081.9 236.7,1085.6 225,1084.4 233.3,1081.9 244.4,1085.5 M245.7,1072.9 244.4,1077.1 244.7,1080.4 245.3,1082.5 254.4,1083.1 260.6,1081.4 265.5,1080.6 272.6,1082.4 279.4,1080.3 286.2,1078.1 274.5,1075.4 270.5,1078.4 259.2,1078.3 265.5,1080.6 M328.3,977.3 316.9,974.8 324.7,972.6 332.5,970.4 340.2,973 347.9,975.6 348.4,980.2 339.6,983.5 348.8,983 361,981.3 348.4,980.2 334.3,977.3 339.6,983.5 327.2,981.8 331.5,985.4 319.9,983.7 325.5,987.7 330.3,990.8 314.7,988.5 318,992.4 312.9,995.8 305.4,991 304.7,987.7 310,986.1 304.6,984.1 311.1,982.1 310,986.1 319.9,983.7 327.2,981.8 317,980 316.9,974.8 332.1,974.9 324.7,972.6 M165.1,1060.9 167.2,1058.7 175.9,1060.9 194,1062.8 201.7,1063.1 212.2,1067.8 205.3,1071 212.9,1073.7 214.7,1078 222.3,1082.9 216.4,1083.2 M167.2,1058.7 154.4,1057 163.7,1055.5 158.9,1052.3 151.1,1055 146.3,1052.5 134.7,1052.9 124.5,1052.2 M277.3,1016.2 287.3,1021 285.5,1023.9 290.4,1027.7 293.5,1032.4 296.4,1035.2 306.7,1038.3 302.5,1041.9 309.5,1045.5 303.9,1048.1 301.9,1045.7 291,1045.4 295.7,1041.6 301.9,1045.7 309.5,1045.5 319.3,1044.6 328.1,1042.3 332.9,1039.2 344.8,1037.1 344.2,1038.9 349,1039.2 342,1043 350.2,1043.8 342.9,1048.6 331.6,1049.4 337.2,1053.4 342.9,1048.6 349.1,1054 337.2,1053.4 328.1,1054.9 316.9,1052.1 310,1056 322.3,1056.3 318.8,1058.4 307.5,1060.8 313.2,1065.6 308.6,1066.8 304.6,1069.1 300,1073.7 307,1071.5 304.6,1069.1 292.9,1073 278.6,1070.3 290.8,1073.3 274.7,1072.8 274.5,1075.4 268.4,1074.7 270.5,1078.4 261.4,1076.4 268.4,1074.7 255.3,1073.8 261.4,1076.4 249.1,1074.2 244.4,1077.1 234,1078.4 232.1,1080.5 233.3,1081.9 222.3,1082.9 225,1084.4 M267.7,1012.1 277.3,1016.2 268.4,1018.7 273.7,1022.8 280.3,1026 284.8,1028.9 289.1,1032.9 282.4,1036.1 284.1,1041.1 284.7,1042.6 273.5,1043.9 274.3,1047.9 278,1049.7 264.5,1051.5 262.2,1055 254,1050.5 253.4,1054.7 244.8,1055.6 235.5,1052.7 231.5,1051.4 223.8,1051.2 218.5,1047.8 M458.2,1019.4 453.3,1022.8 445.8,1026.3 441.9,1027.8 431.2,1026.1 427.8,1028.4 423.1,1027.3 424.4,1030.1 410.1,1030.4 407.9,1033.6 397,1032.2 404.1,1036.9 389,1035.6 381.7,1038 375,1039.8 372.2,1036.9 381.7,1038 380.2,1034.6 389,1035.6 393.1,1032 397,1032.2 389,1035.6 M371.2,1031.6 372.2,1036.9 358.7,1039.6 353.3,1041.4 349,1039.2 344.8,1037.1 356.7,1036.6 358.7,1039.6 349,1039.2 356.7,1036.6 372.2,1036.9 380.2,1034.6 384,1033.4 371.2,1031.6 380.2,1034.6 M126.2,1028.4 119.4,1030.3 112.7,1032.1 119.9,1034.1 106,1034 114.7,1037.9 99.4,1035.8 106,1034 112.7,1032.1 M134,1031.7 135.4,1035.2 144.2,1037.4 147.4,1042 151.6,1045.4 157.2,1047.8 166.9,1051.3 178.1,1053.3 170.1,1057 181.2,1053.9 178.1,1053.3 167.4,1053.7 158.9,1052.3 M452.9,1016.5 462.7,1014.3 470.4,1016.9 468.1,1017 478.1,1019.4 470.4,1016.9 M437.4,1016.7 440.2,1018.7 440.8,1022.7 445.8,1026.3 434.1,1024.2 431.2,1026.1 423.1,1027.3 410.1,1030.4 419.2,1033.7 416.2,1037.5 404.1,1036.9 408.7,1039.7 416.2,1037.5 407.9,1033.6 405.5,1030.1 397,1032.2 398.4,1027.7 405.5,1030.1 410.1,1030.4 406.6,1026.6 405.5,1030.1 M295.8,1004.8 286.4,1007.7 284.9,1012.1 286.6,1014.5 296.1,1018.7 302.8,1023.2 309.1,1027.6 313.1,1029.9 309.6,1032.1 311.5,1034.8 306.7,1038.3 314.4,1041.8 309.5,1045.5 312,1048.7 319.3,1044.6 314.4,1041.8 328.1,1042.3 316.8,1037.7 332.9,1039.2 327.2,1035.4 344.8,1037.1 345.5,1034.2 356.7,1036.6 361.7,1033.6 372.2,1036.9 M174.8,1042.5 183.9,1044.4 191,1048.9 182.5,1049.3 181.2,1053.9 189.6,1059.3 175.9,1060.9 181.4,1063.8 190.5,1068.1 178,1065.6 168.1,1063.6 155.2,1062.5 147.5,1060 150.4,1058.8 155.2,1062.5 162.8,1065.1 168.1,1063.6 170.5,1067.7 178.1,1070.3 185.8,1072.9 193.5,1075.4 193.2,1074.7 185.8,1072.9 191.3,1070.7 193.2,1074.7 204,1076.2 214.7,1078 213.2,1079.4 222.3,1082.9 232.1,1080.5 245.3,1082.5 M447.8,1011.5 455.1,1011.7 452.9,1016.5 468.1,1017 462.7,1014.3 455.1,1011.7 447.4,1009.1 439.8,1006.5 432.1,1003.9 426.3,1005.1 439.8,1006.5 438,1008 447.4,1009.1 440.9,1010.8 442.7,1013.6 447.9,1017.9 446.8,1020 453.3,1022.8 440.8,1022.7 434.1,1024.2 417.1,1022.5 423.1,1027.3 406.6,1026.6 398.4,1027.7 393.1,1032 384,1033.4 M277.4,1002.3 275.9,1003.7 286.4,1007.7 294.2,1009 297.8,1013.5 300.7,1016.8 302.3,1018.7 302.8,1023.2 299.5,1025.3 299.6,1028.5 309.6,1032.1 321.7,1034.1 316.8,1037.7 306.7,1038.3 293.1,1038.2 302.5,1041.9 301.9,1045.7 M414.4,1011.8 419.4,1013.1 429.2,1016.8 431.6,1020.1 434.1,1024.2 M471.6,1020.8 470.1,1024.6 477.9,1023.2 471.6,1020.8 485.7,1022 477.9,1023.2 M336.5,990.5 333.4,988.2 330.3,990.8 318,992.4 323,995.1 316.4,998.2 329.8,999.1 335.9,1000.6 352.4,1000.2 347,1003.4 344.3,1006.7 353.2,1009.4 357,1014.9 368.7,1014.7 360.8,1016.4 354.1,1019.5 354.3,1022.8 355.2,1027.3 367.2,1030.6 361.7,1033.6 371.2,1031.6 367.2,1030.6 352.2,1032 356.7,1036.6 M92.8,1037.6 93.9,1041.9 106.6,1043.2 122.1,1044.2 127,1047.7 116.8,1046.2 116.9,1049.6 123.9,1049.4 M201.7,1063.1 203.6,1068.8 194.9,1067.1 201.7,1063.1 220.2,1064.1 231.5,1066.9 240.9,1063.8 221,1062 216.9,1060.2 208.2,1061.2 220.2,1064.1 222.3,1067.5 212.2,1067.8 219.8,1069.7 212.9,1073.7 204,1076.2 M202.3,1061.3 208.2,1061.2 201.7,1063.1 202.3,1061.3 194,1062.8 194.9,1067.1 190.5,1068.1 191.3,1070.7 201.3,1071.8 193.2,1074.7 M268.2,1000.3 279,1000.7 277.4,1002.3 287.1,1000.6 283.4,996.1 271.9,996.3 263.4,998.6 268.2,1000.3 262.5,1004.3 253.1,1006 244.7,1005.9 232.5,1007.5 220.6,1007.6 210.9,1004.6 203.6,1006.7 196.4,1008.7 199.1,1011 203.6,1006.7 215.8,1009.4 210.9,1004.6 218.3,1002.5 220.6,1007.6 232.7,1011 235.6,1015.7 239.4,1018.4 247.9,1023.2 258.1,1026.7 272.6,1028 272.8,1032.6 282.4,1036.1 270.1,1037.7 277.4,1041.3 284.7,1042.6 295.7,1041.6 302.5,1041.9 314.4,1041.8 316.8,1037.7 311.5,1034.8 296.4,1035.2 282.4,1036.1 293.1,1038.2 295.7,1041.6 284.1,1041.1 277.4,1041.3 273.5,1043.9 285.9,1045 M144.2,1037.4 138,1040.9 134.9,1043.2 142.5,1047.1 157.2,1047.8 163.8,1047.1 166.9,1051.3 167.4,1053.7 170.1,1057 189.6,1059.3 194,1062.8 181.4,1063.8 178,1065.6 182.4,1068.7 178.1,1070.3 191.3,1070.7 182.4,1068.7 170.5,1067.7 178,1065.6 174.6,1062.9 165.1,1060.9 168.1,1063.6 174.6,1062.9 175.9,1060.9 165.1,1060.9 155.2,1062.5 M364.1,1053.6 361.8,1048.1 357.1,1047.1 353.6,1050.3 M208.2,1061.2 221,1062 231.5,1066.9 232.4,1068.1 236,1072.4 244.4,1077.1 259.2,1078.3 M189.6,1059.3 202.3,1061.3 201,1059.8 209.8,1057.4 208.2,1061.2 201,1059.8 189.6,1059.3 191.4,1058.3 181.2,1053.9 184.6,1054.2 193.7,1050.6 M259.8,1001.8 268.2,1000.3 275.9,1003.7 278.6,1007.7 286.4,1007.7 293.2,1007.6 295.8,1004.8 302,1002.8 308,1000.1 296.1,997.2 283.4,996.1 279,1000.7 287.1,1000.6 295.8,1004.8 304.5,1005.8 311.5,1004.1 319.6,1002.2 308,1000.1 311.5,1004.1 308.7,1007 318.2,1012.2 327.3,1015.4 333.6,1021.3 336.1,1025.3 336.4,1029.7 338.3,1033.1 344.8,1037.1 M324.6,1063 313.2,1065.6 314,1069.3 307,1071.5 M307.5,1060.8 324.6,1063 335.2,1062.6 335,1059 329.3,1059.3 328.1,1054.9 342,1055.1 335,1059 342.4,1060.3 349.6,1058.1 M134.7,1052.9 145.4,1056.6 146.3,1052.5 M301.3,979.2 304.6,984.1 293.6,981.3 285.9,983.5 285.5,986.4 M317,980 319.9,983.7 311.1,982.1 317,980 328.3,977.3 327.2,981.8 334.3,977.3 328.3,977.3 332.1,974.9 332.5,970.4 M413.2,1006.8 408.5,1009.3 414.4,1011.8 400.2,1013.3 406.4,1017.4 414,1021.6 417.1,1022.5 406.6,1026.6 395.6,1026.1 398.4,1027.7 383.9,1029.2 393.1,1032 M101.6,1044.5 106.6,1043.2 110.3,1041.4 122.1,1044.2 116.8,1046.2 109.2,1047 106.6,1043.2 M256.8,997.4 263.4,998.6 251,1000.7 253.1,1006 259.7,1007.5 270.4,1006.7 275.2,1010 280,1014.2 277.3,1016.2 296.1,1018.7 295.4,1023 299.5,1025.3 309.1,1027.6 321.3,1027.8 321.8,1032 327.2,1035.4 316.8,1037.7 M290.9,986.4 285.9,983.5 278.3,985.6 270.6,987.8 M300.7,1016.8 296.1,1018.7 287.3,1021 295.4,1023 302.8,1023.2 320.7,1024.2 323.2,1026.4 336.4,1029.7 345.7,1030.7 345.5,1034.2 338.3,1033.1 327.2,1035.4 321.7,1034.1 311.5,1034.8 M170.1,1057 175.9,1060.9 M167.4,1053.7 163.7,1055.5 167.2,1058.7 170.1,1057 163.7,1055.5 151.1,1055 145.4,1056.6 154.4,1057 165.1,1060.9 150.4,1058.8 154.4,1057 151.1,1055 M199.1,1011 206.6,1013.9 211.5,1019 215.5,1021.5 224.9,1024.9 222.3,1027.4 227.6,1030.8 225.2,1034.4 231,1039.3 237.7,1042.9 230.1,1045 229.2,1040.4 237.7,1042.9 246,1040.8 247.4,1044.7 261.3,1042.1 261.5,1044.8 273.5,1043.9 261.3,1042.1 246,1040.8 253.5,1037.5 261.3,1042.1 264.5,1040.5 273.5,1043.9 M296.1,1018.7 302.3,1018.7 309.9,1020.9 320.7,1024.2 309.1,1027.6 323.2,1026.4 321.3,1027.8 336.4,1029.7 321.8,1032 321.7,1034.1 M355,996.8 364.9,998.3 375.4,998.3 381.8,1002.4 369.1,1001.8 364.6,1002.8 352.4,1000.2 359.9,1004.9 364.6,1002.8 364.3,1005.8 353.2,1009.4 361,1011.4 368.7,1014.7 373,1016.3 378.3,1020.5 387.5,1022.3 384.9,1026.6 383.9,1029.2 367.9,1027.5 371.2,1031.6 383.9,1029.2 M429.2,1016.8 440.2,1018.7 446.8,1020 440.8,1022.7 431.6,1020.1 425.3,1021.1 417.1,1022.5 431.2,1026.1 M268.3,1053 264.5,1051.5 M393.7,1044.4 377.3,1043.9 371.6,1046.2 371.4,1051.3 361.8,1048.1 371.6,1046.2 378.8,1049 M283.4,996.1 289.8,995.5 297.9,993.5 305.4,991 303,995 308,1000.1 316.4,998.2 319.6,1002.2 322.2,1005.2 311.5,1004.1 319.5,1007.1 318.2,1012.2 311.3,1015.7 320.8,1018.1 320.7,1024.2 329.4,1022.9 323.2,1026.4 336.1,1025.3 339.9,1028.6 345.7,1030.7 352.2,1032 345.5,1034.2 M269.5,993.2 283.4,996.1 286.3,994.3 289.8,995.5 296.1,997.2 302,1002.8 304.5,1005.8 308.7,1007 302.8,1012.2 311.3,1015.7 312.9,1018.2 309.9,1020.9 302.8,1023.2 M371.1,1010.7 368.7,1014.7 374.4,1014.9 373,1016.3 369.2,1019.9 378.3,1020.5 377.4,1021.8 387.5,1022.3 395.6,1026.1 384.9,1026.6 398.4,1027.7 M221,1062 220.2,1064.1 212.2,1067.8 203.6,1068.8 205.3,1071 201.3,1071.8 212.9,1073.7 219.9,1076.3 232.1,1080.5 244.7,1080.4 260.6,1081.4 M223.7,1047.8 223.8,1051.2 217.4,1055 225.2,1058.7 229.4,1059.4 240.9,1063.8 241.1,1067 244.8,1065.7 240.9,1063.8 254,1063.8 258.2,1066.8 244.8,1065.7 253.6,1069.2 255.3,1073.8 249.1,1074.2 245.7,1072.9 255.3,1073.8 259.7,1069.9 268.4,1074.7 274.7,1072.8 259.7,1069.9 253.6,1069.2 245.7,1072.9 236,1072.4 232.4,1074.5 234,1078.4 244.7,1080.4 M327.3,1015.4 320.8,1018.1 329.4,1022.9 336.1,1025.3 345.8,1026.1 353,1029.1 352.2,1032 361.7,1033.6 M318.2,1012.2 328.7,1013.2 327.3,1015.4 341.8,1017.5 343.1,1021.6 345.8,1026.1 355.2,1027.3 367.9,1027.5 367.2,1030.6 353,1029.1 345.7,1030.7 338.3,1033.1 321.8,1032 309.6,1032.1 296.4,1035.2 289.1,1032.9 272.8,1032.6 272.6,1034.8 270.1,1037.7 284.1,1041.1 293.1,1038.2 296.4,1035.2 M286.5,1067.2 304.6,1069.1 293,1064.1 308.6,1066.8 314,1069.3 304.6,1069.1 M316.9,974.8 309.1,977 301.3,979.2 311.1,982.1 M406.6,1026.6 403,1022.8 395.6,1026.1 M364.3,1005.8 379.1,1008.6 383.1,1011 387,1015.4 378.3,1020.5 391.2,1020.6 387.5,1022.3 403,1022.8 414,1021.6 425.3,1021.1 M335.2,1062.6 342.4,1060.3 M191.4,1058.3 201,1059.8 201,1055.4 184.6,1054.2 182.5,1049.3 M312.9,1018.2 320.8,1018.1 333.6,1021.3 343.1,1021.6 336.1,1025.3 M211.5,1041.9 223.3,1043.2 229.2,1040.4 216,1040.6 223.3,1043.2 M384.9,1026.6 377,1025.2 367.9,1027.5 366.4,1025.2 355.2,1027.3 353,1029.1 339.9,1028.6 336.4,1029.7 M387.5,1022.3 377,1025.2 366.4,1025.2 377.4,1021.8 361.8,1022.3 366.4,1025.2 354.3,1022.8 345.8,1026.1 339.9,1028.6 M258.2,1066.8 259.7,1069.9 268.5,1069.3 274.7,1072.8 278.6,1070.3 268.5,1069.3 258.2,1066.8 274,1066.2 278.6,1070.3 286.5,1067.2 274,1066.2 268.5,1069.3 M198.7,1036 201.5,1041.2 208.6,1044.4 195.1,1046.5 191,1048.9 178.9,1046.9 183.9,1044.4 195.1,1046.5 192.3,1043.6 183.9,1044.4 173.6,1044.8 176.1,1048.5 163.8,1047.1 173.6,1044.8 174.8,1042.5 182.2,1039.8 183.9,1044.4 M119.9,1034.1 114.7,1037.9 110.3,1041.4 119.4,1039.4 122.1,1044.2 130.3,1042.7 131.4,1044.8 142.5,1047.1 151.6,1045.4 163.8,1047.1 156.9,1042.3 151.6,1045.4 134.9,1043.2 131.4,1044.8 122.1,1044.2 M93.9,1041.9 103.6,1040.9 110.3,1041.4 101.9,1038.3 103.6,1040.9 M240.9,1063.8 244,1061.7 257.9,1060.1 252.5,1058.6 239.3,1057.5 244,1061.7 252.5,1058.6 254,1056.4 244.8,1055.6 252.5,1058.6 M308,1000.1 312.9,995.8 316.4,998.2 M303,995 296.1,997.2 287.1,1000.6 302,1002.8 311.5,1004.1 M296.1,997.2 297.9,993.5 303,995 312.9,995.8 323,995.1 329.8,999.1 333.1,1003.1 347,1003.4 359.9,1004.9 353.2,1009.4 341.1,1012.4 339,1013.9 341.8,1017.5 333.6,1021.3 329.4,1022.9 M341.8,1017.5 348.1,1017.4 343.1,1021.6 354.3,1022.8 361.8,1022.3 354.1,1019.5 369.2,1019.9 361.8,1022.3 M339,1013.9 327.3,1015.4 311.3,1015.7 306,1015.7 302.3,1018.7 312.9,1018.2 306,1015.7 300.7,1016.8 286.6,1014.5 277.3,1016.2 264.6,1016.5 268.4,1018.7 287.3,1021 273.7,1022.8 285.5,1023.9 280.3,1026 290.4,1027.7 284.8,1028.9 293.5,1032.4 309.6,1032.1 M209.8,1057.4 216.9,1060.2 225.2,1058.7 221,1062 229.4,1059.4 232.2,1057.1 225.2,1058.7 209.8,1057.4 201,1055.4 191.4,1058.3 184.6,1054.2 M207,1051.9 201,1055.4 M250.6,1007.6 251.3,1010.8 256.9,1016.3 252.3,1019.3 255.1,1022.8 258.1,1026.7 257.9,1029.4 253.9,1032.6 264.8,1036.1 264.5,1040.5 277.4,1041.3 M328.7,1013.2 339,1013.9 348.1,1017.4 354.1,1019.5 343.1,1021.6 M234.6,1005.6 227.1,1004.4 218.3,1002.5 225.6,1000.5 227.1,1004.4 232.5,1007.5 232.7,1011 227.9,1014.2 221.7,1019.3 226.5,1024.2 230.2,1025.9 227.6,1030.8 238,1033.8 243.3,1035.7 246,1040.8 231,1039.3 229.2,1040.4 226.1,1038.9 231,1039.3 238.1,1035.8 246,1040.8 M342,1055.1 337.2,1053.4 328.3,1049.9 328.1,1054.9 M383.9,991.7 387.5,995 397.5,998.8 404.9,1000.4 407.6,1003.3 400.8,1005.1 408.5,1009.3 401.9,1009.9 400.2,1013.3 395.3,1015.9 392.4,1018.7 391.2,1020.6 403,1022.8 403.5,1020.3 414,1021.6 419,1018.2 431.6,1020.1 440.2,1018.7 447.9,1017.9 458.2,1019.4 462.9,1023.6 470.1,1024.6 462.3,1026.1 453.3,1022.8 462.9,1023.6 471.6,1020.8 478.1,1019.4 485.7,1022 M220.6,1007.6 221.3,1010.8 227.9,1014.2 235.5,1017.4 235.1,1021.8 239.4,1023.4 245.7,1028 253.9,1032.6 253.3,1034.9 253.5,1037.5 264.5,1040.5 270.1,1037.7 264.8,1036.1 253.5,1037.5 243.3,1035.7 253.3,1034.9 264.8,1036.1 264.9,1031.1 272.6,1034.8 282.4,1036.1 M145.4,1056.6 139.9,1057.4 147.5,1060 M387.5,995 375.4,998.3 390.2,1002.3 390.4,1006.1 390.1,1009.6 391.2,1011.3 395.3,1015.9 406.4,1017.4 419,1018.2 429.2,1016.8 418.5,1014.6 406.4,1017.4 403.5,1020.3 391.2,1020.6 M212.9,1073.7 225,1073.1 219.9,1076.3 214.7,1078 232.1,1080.5 M291,1045.4 296.1,1050.3 303.9,1048.1 307.2,1052.3 312,1048.7 316.9,1052.1 322.3,1056.3 M260.1,1064.3 258.2,1066.8 253.6,1069.2 241.1,1067 245.7,1072.9 232.4,1068.1 230.6,1070.9 232.4,1074.5 244.4,1077.1 M244.8,1065.7 254,1063.8 260.1,1064.3 274,1066.2 276.5,1063 260.1,1064.3 257.9,1060.1 268,1058.1 254,1056.4 257.9,1060.1 M395.2,1007.9 401.9,1009.9 414.4,1011.8 425.9,1010.9 419.4,1013.1 418.5,1014.6 400.2,1013.3 391.2,1011.3 387,1015.4 392.4,1018.7 403.5,1020.3 M401.2,1042 408.7,1039.7 392.6,1040.6 393.7,1044.4 384.5,1041.5 M278.6,1007.7 284.9,1012.1 297.8,1013.5 286.6,1014.5 280,1014.2 284.9,1012.1 275.2,1010 267.7,1012.1 264.6,1016.5 265.6,1018.1 266.3,1020.9 268.8,1023.6 272.6,1028 284.8,1028.9 272.8,1032.6 264.9,1031.1 253.9,1032.6 249.4,1032.8 243.3,1035.7 238.1,1035.8 225.2,1034.4 226.1,1038.9 216,1040.6 211.5,1041.9 208.6,1044.4 192.3,1043.6 182.2,1039.8 176.4,1039.5 174.8,1042.5 166.4,1041.5 173.6,1044.8 178.9,1046.9 M275.9,1003.7 270.4,1006.7 278.6,1007.7 275.2,1010 259.7,1007.5 267.7,1012.1 280,1014.2 M240.5,996.3 233,998.4 225.6,1000.5 234.6,1001.6 233,998.4 239,1001.8 234.6,1005.6 232.5,1007.5 238.6,1010 250.6,1007.6 259.7,1007.5 251.3,1010.8 267.7,1012.1 256.9,1016.3 265.6,1018.1 268.4,1018.7 266.3,1020.9 273.7,1022.8 268.8,1023.6 280.3,1026 272.6,1028 257.9,1029.4 264.9,1031.1 272.6,1028 M248,994.2 240.5,996.3 246,997.7 233,998.4 M386.2,988.5 383.9,991.7 384.2,994.1 387.5,995 390.7,997.8 390.2,1002.3 396,1004 400.9,1001.3 404.9,1000.4 416.8,998.8 424.5,1001.4 432.1,1003.9 423.7,1001.9 404.9,1000.4 409.7,997.2 409.1,996.2 397.5,998.8 390.7,997.8 375.4,998.3 370,996 362.3,993.9 367.6,991.6 357.8,990.9 349.9,987.1 347,991 333.4,988.2 M396,1004 390.4,1006.1 379.1,1008.6 390.1,1009.6 401.9,1009.9 391.2,1011.3 383.1,1011 374.4,1014.9 387,1015.4 395.3,1015.9 M308.6,1066.8 298.7,1062.6 307.5,1060.8 293.7,1059.2 291.9,1060.6 293,1064.1 286.5,1067.2 288.6,1064.3 276.5,1063 281,1059.8 286.4,1057.2 275,1057.7 262.2,1055 253.4,1054.7 254,1056.4 262.2,1055 268,1058.1 276.5,1063 M381.8,1002.4 390.4,1006.1 400.8,1005.1 413.2,1006.8 426.3,1005.1 423.5,1008.3 425.9,1010.9 432.9,1012.9 429.2,1016.8 437.4,1016.7 447.9,1017.9 452.9,1016.5 442.7,1013.6 437.4,1016.7 432.9,1012.9 442.7,1013.6 447.8,1011.5 447.4,1009.1 M364.9,998.3 369.1,1001.8 357.2,999.9 351.9,998.5 352.4,1000.2 357.2,999.9 364.6,1002.8 377.4,1004 379.1,1008.6 371.1,1010.7 374.4,1014.9 M417.1,1022.5 403,1022.8 M173.6,1044.8 156.9,1042.3 147.4,1042 134.9,1043.2 130.3,1042.7 138,1040.9 147.4,1042 156,1039.9 156.9,1042.3 166.4,1041.5 176.4,1039.5 180.5,1037.1 182.2,1039.8 190.1,1039.6 192.3,1043.6 201.5,1041.2 211.5,1041.9 210.3,1038.2 201.5,1041.2 190.1,1039.6 198.7,1036 210.3,1038.2 216,1040.6 214.1,1036.6 226.1,1038.9 M209.8,1031.6 214.1,1036.6 210.3,1038.2 204.3,1036.1 214.1,1036.6 225.2,1034.4 209.8,1031.6 204.3,1036.1 198.7,1036 182.3,1034.8 190.1,1039.6 180.5,1037.1 182.3,1034.8 169.9,1033.6 180.5,1037.1 169,1036.5 176.4,1039.5 162,1037.6 166.4,1041.5 156,1039.9 144.2,1037.4 128.1,1036.9 138,1040.9 122.3,1039.1 130.3,1042.7 119.4,1039.4 122.3,1039.1 128.1,1036.9 114.7,1037.9 119.4,1039.4 M387,1015.4 373,1016.3 360.8,1016.4 348.1,1017.4 357,1014.9 339,1013.9 335.9,1012.1 341.1,1012.4 357,1014.9 361,1011.4 358.6,1010.2 371.1,1010.7 383.1,1011 390.1,1009.6 395.2,1007.9 408.5,1009.3 423.5,1008.3 438,1008 425.9,1010.9 440.9,1010.8 432.9,1012.9 419.4,1013.1 M330.3,990.8 334.2,995.6 351.9,998.5 335.9,1000.6 347,1003.4 341.5,1005.7 337.6,1009 341.1,1012.4 M191.3,1070.7 202.4,1070.5 205.3,1071 219.8,1069.7 225,1073.1 232.4,1074.5 219.9,1076.3 234,1078.4 M278,1049.7 287.4,1054.6 275,1057.7 281,1059.8 288.6,1064.3 293,1064.1 298.7,1062.6 313.2,1065.6 321,1067.1 314,1069.3 M426.3,1005.1 438,1008 440.9,1010.8 447.8,1011.5 452.9,1016.5 458.2,1019.4 446.8,1020 M356.1,992.6 355,996.8 357.2,999.9 364.9,998.3 370,996 355,996.8 351.9,998.5 347,995.5 355,996.8 362.3,993.9 356.1,992.6 347,995.5 334.2,995.6 335.9,1000.6 333.1,1003.1 319.6,1002.2 329.8,999.1 334.2,995.6 325.8,993.1 323,995.1 334.2,995.6 336.5,990.5 330.3,990.8 325.8,993.1 318,992.4 305.4,991 293.7,991.3 290.9,986.4 293.6,981.3 301.3,979.2 317,980 309.1,977 M182.4,1068.7 190.5,1068.1 202.4,1070.5 203.6,1068.8 M407.6,1003.3 396,1004 400.8,1005.1 395.2,1007.9 390.4,1006.1 377.4,1004 364.3,1005.8 371.1,1010.7 361,1011.4 M439.1,1031.2 424.4,1030.1 431.5,1033.3 439.1,1031.2 427.8,1028.4 M453.3,1022.8 454.5,1027.6 445.8,1026.3 446.8,1029.2 439.1,1031.2 441.9,1027.8 446.8,1029.2 454.5,1027.6 462.3,1026.1 462.9,1023.6 M140.6,1032.4 144.2,1037.4 148,1037.2 156,1039.9 162,1037.6 169,1036.5 156.8,1035.4 162,1037.6 148,1037.2 156.8,1035.4 140.6,1032.4 148,1037.2 M208.6,1044.4 215.8,1047.2 M331.6,1049.4 328.3,1049.9 M362.3,993.9 357.8,990.9 356.1,992.6 347,991 336.5,990.5 347,995.5 347,991 357.8,990.9 368.5,988.9 367.6,991.6 384.2,994.1 375.4,998.3 369.1,1001.8 377.4,1004 381.8,1002.4 390.2,1002.3 397.5,998.8 400.9,1001.3 M153.8,1020.7 158.4,1023.7 167.2,1027 166.5,1030.4 169.9,1033.6 169,1036.5 164.8,1033 169.9,1033.6 181.9,1031.9 182.3,1034.8 189.9,1032.1 198.7,1036 203.8,1031.5 204.3,1036.1 M138.1,1029.3 140.6,1032.4 135.4,1035.2 128.1,1036.9 119.9,1034.1 135.4,1035.2 129.3,1032.3 119.9,1034.1 119.4,1030.3 129.3,1032.3 134,1031.7 140.6,1032.4 148.4,1031 156.8,1035.4 164.8,1033 166.5,1030.4 181.9,1031.9 189.9,1032.1 203.8,1031.5 209.8,1031.6 204.4,1028.8 203.8,1031.5 186.9,1028.5 189.9,1032.1 M416.8,998.8 423.7,1001.9 424.5,1001.4 M236,1072.4 230.6,1070.9 225,1073.1 M122.3,1039.1 114.7,1037.9 101.9,1038.3 M288.6,1064.3 291.9,1060.6 298.7,1062.6 293.7,1059.2 286.4,1057.2 291.9,1060.6 281,1059.8 268,1058.1 275,1057.7 268.3,1053 287.4,1054.6 293,1051.6 287.4,1049.3 296.1,1050.3 293,1051.6 299.3,1055.8 286.4,1057.2 287.4,1054.6 299.3,1055.8 304.1,1052.8 293,1051.6 278,1049.7 268.3,1053 262.2,1055 M238.1,1035.8 238,1033.8 225.2,1034.4 218.5,1030.9 209.8,1031.6 210.4,1027.9 218.5,1030.9 227.6,1030.8 236.4,1031.3 238,1033.8 249.4,1032.8 253.3,1034.9 M253.4,1054.7 238.5,1052.2 231.5,1051.4 M203.8,1031.5 189.7,1027.3 186.9,1028.5 181.9,1031.9 175.2,1028.1 166.5,1030.4 161.3,1028.9 164.8,1033 148.4,1031 138.1,1029.3 134,1031.7 126.2,1028.4 138.1,1029.3 152.8,1027.3 148.4,1031 161.3,1028.9 167.2,1027 175.2,1028.1 186.9,1028.5 183.5,1026.3 189.7,1027.3 204.4,1028.8 210.4,1027.9 222.3,1027.4 218.5,1030.9 M342.9,1048.6 357.1,1047.1 M167.8,1016.7 172.7,1020.9 158.4,1023.7 154.8,1025.7 161.3,1028.9 152.8,1027.3 154.8,1025.7 167.2,1027 172.7,1025.7 175.2,1028.1 183.5,1026.3 190.1,1024.8 189.7,1027.3 198.4,1026.4 204.4,1028.8 M174.2,1018 186.1,1022.1 190.1,1024.8 198.4,1026.4 210.4,1027.9 209.3,1024.7 222.3,1027.4 230.2,1025.9 236.4,1031.3 249.4,1032.8 245.7,1028 236.4,1031.3 M209.3,1024.7 198.4,1026.4 198.8,1022.6 209.3,1024.7 224.9,1024.9 230.2,1025.9 245.7,1028 257.9,1029.4 251.1,1027.3 258.1,1026.7 268.8,1023.6 255.1,1022.8 266.3,1020.9 252.3,1019.3 247.9,1023.2 251.1,1027.3 245.7,1028 247.9,1023.2 239.4,1023.4 230.2,1025.9 M227.9,1014.2 235.6,1015.7 248.8,1016.6 252.3,1019.3 239.4,1018.4 235.1,1021.8 247.9,1023.2 255.1,1022.8 M318.8,1058.4 310,1056 307.5,1060.8 302,1057.1 293.7,1059.2 299.3,1055.8 302,1057.1 310,1056 299.3,1055.8 M264.8,1036.1 272.6,1034.8 M224.9,1024.9 226.5,1024.2 239.4,1023.4 M332.1,974.9 334.3,977.3 339.6,976.4 348.4,980.2 355.5,978.1 347.9,975.6 339.6,976.4 332.1,974.9 340.2,973 339.6,976.4 M371.6,1046.2 386.2,1046.7 393.7,1044.4 401.2,1042 392.6,1040.6 M309.9,1020.9 320.8,1018.1 M129.3,1032.3 126.2,1028.4 133,1026.5 138.1,1029.3 139.9,1024.6 152.8,1027.3 M304.1,1052.8 310,1056 307.2,1052.3 304.1,1052.8 296.1,1050.3 307.2,1052.3 316.9,1052.1 M139.9,1024.6 154.8,1025.7 146.8,1022.6 158.4,1023.7 172.7,1025.7 183.5,1026.3 175.6,1023.2 190.1,1024.8 198.8,1022.6 186.1,1022.1 172.7,1020.9 175.6,1023.2 158.4,1023.7 160.8,1018.7 167.8,1016.7 174.2,1018 189.3,1018.8 198.8,1022.6 208.6,1020.2 209.3,1024.7 215.5,1021.5 226.5,1024.2 235.1,1021.8 221.7,1019.3 215.5,1021.5 208.6,1020.2 189.3,1018.8 186.1,1022.1 175.6,1023.2 172.7,1025.7 M416.2,1037.5 423.8,1035.4 419.2,1033.7 431.5,1033.3 423.8,1035.4 M189.3,1018.8 178.5,1016.8 174.2,1018 172.7,1020.9 160.8,1018.7 153.8,1020.7 146.8,1022.6 139.9,1024.6 133,1026.5 M162.8,1065.1 170.5,1067.7 M196.4,1014.2 201.3,1016.7 208.6,1020.2 211.5,1019 221.7,1019.3 218.9,1014.9 211.5,1019 201.3,1016.7 189.3,1018.8 190.2,1014.5 201.3,1016.7 206.6,1013.9 218.9,1014.9 227.9,1014.2 216,1012.4 215.8,1009.4 199.1,1011 216,1012.4 218.9,1014.9 M174.9,1014.8 167.8,1016.7 178.5,1016.8 190.2,1014.5 196.4,1014.2 206.6,1013.9 216,1012.4 221.3,1010.8 232.7,1011 245.9,1013.9 248.8,1016.6 239.4,1018.4 235.5,1017.4 221.7,1019.3 M295.4,1023 285.5,1023.9 299.5,1025.3 290.4,1027.7 299.6,1028.5 313.1,1029.9 321.8,1032 M289.1,1032.9 293.5,1032.4 299.6,1028.5 309.1,1027.6 M189.2,1010.7 196.4,1008.7 M321.3,1027.8 313.1,1029.9 M251,1000.7 244.7,1005.9 238.6,1010 245.9,1013.9 256.9,1016.3 248.8,1016.6 M265.6,1018.1 252.3,1019.3 M232.7,1011 238.6,1010 251.3,1010.8 245.9,1013.9 235.6,1015.7 235.5,1017.4 M221.3,1010.8 215.8,1009.4 220.6,1007.6 227.1,1004.4 234.6,1001.6 234.6,1005.6 244.7,1005.9 250.6,1007.6 253.1,1006 259.8,1001.8 262.5,1004.3 259.7,1007.5 M234.6,1001.6 239,1001.8 244.7,1005.9 M279,1000.7 271.9,996.3 268.2,1000.3 277.4,1002.3 295.8,1004.8 275.9,1003.7 262.5,1004.3 270.4,1006.7 M284.9,1012.1 294.2,1009 302.8,1012.2 306,1015.7 297.8,1013.5 302.8,1012.2 318.2,1012.2 325.3,1010 328.7,1013.2 335.9,1012.1 325.3,1010 328.9,1008.8 335.9,1012.1 337.6,1009 353.2,1009.4 358.6,1010.2 364.3,1005.8 359.9,1004.9 344.3,1006.7 337.6,1009 328.9,1008.8 319.5,1007.1 325.3,1010 M378.3,1020.5 392.4,1018.7 406.4,1017.4 M294.2,1009 308.7,1007 319.5,1007.1 322.2,1005.2 328.9,1008.8 341.5,1005.7 344.3,1006.7 M370.8,983.3 363.2,980.7 361,981.3 355.5,978.1 363.2,980.7 M264.6,1016.5 256.9,1016.3 M244.8,1055.6 239.3,1057.5 235.5,1052.7 223.8,1051.2 232.2,1057.1 235.5,1052.7 238.5,1052.2 244.8,1055.6 M333.1,1003.1 341.5,1005.7 322.2,1005.2 333.1,1003.1 M293.7,991.3 297.9,993.5 286.3,994.3 293.7,991.3 M241.1,1067 232.4,1068.1 222.3,1067.5 230.6,1070.9 219.8,1069.7 222.3,1067.5 231.5,1066.9 241.1,1067 M458.2,1019.4 471.6,1020.8 468.1,1017 458.2,1019.4 M304.5,1005.8 294.2,1009 293.2,1007.6 304.5,1005.8 M259.8,1001.8 251,1000.7 246,997.7 248,994.2 255.5,992.1 263.4,995.3 271.9,996.3 269.5,993.2 263.4,995.3 248,994.2 256.8,997.4 251,1000.7 239,1001.8 246,997.7 256.8,997.4 263.4,995.3 263.4,998.6 259.8,1001.8 M199.1,1011 196.4,1014.2 189.2,1010.7 190.2,1014.5 182,1012.7 174.9,1014.8 178.5,1016.8 182,1012.7 189.2,1010.7 199.1,1011 M370,996 384.2,994.1 378.9,990.9 383.9,991.7 393.8,991 401.5,993.6 397.5,998.8 409.7,997.2 416.8,998.8 409.1,996.2 401.5,993.6 387.5,995 393.8,991 386.2,988.5 378.9,990.9 367.6,991.6 370,996 M426.3,1005.1 423.7,1001.9 407.6,1003.3 426.3,1005.1" fill="none" stroke="#000" stroke-width="0.38" stroke-opacity="0.8" stroke-linejoin="round"/>
<path d="M86.2,1039.3 239.4,1090.9 239.4,1217.7 86.2,1166Z M239.4,1090.9 261.9,1085.5 284.9,1078.5 308.3,1071.1 332.3,1063.5 356.8,1055.8 381.8,1048.1 407.2,1040.2 433,1032.8 459.2,1026.7 485.7,1022 485.7,1022 492.5,1036.5 497.6,1051.3 501.7,1066.4 505.2,1081.5 508.7,1096.7 512.7,1111.7 517.9,1126.5 524.7,1141 524.7,1141 497.9,1145.8 470.8,1152.1 443.3,1159.8 415.5,1168.1 387.3,1176.5 358.6,1185 329.5,1193.6 300,1202.3 269.9,1210.6 239.4,1217.7 M86.2,1039.3 86.2,1039.3 108.7,1033.3 131.7,1026.9 155.2,1020.3 179.2,1013.5 203.6,1006.7 228.6,999.6 254,992.5 279.8,985.2 306,977.9 332.5,970.4 485.7,1022" fill="none" stroke="#000" stroke-width="0.5" stroke-opacity="0.7" stroke-linejoin="round"/>
<rect x="640.1" y="929" width="13.7" height="322" fill="url(#parula)"/>
<path d="M653.8,929 V1251" fill="none" stroke="#262626" stroke-width="0.9"/>
<path d="M653.8,1215.7 h-3 M653.8,1180.6 h-3 M653.8,1145.5 h-3 M653.8,1110.4 h-3 M653.8,1075.3 h-3 M653.8,1040.2 h-3 M653.8,1005.1 h-3 M653.8,970 h-3 M653.8,934.9 h-3" stroke="#262626" stroke-width="0.7" fill="none"/>
<g font-size="9.8" fill="#262626"><text x="656.4" y="1254.1">0</text><text x="656.4" y="1219">0.005</text><text x="656.4" y="1183.9">0.01</text><text x="656.4" y="1148.8">0.015</text><text x="656.4" y="1113.7">0.02</text><text x="656.4" y="1078.6">0.025</text><text x="656.4" y="1043.5">0.03</text><text x="656.4" y="1008.4">0.035</text><text x="656.4" y="973.3">0.04</text><text x="656.4" y="938.2">0.045</text></g>
<clipPath id="clipc"><rect x="0" y="909" width="638.8" height="382"/></clipPath>
<text x="336.3" y="1320.6" style="font-family:'Liberation Serif','Times New Roman',serif" font-weight="bold" font-size="35" fill="#000">c</text>
</g>
</svg>
</body></html>
